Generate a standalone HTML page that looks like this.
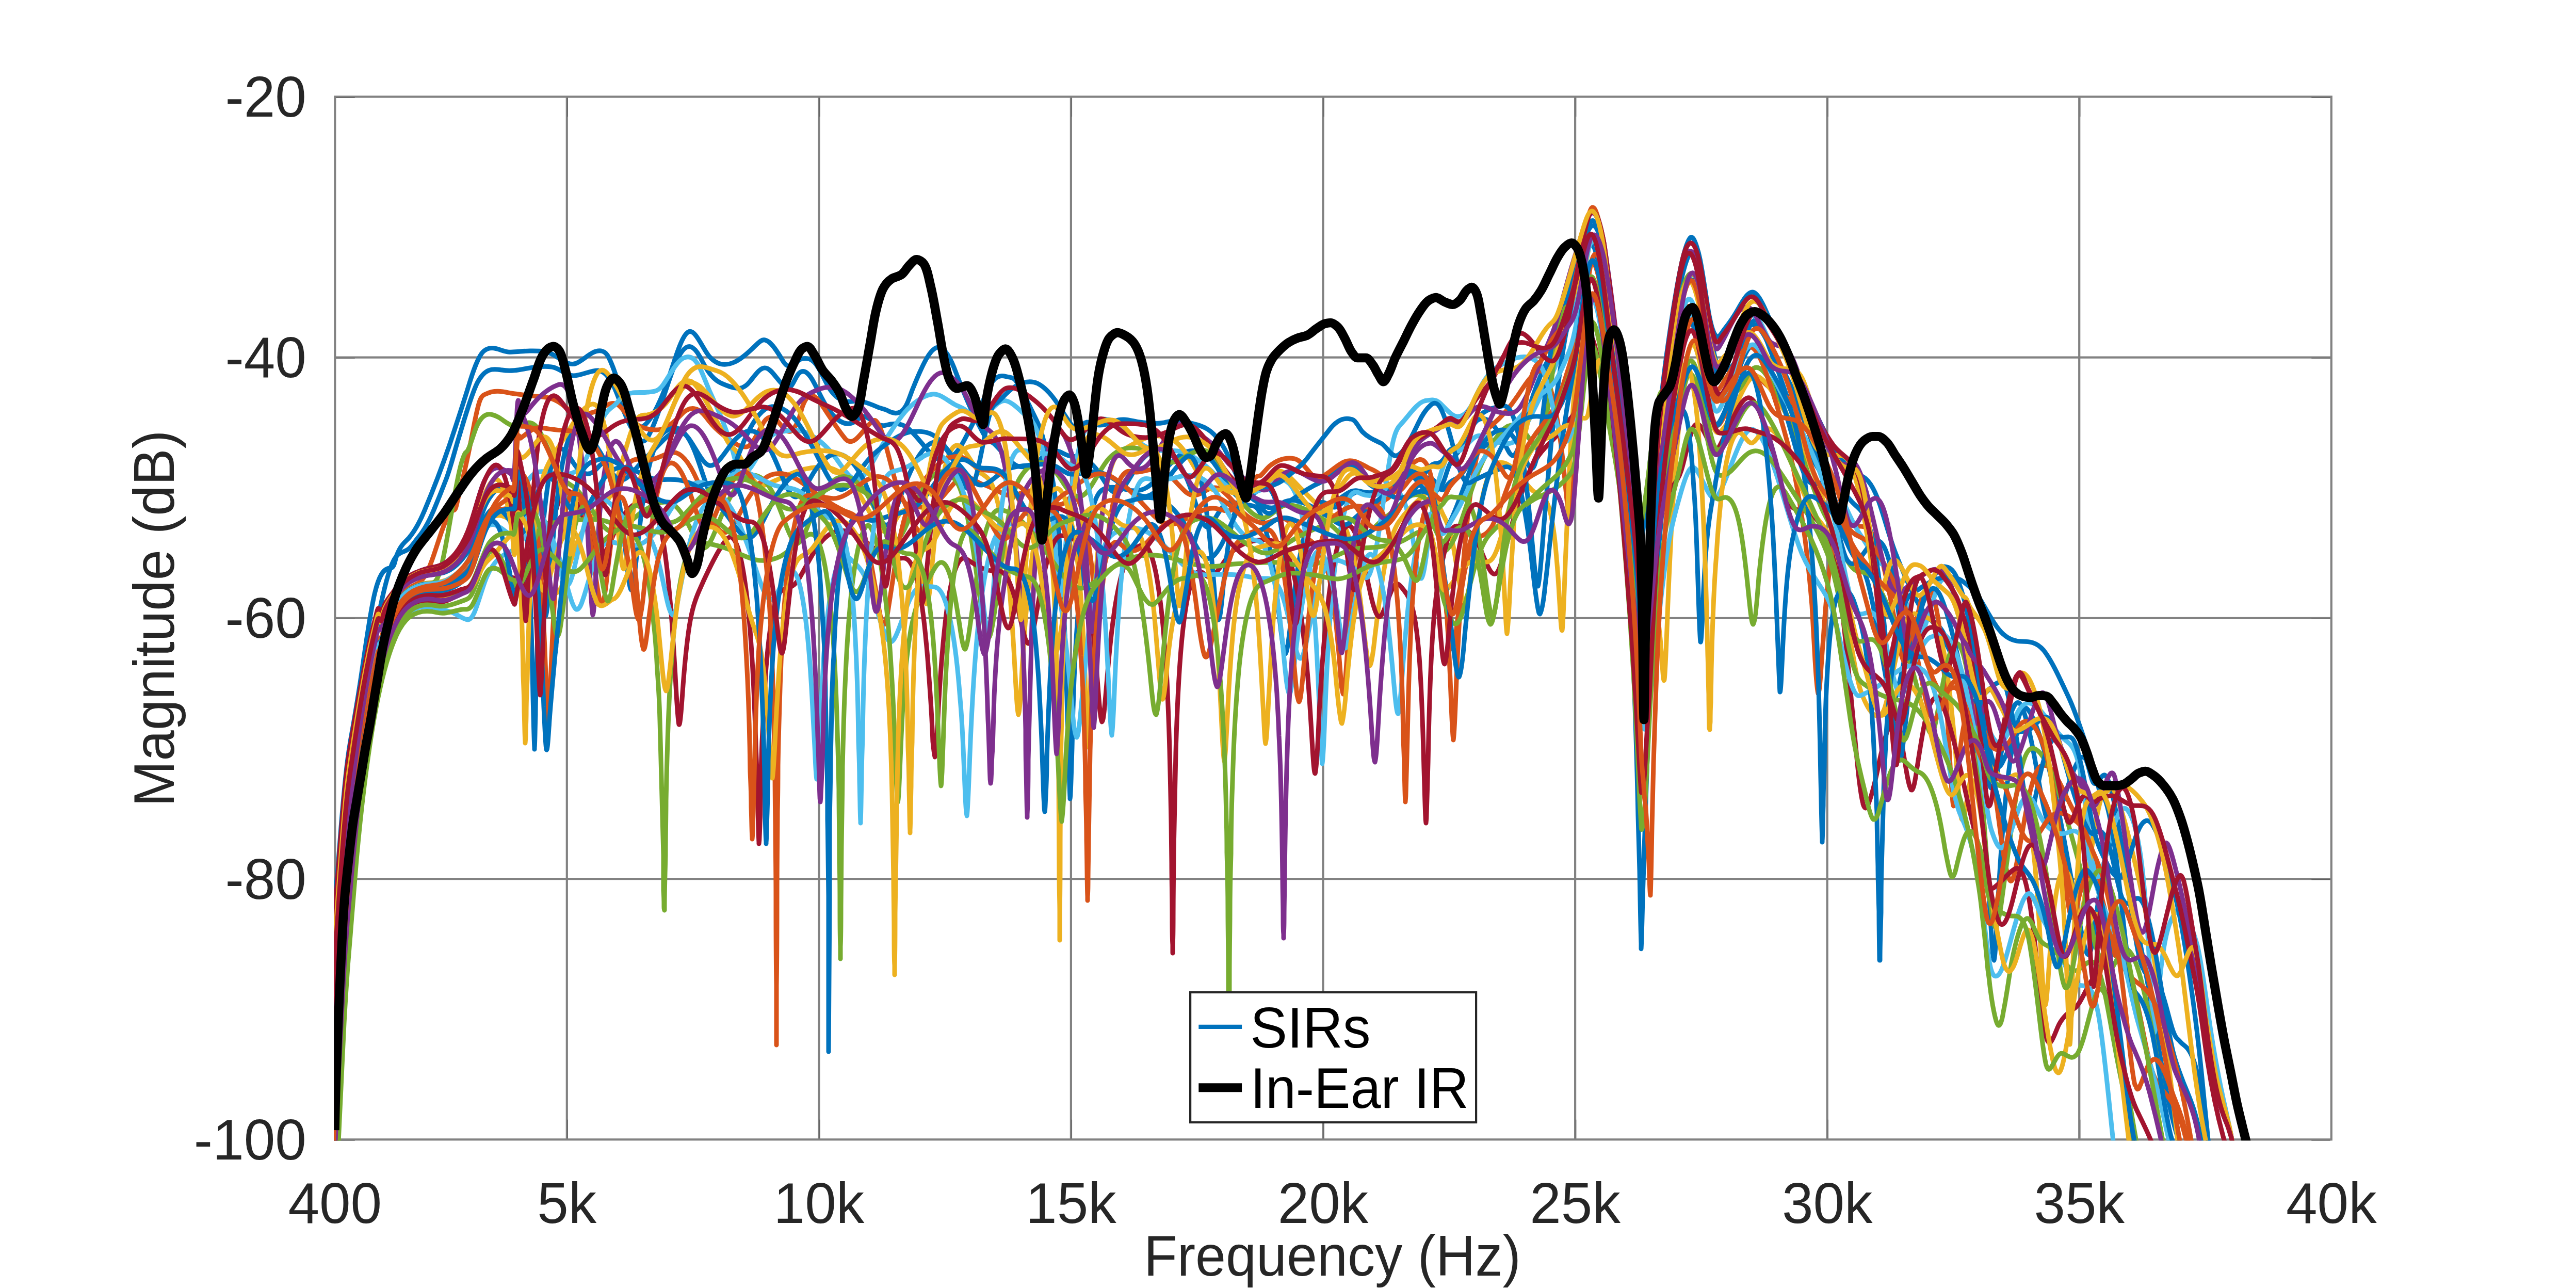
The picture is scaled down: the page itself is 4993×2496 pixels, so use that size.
<!DOCTYPE html><html><head><meta charset="utf-8"><title>plot</title><style>html,body{margin:0;padding:0;background:#fff;overflow:hidden}svg{display:block}text{font-family:"Liberation Sans",sans-serif;font-size:111.5px}</style></head><body>
<svg width="4993" height="2496" viewBox="0 0 4993 2496">
<rect width="4993" height="2496" fill="#fff"/>
<defs><clipPath id="c"><rect x="647.3" y="187.5" width="3873.5" height="2022.8000000000002"/></clipPath></defs>
<path d="M1098.8 187.5V2208.3M1587.4 187.5V2208.3M2075.9 187.5V2208.3M2564.5 187.5V2208.3M3053.1 187.5V2208.3M3541.7 187.5V2208.3M4030.2 187.5V2208.3M649.3 692.7H4518.8M649.3 1197.9H4518.8M649.3 1703.1H4518.8" stroke="#828282" stroke-width="4.2" fill="none"/>
<rect x="649.3" y="187.5" width="3869.5" height="2020.8" fill="none" stroke="#828282" stroke-width="4.2"/>
<path d="M651.3 189.0h36.5M4516.8 189.0h-36.5M651.3 694.2h36.5M4516.8 694.2h-36.5M651.3 1199.4h36.5M4516.8 1199.4h-36.5M651.3 1704.6h36.5M4516.8 1704.6h-36.5M651.3 2209.8h36.5M4516.8 2209.8h-36.5M1100.3 2206.3v-36.5M1100.3 189.5v36.5M1588.9 2206.3v-36.5M1588.9 189.5v36.5M2077.4 2206.3v-36.5M2077.4 189.5v36.5M2566.0 2206.3v-36.5M2566.0 189.5v36.5M3054.6 2206.3v-36.5M3054.6 189.5v36.5M3543.2 2206.3v-36.5M3543.2 189.5v36.5M4031.7 2206.3v-36.5M4031.7 189.5v36.5" stroke="#5c5c5c" stroke-width="1.3" fill="none"/>
<g clip-path="url(#c)" fill="none" stroke-linejoin="round">
<path d="M643 1900C645 1851 647 1789 649 1752C651 1716 653 1706 655 1681C657 1656 659 1628 661 1603C665 1554 669 1510 673 1478C677 1445 681 1426 685 1403C691 1368 697 1332 703 1290C711 1234 719 1178 727 1147C735 1115 743 1105 751 1102C755 1100 759 1104 763 1096C765 1092 767 1082 769 1076C777 1055 785 1051 793 1042C803 1030 813 1013 823 989C839 951 855 910 871 863C883 827 895 791 907 752C917 719 927 690 937 681C953 667 969 680 985 682C999 683 1013 680 1027 680C1043 680 1059 679 1075 689C1089 697 1103 710 1117 704C1133 697 1149 677 1165 680C1169 681 1173 682 1177 688C1185 700 1193 725 1201 749C1209 773 1217 802 1225 815C1231 825 1237 831 1243 828C1257 822 1271 797 1285 763C1301 725 1317 655 1333 644C1347 634 1361 675 1375 691C1391 709 1407 709 1423 702C1437 696 1451 683 1465 669C1471 663 1477 657 1483 659C1493 661 1503 676 1513 692C1517 699 1521 706 1525 708C1535 713 1545 697 1555 695C1565 693 1575 695 1585 711C1593 723 1601 743 1609 755C1623 775 1637 780 1651 778C1667 775 1683 781 1699 788C1707 792 1715 792 1723 797C1731 801 1739 803 1747 797C1751 794 1755 790 1759 780C1763 771 1767 758 1771 749C1787 710 1803 673 1819 673C1829 673 1839 687 1849 712C1865 754 1881 794 1897 823C1903 834 1909 848 1915 853C1919 857 1923 856 1927 860C1943 875 1959 900 1975 904C1991 908 2007 896 2023 885C2033 879 2043 872 2053 875C2061 878 2069 884 2077 884C2093 885 2109 888 2125 909C2139 927 2153 961 2167 954C2181 948 2195 914 2209 896C2225 876 2241 868 2257 874C2273 879 2289 898 2305 939C2313 960 2321 989 2329 1008C2335 1022 2341 1025 2347 1017C2355 1007 2363 989 2371 981C2383 969 2395 974 2407 977C2415 979 2423 978 2431 981C2441 985 2451 1010 2461 1061C2467 1091 2473 1135 2479 1189C2483 1224 2487 1263 2491 1267C2494 1267 2497 1246 2500 1221C2505 1180 2510 1135 2515 1104C2525 1042 2535 1010 2545 997C2553 986 2561 989 2569 985C2585 977 2601 961 2617 953C2631 946 2645 958 2659 954C2671 950 2683 944 2695 938C2705 934 2715 920 2725 916C2739 912 2753 949 2767 951C2771 951 2775 949 2779 950C2785 950 2791 950 2797 936C2801 927 2805 911 2809 902C2817 884 2825 880 2833 866C2843 847 2853 823 2863 815C2879 803 2895 820 2911 849C2919 863 2927 888 2935 882C2945 874 2955 823 2965 788C2979 739 2993 711 3007 686C3019 665 3031 625 3043 590C3049 573 3055 553 3061 529C3069 497 3077 456 3085 457C3093 458 3101 490 3109 542C3113 568 3117 600 3121 629C3127 673 3133 717 3139 775C3145 832 3151 901 3157 945C3163 989 3169 1016 3175 1023C3177 1026 3179 1029 3181 1024C3183 1018 3185 1002 3187 991C3189 981 3191 969 3193 961C3195 953 3197 948 3199 945C3201 941 3203 951 3205 939C3207 927 3209 897 3211 874C3213 852 3215 824 3217 803C3223 738 3229 695 3235 654C3247 570 3259 497 3271 470C3273 465 3275 461 3277 460C3281 458 3285 466 3289 479C3291 485 3293 492 3295 502C3299 521 3303 549 3307 574C3309 587 3311 602 3313 612C3319 643 3325 655 3331 652C3335 650 3339 642 3343 637C3351 627 3359 616 3367 602C3379 581 3391 558 3403 569C3415 579 3427 613 3439 639C3455 674 3471 704 3487 736C3503 768 3519 801 3535 833C3551 865 3567 887 3583 905C3591 913 3599 919 3607 922C3619 926 3631 941 3643 976C3653 1005 3663 1043 3673 1069C3687 1105 3701 1138 3715 1164C3731 1195 3747 1200 3763 1229C3775 1251 3787 1279 3799 1304C3803 1313 3807 1316 3811 1326C3813 1331 3815 1338 3817 1345C3821 1358 3825 1367 3829 1383C3835 1405 3840 1437 3846 1472C3850 1498 3854 1523 3859 1527C3859 1527 3859 1527 3859 1527C3862 1529 3865 1521 3868 1510C3875 1484 3882 1439 3889 1412C3899 1374 3909 1347 3919 1370C3927 1388 3935 1422 3943 1465C3951 1508 3959 1563 3967 1586C3973 1604 3979 1603 3985 1590C3993 1573 4001 1544 4009 1521C4017 1499 4025 1475 4033 1469C4037 1465 4041 1466 4045 1477C4049 1487 4053 1509 4057 1516C4065 1528 4073 1496 4081 1503C4089 1511 4097 1548 4105 1593C4113 1637 4121 1695 4129 1751C4138 1811 4146 1867 4155 1879C4156 1882 4158 1885 4159 1886C4168 1897 4176 1891 4185 1909C4193 1925 4200 1957 4208 1985C4211 1996 4214 2004 4217 2009C4220 2014 4223 2015 4226 2019C4232 2026 4238 2027 4243 2036C4251 2048 4259 2070 4267 2121C4275 2172 4283 2236 4291 2282C4301 2340 4311 2375 4321 2421C4325 2440 4329 2462 4333 2488C4347 2579 4361 2672 4375 2766C4387 2846 4399 2921 4411 2966C4413 2974 4415 2980 4417 2987" stroke="#0072BD" stroke-width="9"/>
<path d="M643 1912C645 1909 647 1913 649 1901C651 1889 653 1868 655 1838C657 1807 659 1751 661 1718C663 1685 665 1666 667 1641C671 1591 675 1541 679 1504C685 1448 691 1420 697 1385C709 1316 721 1258 733 1197C743 1146 753 1105 763 1086C773 1067 783 1072 793 1063C799 1058 805 1048 811 1041C821 1029 831 1012 841 988C849 969 857 949 865 928C873 907 881 875 889 849C901 810 913 766 925 742C941 711 957 715 973 717C989 720 1005 717 1021 714C1037 711 1053 709 1069 711C1083 712 1097 728 1111 728C1127 728 1143 718 1159 718C1171 719 1183 731 1195 761C1203 781 1211 803 1219 820C1231 844 1243 867 1255 848C1271 822 1287 764 1303 720C1315 688 1327 668 1339 672C1345 674 1351 681 1357 692C1363 703 1369 716 1375 723C1389 742 1403 745 1417 750C1429 754 1441 755 1453 740C1463 728 1473 712 1483 713C1495 713 1507 738 1519 747C1523 749 1527 754 1531 751C1537 747 1543 728 1549 723C1559 714 1569 724 1579 744C1589 763 1599 786 1609 798C1625 818 1641 827 1657 817C1663 813 1669 806 1675 807C1689 810 1703 829 1717 824C1731 820 1745 819 1759 829C1775 842 1791 866 1807 882C1821 896 1835 892 1849 881C1861 872 1873 845 1885 822C1893 806 1901 788 1909 768C1917 749 1925 735 1933 731C1941 726 1949 730 1957 731C1961 732 1965 732 1969 738C1981 754 1993 782 2005 806C2011 818 2017 830 2023 854C2025 862 2027 873 2029 881C2035 903 2041 923 2047 979C2052 1022 2056 1076 2061 1163C2064 1224 2067 1299 2070 1431C2072 1474 2073 1531 2074 1545C2074 1547 2074 1547 2074 1548C2074 1547 2075 1544 2075 1537C2076 1518 2077 1481 2078 1449C2081 1303 2085 1245 2089 1195C2095 1118 2101 1073 2107 1037C2117 977 2127 954 2137 949C2153 940 2169 946 2185 949C2201 953 2217 952 2233 937C2249 923 2265 900 2281 887C2297 873 2313 870 2329 878C2339 882 2349 890 2359 906C2375 932 2391 963 2407 966C2421 969 2435 949 2449 945C2458 943 2466 946 2475 978C2481 1002 2487 1045 2494 1107C2498 1148 2502 1202 2506 1208C2506 1209 2506 1209 2507 1209C2510 1210 2513 1186 2516 1160C2521 1116 2526 1074 2531 1046C2540 994 2549 977 2559 974C2568 970 2578 984 2587 983C2603 980 2619 951 2635 953C2645 954 2655 957 2665 954C2679 950 2693 950 2707 939C2717 931 2727 920 2737 922C2747 923 2757 926 2767 926C2771 926 2775 926 2779 931C2785 938 2791 951 2797 949C2801 948 2805 939 2809 936C2817 928 2825 929 2833 919C2843 906 2853 886 2863 876C2879 860 2895 857 2911 844C2927 831 2943 819 2959 796C2975 773 2991 746 3007 717C3019 696 3031 653 3043 616C3049 597 3055 576 3061 549C3069 514 3077 471 3085 474C3093 478 3101 518 3109 570C3113 596 3117 626 3121 653C3127 692 3133 728 3139 776C3147 840 3155 914 3163 966C3167 993 3171 1016 3175 1033C3177 1041 3179 1058 3181 1054C3183 1050 3185 1025 3187 1007C3189 988 3191 963 3193 943C3195 924 3197 905 3199 887C3201 870 3203 850 3205 838C3209 816 3213 820 3217 815C3219 812 3221 817 3223 804C3225 792 3227 760 3229 740C3239 642 3249 583 3259 541C3263 524 3267 510 3271 500C3273 495 3275 490 3277 489C3281 487 3285 495 3289 507C3299 536 3309 617 3319 668C3321 678 3323 689 3325 696C3329 710 3333 712 3337 714C3349 722 3361 711 3373 681C3383 656 3393 617 3403 621C3413 624 3423 657 3433 683C3449 723 3465 775 3481 817C3497 859 3513 891 3529 916C3539 932 3549 948 3559 974C3573 1009 3587 1057 3601 1084C3607 1095 3613 1104 3619 1124C3629 1158 3639 1216 3649 1276C3655 1311 3661 1351 3667 1358C3668 1358 3669 1359 3669 1359C3673 1358 3676 1348 3679 1334C3687 1302 3694 1259 3701 1233C3711 1198 3721 1191 3731 1195C3738 1198 3745 1203 3751 1207C3765 1216 3779 1246 3793 1298C3797 1313 3801 1328 3805 1344C3813 1376 3821 1421 3829 1471C3837 1520 3845 1579 3853 1698C3855 1728 3857 1761 3859 1796C3861 1830 3863 1860 3865 1861C3867 1858 3869 1816 3871 1777C3875 1703 3879 1640 3883 1594C3889 1524 3895 1480 3901 1444C3910 1392 3918 1366 3927 1372C3940 1381 3954 1423 3967 1472C3979 1516 3991 1573 4003 1639C4011 1684 4019 1728 4027 1770C4032 1793 4036 1815 4040 1832C4043 1844 4046 1852 4049 1850C4052 1847 4055 1834 4058 1812C4064 1770 4070 1721 4075 1689C4085 1632 4095 1623 4105 1644C4115 1664 4125 1715 4135 1762C4147 1819 4159 1882 4171 1953C4185 2036 4199 2123 4213 2176C4219 2199 4225 2217 4231 2240C4243 2285 4255 2328 4267 2404C4277 2467 4287 2538 4297 2600C4309 2675 4321 2742 4333 2833C4349 2955 4365 3057 4381 3127C4393 3179 4405 3215 4417 3252" stroke="#0072BD" stroke-width="9"/>
<path d="M643 2141C645 2098 647 2051 649 2012C651 1973 653 1941 655 1907C661 1805 667 1708 673 1644C675 1623 677 1607 679 1590C691 1483 703 1393 715 1326C719 1304 723 1283 727 1265C729 1256 731 1245 733 1240C735 1235 737 1240 739 1235C741 1231 743 1221 745 1216C753 1192 761 1179 769 1165C783 1142 797 1137 811 1130C821 1125 831 1105 841 1075C851 1046 861 1010 871 996C873 993 875 992 877 990C879 988 881 990 883 985C885 980 887 969 889 961C897 929 905 894 913 854C919 823 925 787 931 774C935 765 939 765 943 763C959 755 975 759 991 762C1007 764 1023 767 1039 768C1055 769 1071 770 1087 782C1099 791 1111 802 1123 802C1137 802 1151 801 1165 792C1177 784 1189 776 1201 787C1209 794 1217 807 1225 815C1241 830 1257 833 1273 833C1289 833 1305 820 1321 803C1337 786 1353 788 1369 809C1385 831 1401 843 1417 854C1427 862 1437 867 1447 866C1457 865 1467 842 1477 824C1487 805 1497 804 1507 816C1517 827 1527 844 1537 832C1541 828 1545 821 1549 810C1551 804 1553 795 1555 789C1571 744 1587 776 1603 800C1615 818 1627 837 1639 851C1655 868 1671 835 1687 820C1691 816 1695 812 1699 817C1713 831 1727 911 1741 950C1749 972 1757 980 1765 981C1781 981 1797 989 1813 976C1829 964 1845 937 1861 926C1875 917 1889 933 1903 938C1917 942 1931 950 1945 957C1959 964 1973 958 1987 953C2001 948 2015 953 2029 964C2042 975 2054 985 2067 971C2077 959 2087 955 2097 987C2103 1007 2109 1042 2116 1097C2120 1135 2124 1189 2128 1190C2128 1190 2129 1190 2129 1190C2132 1187 2135 1157 2138 1127C2143 1076 2148 1030 2153 1000C2162 943 2171 923 2181 916C2188 910 2196 916 2203 915C2219 914 2235 906 2251 911C2267 917 2283 940 2299 954C2311 964 2323 960 2335 952C2345 946 2355 942 2365 948C2377 956 2389 970 2401 984C2415 1001 2429 1009 2443 1013C2459 1018 2475 1000 2491 1006C2507 1013 2523 1036 2539 1047C2549 1054 2559 1064 2569 1093C2577 1115 2585 1152 2593 1244C2596 1272 2598 1307 2600 1329C2602 1340 2603 1346 2604 1345C2607 1339 2610 1285 2613 1241C2618 1162 2624 1107 2629 1071C2638 1012 2647 995 2656 984C2665 972 2674 975 2683 970C2691 966 2699 960 2707 947C2717 931 2727 906 2737 899C2747 891 2757 883 2767 903C2773 915 2779 942 2785 987C2790 1021 2794 1066 2799 1119C2803 1165 2807 1224 2811 1318C2813 1365 2815 1430 2817 1434C2819 1430 2821 1366 2823 1318C2829 1173 2835 1101 2841 1039C2850 941 2860 889 2869 859C2877 834 2885 830 2893 823C2909 809 2925 792 2941 768C2955 747 2969 724 2983 719C2993 715 3003 736 3013 785C3019 814 3025 849 3031 909C3035 947 3039 1001 3043 996C3046 990 3049 945 3052 899C3060 781 3067 653 3075 579C3076 566 3078 551 3079 540C3085 494 3091 487 3097 495C3103 503 3109 542 3115 583C3123 638 3131 694 3139 769C3145 826 3151 887 3157 944C3163 1000 3169 1053 3175 1132C3177 1159 3179 1205 3181 1220C3185 1249 3189 1211 3193 1179C3195 1163 3197 1153 3199 1125C3201 1098 3203 1046 3205 1014C3211 918 3217 867 3223 821C3231 759 3239 715 3247 673C3257 622 3267 583 3277 596C3283 604 3289 631 3295 667C3303 715 3311 781 3319 808C3321 815 3323 820 3325 823C3331 830 3337 816 3343 805C3359 775 3375 730 3391 725C3405 721 3419 745 3433 753C3449 763 3465 767 3481 788C3497 809 3513 854 3529 896C3541 928 3553 964 3565 991C3579 1021 3593 1020 3607 1020C3619 1020 3631 1029 3643 1068C3653 1100 3663 1151 3673 1206C3679 1239 3685 1277 3691 1283C3692 1284 3692 1284 3693 1284C3696 1283 3700 1270 3703 1254C3711 1220 3718 1184 3725 1159C3732 1137 3739 1134 3745 1150C3753 1169 3761 1213 3769 1313C3772 1345 3774 1385 3777 1430C3780 1482 3783 1548 3786 1561C3789 1569 3792 1525 3795 1494C3800 1438 3806 1404 3811 1386C3814 1378 3816 1377 3818 1373C3825 1360 3831 1357 3838 1371C3845 1387 3852 1432 3859 1478C3867 1530 3875 1600 3883 1653C3887 1677 3891 1697 3895 1705C3898 1711 3901 1706 3904 1695C3911 1669 3919 1614 3927 1572C3937 1517 3947 1487 3957 1484C3964 1482 3972 1484 3979 1494C3995 1516 4011 1561 4027 1585C4035 1597 4043 1613 4050 1643C4057 1669 4063 1688 4069 1719C4076 1750 4082 1796 4089 1825C4090 1830 4091 1835 4092 1838C4095 1846 4098 1851 4101 1853C4107 1856 4112 1852 4117 1858C4125 1867 4133 1900 4141 1936C4151 1980 4161 2044 4171 2074C4183 2111 4195 2113 4207 2132C4215 2144 4223 2157 4231 2185C4243 2227 4255 2282 4267 2367C4275 2423 4283 2485 4291 2530C4301 2587 4311 2618 4321 2654C4325 2668 4329 2685 4333 2705C4347 2776 4361 2852 4375 2950C4387 3033 4399 3136 4411 3184C4413 3192 4415 3197 4417 3203" stroke="#D95319" stroke-width="9"/>
<path d="M643 2029C645 1991 647 1949 649 1914C651 1879 653 1850 655 1819C661 1726 667 1635 673 1577C677 1538 681 1512 685 1482C699 1377 713 1294 727 1235C729 1227 731 1216 733 1212C735 1208 737 1216 739 1213C741 1211 743 1200 745 1195C753 1174 761 1163 769 1151C785 1126 801 1120 817 1115C833 1109 849 1112 865 1103C879 1096 893 1083 907 1067C919 1054 931 1017 943 1005C959 989 975 1001 991 1005C993 1006 995 1016 997 1007C999 997 1001 960 1003 950C1005 940 1007 949 1009 948C1017 942 1025 927 1033 920C1049 907 1065 918 1081 919C1095 921 1109 920 1123 909C1139 895 1155 834 1171 806C1177 796 1183 791 1189 787C1195 783 1201 773 1207 769C1223 757 1239 762 1255 760C1265 759 1275 760 1285 746C1299 726 1313 697 1327 693C1337 689 1347 693 1357 714C1363 727 1369 743 1375 757C1389 788 1403 816 1417 863C1421 876 1425 893 1429 906C1431 912 1433 920 1435 922C1437 925 1439 921 1441 920C1457 912 1473 872 1489 851C1501 836 1513 837 1525 835C1541 831 1557 834 1573 844C1589 853 1605 867 1621 889C1637 911 1653 939 1669 926C1683 915 1697 884 1711 861C1727 835 1743 810 1759 793C1775 777 1791 766 1807 764C1821 762 1835 775 1849 783C1857 788 1865 789 1873 796C1883 805 1893 815 1903 809C1919 800 1935 772 1951 777C1965 781 1979 798 1993 809C2003 816 2013 834 2023 881C2030 910 2036 949 2042 1019C2044 1046 2047 1078 2049 1107C2051 1132 2053 1153 2055 1156C2058 1156 2062 1102 2065 1062C2073 969 2081 915 2089 879C2099 835 2109 820 2119 816C2135 811 2151 809 2167 822C2183 834 2199 852 2215 862C2231 873 2247 874 2263 873C2279 873 2295 874 2311 884C2327 894 2343 906 2359 924C2373 939 2387 950 2401 956C2415 963 2429 954 2443 950C2457 946 2471 924 2485 929C2497 933 2509 940 2521 988C2529 1020 2537 1063 2545 1158C2549 1205 2553 1266 2557 1366C2559 1413 2561 1475 2563 1480C2565 1477 2567 1409 2569 1362C2575 1216 2581 1152 2587 1102C2597 1019 2607 980 2617 962C2625 948 2633 955 2641 958C2657 964 2673 958 2689 950C2699 946 2709 946 2719 966C2725 978 2731 1000 2737 1034C2742 1066 2747 1112 2753 1120C2753 1121 2754 1121 2755 1121C2758 1119 2761 1102 2764 1081C2767 1059 2770 1032 2773 1010C2781 954 2789 927 2797 905C2801 894 2805 881 2809 875C2815 866 2821 875 2827 874C2839 871 2851 849 2863 845C2879 841 2895 857 2911 859C2921 860 2931 862 2941 850C2957 832 2973 793 2989 762C2999 742 3009 728 3019 698C3027 674 3035 646 3043 619C3049 599 3055 575 3061 546C3069 507 3077 462 3085 462C3093 461 3101 494 3109 545C3113 570 3117 602 3121 631C3127 674 3133 718 3139 772C3145 827 3151 885 3157 939C3163 994 3169 1045 3175 1125C3177 1152 3179 1198 3181 1214C3183 1229 3185 1223 3187 1217C3189 1211 3191 1193 3193 1177C3195 1162 3197 1152 3199 1125C3201 1098 3203 1046 3205 1015C3211 922 3217 877 3223 836C3231 781 3239 745 3247 708C3259 651 3271 601 3283 612C3287 616 3291 623 3295 636C3305 668 3315 731 3325 735C3331 737 3337 717 3343 705C3357 675 3371 638 3385 619C3395 606 3405 611 3415 630C3421 641 3427 657 3433 669C3449 703 3465 740 3481 775C3497 810 3513 848 3529 877C3541 899 3553 923 3565 953C3579 987 3593 1018 3607 1038C3621 1059 3635 1086 3649 1094C3659 1099 3669 1100 3679 1122C3688 1140 3696 1170 3704 1202C3708 1218 3713 1232 3717 1235C3717 1235 3717 1235 3717 1236C3721 1238 3724 1233 3727 1225C3735 1205 3743 1174 3751 1151C3755 1139 3759 1128 3763 1125C3775 1113 3787 1147 3799 1190C3803 1205 3807 1217 3811 1234C3813 1243 3815 1255 3817 1264C3827 1311 3837 1352 3847 1388C3855 1417 3863 1433 3871 1439C3883 1447 3895 1415 3907 1388C3923 1352 3939 1360 3955 1377C3971 1395 3987 1422 4003 1434C4011 1441 4019 1444 4027 1473C4034 1497 4040 1544 4047 1600C4051 1635 4055 1670 4059 1685C4061 1692 4063 1698 4065 1699C4068 1701 4072 1694 4075 1682C4083 1658 4090 1621 4097 1601C4106 1575 4114 1560 4123 1569C4131 1579 4139 1596 4147 1645C4153 1681 4159 1739 4165 1846C4167 1883 4169 1927 4172 1962C4173 1981 4174 1995 4175 2000C4178 2008 4181 1957 4184 1922C4192 1832 4200 1802 4207 1786C4215 1769 4223 1753 4231 1762C4237 1769 4243 1784 4249 1801C4253 1812 4257 1822 4261 1841C4269 1878 4277 1944 4285 1997C4293 2049 4301 2091 4309 2128C4315 2155 4321 2179 4327 2215C4331 2240 4335 2273 4339 2301C4347 2358 4355 2411 4363 2465C4379 2573 4395 2672 4411 2760C4413 2771 4415 2781 4417 2792" stroke="#4DBEEE" stroke-width="9"/>
<path d="M643 2180C645 2135 647 2085 649 2045C651 2004 653 1971 655 1936C661 1831 667 1730 673 1664C675 1642 677 1626 679 1607C687 1534 695 1467 703 1412C711 1357 719 1312 727 1276C729 1267 731 1256 733 1250C735 1245 737 1248 739 1243C741 1239 743 1229 745 1223C753 1199 761 1184 769 1171C785 1143 801 1137 817 1132C833 1127 849 1131 865 1124C879 1118 893 1108 907 1092C921 1076 935 1021 949 1007C963 993 977 999 991 1009C993 1011 995 1020 997 1014C999 1008 1001 974 1003 972C1004 971 1005 974 1006 975C1016 988 1026 998 1036 1029C1043 1052 1051 1090 1059 1116C1062 1127 1065 1135 1068 1141C1071 1147 1074 1151 1077 1150C1084 1149 1092 1132 1100 1107C1110 1075 1120 1043 1130 1028C1144 1005 1157 988 1171 976C1179 970 1187 956 1195 931C1209 889 1223 823 1237 809C1243 803 1249 805 1255 804C1269 801 1283 794 1297 774C1307 759 1317 742 1327 739C1333 737 1339 737 1345 743C1361 759 1377 795 1393 823C1401 837 1409 857 1417 865C1421 868 1425 871 1429 877C1443 898 1457 934 1471 940C1481 944 1491 936 1501 932C1517 925 1533 917 1549 912C1565 907 1581 905 1597 905C1613 906 1629 913 1645 930C1661 947 1677 977 1693 1006C1703 1024 1713 1036 1723 1027C1733 1018 1743 988 1753 989C1762 991 1771 1010 1779 1064C1783 1089 1787 1126 1791 1151C1793 1164 1795 1172 1797 1170C1801 1164 1804 1127 1807 1092C1813 1027 1819 974 1825 939C1835 881 1845 863 1855 863C1869 864 1883 899 1897 913C1907 923 1917 921 1927 950C1937 979 1946 1025 1956 1133C1959 1167 1962 1208 1965 1258C1968 1308 1971 1380 1974 1385C1976 1384 1979 1337 1981 1297C1987 1199 1993 1136 1999 1091C2009 1016 2019 980 2029 962C2035 951 2041 950 2047 947C2055 944 2063 959 2071 989C2078 1013 2084 1043 2091 1110C2095 1152 2099 1204 2103 1307C2104 1341 2106 1387 2107 1420C2108 1437 2108 1446 2109 1448C2110 1445 2110 1434 2111 1417C2112 1398 2113 1371 2113 1347C2119 1164 2125 1094 2131 1038C2139 962 2147 926 2155 902C2165 873 2175 873 2185 867C2201 858 2217 848 2233 846C2249 843 2265 845 2281 858C2297 871 2313 902 2329 929C2341 948 2353 952 2365 949C2375 946 2385 941 2395 943C2405 944 2415 944 2425 942C2431 941 2437 937 2443 936C2457 932 2471 908 2485 914C2499 920 2513 939 2527 952C2543 968 2559 986 2575 995C2587 1001 2599 998 2611 1031C2620 1055 2628 1097 2637 1165C2641 1197 2645 1238 2649 1266C2651 1280 2653 1289 2655 1290C2658 1289 2662 1262 2665 1233C2671 1183 2677 1135 2683 1102C2693 1048 2703 1022 2713 1009C2727 989 2741 977 2755 964C2761 959 2767 950 2773 951C2782 952 2790 986 2799 1001C2805 1012 2811 1028 2817 1059C2822 1087 2828 1127 2833 1152C2836 1163 2838 1169 2841 1166C2844 1161 2848 1138 2851 1112C2857 1066 2863 1019 2869 986C2879 931 2889 905 2899 899C2913 891 2927 901 2941 916C2951 927 2961 942 2971 951C2980 958 2988 959 2996 970C3002 979 3009 998 3015 1059C3017 1081 3020 1113 3022 1151C3024 1183 3026 1228 3028 1221C3030 1208 3032 1143 3034 1091C3037 1009 3040 942 3043 887C3047 817 3051 764 3055 712C3065 584 3075 478 3085 466C3089 461 3093 468 3097 481C3101 493 3105 512 3109 536C3113 561 3117 593 3121 622C3127 667 3133 713 3139 770C3145 828 3151 890 3157 948C3161 986 3165 1022 3169 1070C3171 1095 3173 1123 3175 1152C3177 1181 3179 1239 3181 1254C3182 1260 3183 1259 3184 1262C3185 1266 3186 1273 3187 1275C3190 1277 3192 1262 3194 1254C3196 1248 3198 1251 3199 1239C3201 1226 3203 1200 3205 1192C3206 1188 3207 1188 3208 1187C3210 1186 3211 1187 3213 1196C3214 1205 3216 1215 3217 1229C3220 1251 3222 1296 3224 1314C3225 1319 3225 1320 3226 1317C3228 1302 3230 1243 3232 1193C3234 1135 3237 1081 3239 1037C3245 918 3252 845 3258 783C3266 700 3275 659 3283 668C3297 683 3311 815 3325 835C3331 844 3337 834 3343 827C3359 806 3375 754 3391 736C3407 717 3423 741 3439 765C3455 788 3471 816 3487 851C3503 885 3519 924 3535 973C3543 998 3551 1026 3559 1070C3569 1125 3579 1208 3590 1260C3595 1290 3601 1323 3607 1340C3616 1365 3625 1381 3634 1386C3639 1389 3644 1390 3650 1380C3650 1378 3651 1377 3652 1375C3655 1367 3658 1355 3661 1340C3669 1304 3677 1261 3685 1232C3695 1199 3704 1186 3714 1190C3724 1195 3735 1194 3745 1203C3754 1211 3762 1229 3771 1281C3777 1320 3783 1373 3790 1451C3794 1502 3798 1571 3802 1587C3802 1587 3803 1588 3803 1588C3806 1596 3809 1573 3812 1554C3818 1517 3823 1484 3829 1469C3835 1453 3841 1452 3847 1461C3859 1479 3871 1505 3883 1508C3890 1509 3896 1508 3902 1503C3912 1496 3922 1509 3932 1574C3940 1624 3948 1699 3955 1831C3958 1881 3961 1942 3964 1948C3967 1949 3970 1892 3973 1852C3979 1769 3985 1727 3991 1704C3997 1682 4003 1682 4009 1694C4015 1705 4020 1737 4026 1760C4028 1771 4031 1776 4033 1774C4037 1768 4041 1735 4045 1707C4049 1678 4053 1653 4057 1626C4067 1559 4077 1523 4087 1520C4093 1519 4099 1534 4105 1550C4117 1582 4129 1633 4141 1684C4157 1752 4173 1835 4189 1950C4201 2036 4213 2143 4225 2243C4231 2293 4237 2342 4243 2373C4251 2414 4259 2425 4267 2449C4277 2479 4287 2511 4297 2537C4307 2563 4317 2582 4327 2625C4333 2651 4339 2686 4345 2717C4361 2798 4377 2885 4393 2967C4401 3008 4409 3047 4417 3085" stroke="#EDB120" stroke-width="9"/>
<path d="M643 2183C645 2138 647 2089 649 2048C651 2007 653 1974 655 1939C661 1834 667 1733 673 1666C675 1644 677 1627 679 1609C687 1534 695 1466 703 1410C711 1355 719 1310 727 1273C729 1264 731 1253 733 1248C735 1243 737 1246 739 1242C741 1237 743 1227 745 1221C753 1198 761 1183 769 1170C785 1143 801 1138 817 1133C823 1131 829 1131 835 1131C841 1130 847 1127 853 1107C867 1059 881 940 895 895C897 888 899 883 901 879C903 876 905 876 907 872C913 861 919 836 925 824C939 795 953 802 967 809C977 815 987 825 997 825C1013 824 1029 807 1045 834C1061 861 1077 913 1093 930C1101 938 1109 940 1117 948C1133 963 1149 992 1165 1014C1177 1030 1189 1036 1201 1028C1217 1018 1233 998 1249 989C1265 979 1281 970 1297 974C1311 977 1325 997 1339 1026C1349 1046 1359 1068 1369 1060C1379 1052 1389 1021 1399 998C1415 960 1431 934 1447 925C1463 916 1479 922 1495 950C1505 967 1515 996 1525 1022C1533 1042 1541 1058 1549 1051C1559 1043 1569 1008 1579 986C1595 950 1611 930 1627 925C1643 920 1659 929 1675 950C1687 966 1699 993 1711 1018C1721 1039 1731 1056 1741 1045C1753 1033 1765 996 1777 971C1793 937 1809 914 1825 914C1835 914 1845 920 1855 935C1865 950 1875 994 1885 1058C1892 1102 1899 1161 1906 1202C1909 1221 1912 1233 1915 1236C1918 1238 1921 1227 1924 1210C1931 1168 1939 1097 1947 1047C1957 982 1967 941 1977 926C1992 902 2008 893 2023 897C2035 900 2047 914 2059 933C2075 959 2091 972 2107 953C2121 936 2135 904 2149 889C2165 871 2181 867 2197 868C2213 868 2229 878 2245 888C2259 897 2273 899 2287 891C2303 882 2319 871 2335 873C2345 875 2355 883 2365 899C2377 918 2389 941 2401 962C2415 986 2429 999 2443 1003C2459 1009 2475 982 2491 979C2507 977 2523 983 2539 991C2555 999 2571 1009 2587 1024C2601 1037 2615 1056 2629 1050C2645 1043 2661 1024 2677 1010C2691 998 2705 988 2719 973C2735 955 2751 954 2767 970C2771 973 2775 979 2779 994C2785 1015 2791 1055 2797 1064C2801 1071 2805 1065 2809 1060C2825 1041 2841 981 2857 936C2873 891 2889 862 2905 842C2921 821 2937 817 2953 835C2959 842 2965 851 2971 860C2977 868 2983 876 2989 854C2999 817 3009 712 3019 652C3025 615 3031 594 3037 585C3039 582 3041 581 3043 580C3045 578 3047 580 3049 575C3051 570 3053 557 3055 549C3063 517 3071 493 3079 477C3087 461 3095 463 3103 496C3111 530 3119 599 3127 662C3133 708 3139 758 3145 818C3151 878 3157 947 3163 998C3165 1015 3167 1035 3169 1043C3171 1052 3173 1053 3175 1049C3177 1044 3179 1029 3181 1018C3187 984 3193 938 3199 886C3201 868 3203 848 3205 832C3209 800 3213 778 3217 765C3219 759 3221 758 3223 755C3225 752 3227 756 3229 748C3231 740 3233 721 3235 708C3245 643 3255 577 3265 549C3275 521 3285 522 3295 564C3299 580 3303 604 3307 626C3311 648 3315 671 3319 690C3321 700 3323 711 3325 717C3329 730 3333 728 3337 731C3347 739 3357 761 3367 757C3377 753 3387 723 3397 715C3411 704 3425 727 3439 752C3455 781 3471 821 3487 866C3503 911 3519 962 3535 994C3543 1010 3551 1024 3559 1042C3573 1074 3587 1104 3601 1107C3609 1109 3617 1108 3625 1115C3641 1130 3657 1168 3673 1208C3683 1234 3694 1258 3704 1289C3713 1318 3723 1361 3733 1397C3737 1413 3741 1425 3745 1421C3745 1420 3746 1420 3746 1420C3750 1414 3753 1394 3757 1372C3764 1333 3771 1294 3778 1271C3787 1241 3796 1238 3805 1267C3811 1286 3817 1323 3823 1367C3831 1422 3838 1499 3846 1598C3851 1667 3856 1746 3862 1778C3862 1782 3863 1785 3864 1788C3867 1801 3870 1798 3873 1785C3874 1779 3876 1772 3877 1764C3879 1754 3881 1736 3883 1722C3885 1709 3887 1692 3889 1677C3898 1613 3907 1537 3916 1498C3929 1439 3942 1445 3955 1460C3965 1473 3975 1491 3985 1519C3999 1559 4013 1611 4027 1663C4034 1686 4040 1719 4046 1755C4052 1788 4058 1820 4063 1837C4070 1856 4076 1873 4082 1878C4084 1880 4086 1880 4088 1880C4092 1879 4096 1873 4099 1867C4106 1854 4113 1838 4120 1839C4130 1840 4140 1861 4150 1899C4165 1956 4180 2036 4195 2142C4207 2228 4219 2332 4231 2442C4237 2496 4243 2551 4249 2584C4255 2618 4261 2630 4267 2642C4283 2675 4299 2684 4315 2719C4321 2732 4327 2750 4333 2777C4349 2849 4365 2935 4381 3041C4393 3120 4405 3215 4417 3299" stroke="#77AC30" stroke-width="9"/>
<path d="M643 2457C645 2399 647 2334 649 2283C651 2232 653 2191 655 2149C657 2106 659 2068 661 2028C663 1988 665 1945 667 1910C669 1876 671 1847 673 1820C675 1793 677 1773 679 1750C685 1680 691 1611 697 1557C707 1466 717 1399 727 1347C729 1337 731 1327 733 1319C735 1311 737 1305 739 1298C747 1269 755 1242 763 1224C779 1186 795 1176 811 1170C827 1164 843 1169 859 1166C873 1163 887 1153 901 1144C905 1142 909 1141 913 1134C923 1118 933 1081 943 1070C953 1059 963 1068 973 1088C980 1102 987 1118 994 1120C995 1120 996 1119 997 1122C999 1125 1001 1149 1004 1143C1012 1122 1020 1108 1028 1119C1033 1127 1038 1141 1044 1136C1044 1135 1045 1134 1046 1133C1049 1127 1053 1108 1057 1086C1064 1050 1071 1010 1078 987C1088 952 1098 943 1108 957C1119 973 1130 1001 1141 1032C1149 1054 1157 1076 1165 1076C1175 1076 1185 1044 1195 1022C1211 989 1227 975 1243 971C1254 969 1264 967 1274 1000C1284 1031 1293 1080 1303 1215C1305 1247 1308 1288 1310 1329C1312 1364 1314 1398 1316 1404C1319 1408 1322 1352 1325 1315C1333 1218 1340 1185 1348 1163C1353 1148 1358 1139 1363 1127C1375 1101 1387 1076 1399 1058C1407 1045 1415 1034 1423 1046C1431 1057 1439 1086 1447 1151C1451 1184 1455 1226 1459 1298C1461 1334 1463 1378 1465 1442C1466 1466 1467 1493 1468 1522C1469 1563 1470 1619 1471 1632C1471 1634 1471 1634 1471 1635C1471 1634 1472 1630 1472 1622C1473 1602 1474 1561 1474 1530C1475 1496 1476 1464 1477 1438C1480 1375 1482 1337 1484 1306C1490 1225 1496 1195 1501 1174C1511 1137 1521 1142 1531 1138C1537 1136 1543 1131 1549 1121C1563 1097 1577 1067 1591 1051C1607 1032 1623 1026 1639 1029C1655 1032 1671 1043 1687 1057C1703 1070 1719 1083 1735 1083C1747 1084 1758 1072 1770 1101C1778 1122 1787 1155 1795 1243C1798 1270 1800 1303 1803 1344C1805 1373 1807 1410 1808 1437C1810 1454 1811 1466 1812 1467C1814 1464 1817 1413 1819 1371C1827 1233 1835 1172 1843 1135C1853 1089 1863 1077 1873 1083C1887 1092 1901 1102 1915 1105C1927 1108 1939 1099 1951 1118C1960 1131 1968 1159 1977 1196C1982 1219 1988 1247 1993 1247C1994 1247 1994 1247 1995 1247C1998 1244 2002 1229 2005 1210C2012 1172 2019 1127 2027 1098C2037 1057 2047 1038 2057 1038C2063 1038 2070 1038 2077 1042C2087 1047 2097 1070 2107 1130C2113 1166 2119 1218 2125 1293C2129 1337 2132 1395 2136 1399C2139 1399 2142 1360 2145 1325C2150 1261 2156 1211 2161 1177C2171 1114 2181 1085 2191 1071C2198 1062 2204 1060 2211 1057C2221 1052 2231 1063 2241 1113C2246 1141 2252 1176 2257 1248C2260 1278 2262 1313 2264 1367C2265 1391 2266 1416 2267 1454C2268 1504 2270 1555 2271 1673C2271 1703 2272 1740 2272 1773C2272 1792 2272 1819 2273 1831C2273 1840 2273 1842 2273 1847C2273 1842 2273 1840 2273 1832C2274 1819 2274 1793 2274 1774C2274 1731 2275 1684 2275 1650C2277 1552 2278 1504 2279 1459C2280 1422 2281 1398 2282 1375C2285 1305 2288 1268 2291 1237C2298 1166 2305 1140 2311 1123C2319 1104 2327 1105 2335 1113C2351 1131 2367 1093 2383 1075C2399 1056 2415 1052 2431 1048C2445 1045 2459 1045 2473 1050C2485 1055 2496 1064 2507 1111C2514 1140 2521 1177 2527 1236C2532 1273 2536 1320 2540 1385C2543 1431 2546 1499 2549 1499C2552 1493 2555 1428 2557 1379C2565 1238 2573 1168 2581 1118C2590 1058 2600 1029 2609 1021C2618 1013 2626 1027 2635 1056C2643 1084 2651 1128 2659 1162C2663 1178 2667 1191 2671 1194C2674 1197 2677 1194 2680 1188C2687 1173 2695 1146 2702 1135C2709 1126 2715 1136 2722 1145C2727 1151 2732 1158 2737 1176C2742 1192 2746 1214 2751 1274C2754 1316 2757 1372 2760 1490C2761 1521 2762 1562 2763 1582C2763 1590 2764 1594 2764 1595C2764 1593 2765 1588 2765 1579C2766 1555 2767 1512 2768 1478C2771 1316 2775 1249 2779 1201C2783 1152 2787 1132 2791 1112C2795 1091 2799 1072 2803 1056C2811 1023 2819 1017 2827 1020C2839 1025 2851 1028 2863 1050C2877 1076 2891 1134 2905 1104C2913 1087 2921 1051 2929 1022C2945 965 2961 918 2977 891C2991 867 3005 860 3019 842C3027 831 3035 821 3043 812C3047 808 3051 804 3055 787C3063 754 3071 675 3079 656C3085 642 3091 668 3097 694C3105 729 3113 771 3121 808C3125 827 3129 846 3133 870C3141 919 3149 984 3157 1046C3161 1077 3165 1105 3169 1145C3171 1165 3173 1188 3175 1212C3177 1236 3179 1279 3181 1291C3183 1302 3185 1293 3187 1282C3189 1271 3191 1242 3193 1224C3195 1205 3197 1190 3199 1170C3201 1149 3203 1122 3205 1102C3213 1022 3221 990 3229 967C3239 938 3249 942 3259 911C3267 886 3275 839 3283 827C3291 814 3299 828 3307 845C3313 859 3319 874 3325 873C3331 872 3337 856 3343 844C3359 812 3375 768 3391 771C3407 774 3423 832 3439 892C3449 929 3459 965 3469 978C3481 993 3493 986 3505 993C3517 1000 3529 1013 3541 1039C3545 1047 3549 1057 3553 1073C3563 1113 3573 1196 3583 1299C3588 1350 3593 1407 3598 1458C3602 1501 3606 1540 3611 1557C3611 1557 3611 1558 3611 1558C3614 1568 3617 1568 3620 1561C3628 1544 3636 1509 3643 1474C3650 1442 3657 1414 3664 1405C3672 1394 3680 1412 3688 1452C3693 1479 3698 1520 3704 1530C3704 1531 3705 1531 3706 1531C3709 1530 3712 1513 3715 1493C3721 1454 3727 1414 3733 1390C3739 1366 3745 1355 3751 1352C3757 1348 3763 1358 3769 1375C3779 1403 3789 1442 3799 1486C3809 1531 3819 1579 3829 1617C3833 1632 3837 1644 3841 1660C3845 1677 3849 1701 3853 1712C3859 1729 3865 1720 3871 1715C3883 1706 3895 1688 3907 1683C3917 1680 3926 1695 3935 1756C3942 1800 3949 1872 3955 1935C3959 1971 3963 2000 3967 2013C3970 2022 3973 2022 3976 2018C3981 2011 3986 1995 3991 1985C4001 1967 4011 1961 4021 1954C4033 1946 4045 1911 4057 1896C4061 1891 4065 1888 4069 1894C4081 1909 4093 1980 4105 2041C4109 2061 4113 2079 4117 2103C4123 2138 4129 2181 4135 2216C4143 2263 4151 2301 4159 2344C4175 2431 4191 2526 4207 2625C4223 2725 4239 2830 4255 2926C4269 3009 4283 3090 4297 3152C4309 3205 4321 3250 4333 3307C4349 3384 4365 3464 4381 3557C4393 3627 4405 3705 4417 3785" stroke="#A2142F" stroke-width="9"/>
<path d="M643 2187C645 2141 647 2092 649 2051C651 2010 653 1977 655 1942C661 1836 667 1734 673 1667C675 1645 677 1628 679 1610C687 1534 695 1466 703 1411C711 1356 719 1310 727 1274C729 1265 731 1254 733 1249C735 1243 737 1246 739 1242C741 1238 743 1228 745 1222C753 1198 761 1184 769 1170C785 1144 801 1138 817 1133C833 1129 849 1135 865 1127C879 1121 893 1108 907 1087C919 1068 931 1019 943 999C959 973 975 987 991 1014C993 1017 995 1023 997 1024C999 1026 1001 1001 1003 1003C1005 1005 1007 1015 1009 1021C1019 1048 1029 1031 1039 1084C1042 1101 1046 1125 1049 1150C1052 1173 1055 1198 1058 1193C1062 1184 1065 1125 1069 1079C1077 983 1085 921 1093 884C1103 837 1113 828 1123 832C1139 838 1155 860 1171 890C1183 912 1195 934 1207 930C1221 926 1235 903 1249 890C1263 877 1277 861 1291 848C1305 834 1319 830 1333 847C1347 864 1361 899 1375 902C1391 905 1407 872 1423 854C1439 836 1455 829 1471 841C1485 851 1499 881 1513 916C1523 941 1533 965 1543 963C1555 961 1567 931 1579 913C1595 889 1611 877 1627 880C1643 883 1659 900 1675 932C1685 953 1695 984 1705 1004C1711 1016 1717 1021 1723 1015C1733 1004 1743 968 1753 942C1769 901 1785 871 1801 861C1817 850 1833 863 1849 895C1855 907 1861 924 1867 936C1875 952 1883 953 1891 926C1901 893 1911 821 1921 795C1925 784 1929 783 1933 780C1943 771 1953 759 1963 752C1979 741 1995 736 2011 743C2025 750 2039 765 2053 787C2059 797 2065 806 2071 815C2077 825 2083 831 2089 828C2095 826 2101 819 2107 818C2115 818 2123 824 2131 824C2141 824 2151 821 2161 816C2177 809 2193 816 2209 818C2225 820 2241 822 2257 819C2269 816 2281 812 2293 816C2309 821 2325 822 2341 832C2355 841 2369 857 2383 889C2393 912 2403 941 2413 949C2417 952 2421 953 2425 957C2437 971 2449 997 2461 995C2471 993 2481 976 2491 972C2507 966 2523 972 2539 980C2555 987 2571 999 2587 1010C2597 1017 2607 1021 2617 1012C2627 1004 2637 993 2647 987C2663 977 2679 962 2695 950C2709 939 2723 910 2737 913C2747 916 2757 924 2767 938C2771 944 2775 951 2779 966C2785 988 2791 1026 2797 1031C2801 1034 2805 1024 2809 1015C2821 990 2833 957 2845 923C2861 878 2877 851 2893 840C2907 830 2921 829 2935 849C2943 860 2951 879 2959 895C2965 907 2971 917 2977 893C2985 860 2993 776 3001 715C3009 654 3017 611 3025 594C3029 586 3033 589 3037 581C3039 576 3041 567 3043 561C3049 541 3055 521 3061 499C3071 464 3081 430 3091 438C3095 442 3099 449 3103 466C3105 474 3107 486 3109 497C3119 553 3129 627 3139 710C3143 743 3147 778 3151 817C3155 856 3159 898 3163 937C3167 976 3171 1010 3175 1068C3177 1097 3179 1149 3181 1167C3183 1186 3185 1179 3187 1181C3189 1183 3191 1182 3193 1181C3195 1180 3197 1180 3199 1174C3209 1144 3219 1020 3229 902C3235 831 3241 761 3247 718C3251 689 3255 671 3259 656C3267 625 3275 613 3283 634C3289 650 3295 684 3301 720C3309 767 3317 817 3325 824C3331 829 3337 812 3343 797C3359 756 3375 692 3391 673C3407 655 3423 693 3439 733C3453 768 3467 820 3481 870C3489 899 3497 923 3505 932C3517 945 3529 933 3541 934C3557 936 3573 953 3589 972C3599 983 3609 987 3619 1009C3629 1030 3639 1089 3649 1179C3655 1234 3661 1307 3667 1378C3671 1423 3675 1458 3679 1472C3679 1473 3679 1474 3680 1474C3682 1474 3684 1473 3686 1461C3692 1423 3698 1354 3704 1304C3714 1224 3723 1175 3733 1146C3739 1129 3745 1122 3751 1113C3757 1103 3763 1098 3769 1098C3777 1099 3785 1101 3793 1120C3797 1129 3801 1141 3805 1155C3807 1162 3809 1168 3811 1177C3813 1186 3815 1199 3817 1209C3825 1252 3833 1299 3841 1353C3847 1393 3853 1437 3859 1461C3866 1488 3873 1492 3880 1480C3887 1466 3894 1451 3901 1437C3906 1429 3910 1419 3914 1418C3920 1417 3925 1418 3931 1415C3931 1414 3932 1414 3932 1414C3936 1414 3940 1409 3943 1406C3951 1398 3959 1388 3967 1390C3977 1392 3987 1421 3997 1458C4009 1502 4021 1547 4033 1577C4041 1596 4049 1616 4057 1616C4061 1616 4065 1610 4069 1610C4077 1611 4085 1625 4093 1657C4099 1681 4105 1716 4111 1734C4112 1737 4113 1741 4115 1743C4118 1749 4121 1751 4124 1751C4131 1750 4139 1737 4147 1742C4157 1748 4167 1786 4177 1842C4189 1909 4201 1996 4213 2042C4219 2065 4225 2079 4231 2095C4243 2126 4255 2146 4267 2211C4275 2254 4283 2307 4291 2354C4301 2413 4311 2466 4321 2539C4325 2569 4329 2603 4333 2641C4343 2737 4353 2843 4363 2947C4371 3030 4379 3111 4387 3152C4397 3203 4407 3202 4417 3210" stroke="#0072BD" stroke-width="9"/>
<path d="M643 2053C645 2013 647 1970 649 1934C651 1898 653 1869 655 1837C661 1742 667 1649 673 1589C677 1549 681 1522 685 1491C699 1383 713 1298 727 1239C729 1231 731 1220 733 1216C735 1212 737 1219 739 1216C741 1213 743 1203 745 1198C753 1176 761 1165 769 1153C785 1128 801 1122 817 1117C833 1112 849 1115 865 1108C879 1102 893 1090 907 1068C919 1049 931 999 943 975C954 954 964 946 974 942C981 940 987 947 994 966C995 970 996 981 997 977C999 970 1001 878 1003 885C1005 891 1007 909 1009 923C1014 954 1018 989 1023 1061C1026 1116 1030 1182 1033 1349C1034 1387 1035 1435 1036 1449C1036 1451 1036 1451 1036 1452C1036 1451 1036 1451 1036 1449C1037 1440 1037 1410 1038 1385C1038 1361 1039 1335 1040 1312C1043 1170 1046 1114 1049 1065C1054 992 1059 958 1063 931C1073 873 1083 864 1093 872C1101 878 1109 895 1117 905C1131 922 1145 923 1159 906C1169 893 1179 891 1189 924C1196 947 1204 989 1211 1052C1215 1090 1219 1140 1223 1143C1223 1143 1223 1143 1224 1143C1227 1141 1230 1115 1233 1087C1238 1035 1244 985 1249 951C1259 891 1269 862 1279 847C1287 835 1295 833 1303 830C1317 826 1331 838 1345 871C1355 894 1365 931 1375 954C1383 973 1391 978 1399 966C1411 947 1423 902 1435 872C1451 831 1467 804 1483 793C1499 783 1515 788 1531 802C1547 816 1563 844 1579 874C1595 904 1611 943 1627 948C1643 954 1659 922 1675 901C1691 880 1707 868 1723 857C1739 846 1755 837 1771 836C1787 836 1803 836 1819 851C1833 864 1847 887 1861 903C1875 919 1889 942 1903 940C1919 938 1935 917 1951 910C1967 903 1983 903 1999 901C2015 900 2031 897 2047 904C2057 909 2067 919 2077 919C2093 919 2109 913 2125 914C2141 916 2157 926 2173 938C2189 950 2205 963 2221 962C2237 960 2253 940 2269 920C2279 907 2289 894 2299 886C2309 879 2319 890 2329 937C2336 967 2342 1009 2348 1078C2351 1104 2353 1134 2355 1159C2357 1181 2359 1198 2361 1201C2365 1204 2368 1168 2371 1136C2377 1078 2383 1034 2389 1009C2397 976 2405 967 2413 962C2419 957 2425 965 2431 969C2443 976 2455 986 2467 984C2483 982 2499 972 2515 961C2529 951 2543 942 2557 936C2573 929 2589 910 2605 903C2613 899 2621 899 2629 907C2639 918 2649 936 2659 942C2671 949 2683 954 2695 960C2711 969 2727 967 2743 947C2755 932 2767 903 2779 899C2785 897 2791 899 2797 891C2801 887 2805 877 2809 873C2815 866 2821 869 2827 864C2839 854 2851 822 2863 810C2879 793 2895 790 2911 787C2919 785 2927 789 2935 813C2945 842 2954 893 2963 981C2966 1009 2969 1042 2972 1074C2975 1105 2978 1137 2981 1136C2981 1136 2981 1136 2981 1136C2984 1130 2987 1090 2990 1050C2996 974 3002 907 3007 855C3017 763 3027 690 3037 636C3043 603 3049 578 3055 547C3065 495 3075 433 3085 428C3093 424 3101 446 3109 494C3113 518 3117 550 3121 579C3127 623 3133 669 3139 727C3145 785 3151 848 3157 907C3163 965 3169 1020 3175 1103C3177 1131 3179 1179 3181 1196C3183 1213 3185 1208 3187 1203C3189 1199 3191 1183 3193 1169C3195 1154 3197 1145 3199 1117C3201 1088 3203 1032 3205 999C3209 932 3213 891 3217 854C3225 780 3233 736 3241 689C3253 617 3265 545 3277 542C3283 540 3289 554 3295 580C3301 606 3307 650 3313 679C3317 699 3321 714 3325 720C3331 729 3337 715 3343 706C3357 688 3371 655 3385 637C3397 621 3409 631 3421 653C3437 683 3453 709 3469 743C3485 777 3501 823 3517 872C3531 915 3545 957 3559 1013C3565 1038 3571 1065 3577 1079C3593 1114 3609 1072 3625 1056C3635 1046 3644 1042 3654 1064C3662 1082 3671 1123 3679 1181C3685 1217 3690 1263 3695 1274C3695 1274 3696 1275 3696 1275C3699 1278 3702 1270 3705 1259C3710 1239 3716 1210 3721 1190C3727 1168 3733 1152 3739 1145C3747 1136 3755 1140 3763 1159C3773 1183 3783 1220 3793 1265C3797 1282 3801 1301 3805 1315C3807 1321 3809 1326 3811 1332C3813 1338 3815 1346 3817 1350C3827 1371 3837 1353 3847 1344C3858 1334 3870 1320 3881 1321C3888 1322 3894 1355 3901 1391C3906 1414 3910 1437 3915 1471C3920 1512 3926 1564 3931 1579C3932 1580 3932 1581 3933 1582C3936 1586 3940 1573 3943 1556C3950 1520 3958 1482 3965 1460C3975 1431 3985 1426 3995 1428C4000 1429 4004 1428 4009 1428C4013 1428 4017 1429 4021 1438C4031 1460 4041 1517 4051 1573C4061 1629 4071 1648 4081 1668C4088 1683 4095 1693 4102 1699C4105 1701 4108 1702 4111 1699C4114 1696 4117 1690 4120 1683C4128 1663 4135 1631 4143 1613C4153 1589 4163 1583 4173 1600C4185 1620 4196 1653 4207 1698C4215 1730 4223 1761 4231 1809C4239 1856 4247 1910 4255 1972C4259 2003 4263 2038 4267 2078C4275 2158 4283 2245 4291 2318C4301 2409 4311 2481 4321 2545C4325 2570 4329 2596 4333 2623C4347 2716 4361 2772 4375 2833C4389 2894 4403 2954 4417 3014" stroke="#0072BD" stroke-width="9"/>
<path d="M643 2222C645 2175 647 2123 649 2080C651 2038 653 2004 655 1967C661 1859 667 1754 673 1686C675 1664 677 1647 679 1628C687 1551 695 1481 703 1425C711 1369 719 1323 727 1286C729 1277 731 1266 733 1260C735 1255 737 1256 739 1252C741 1247 743 1237 745 1231C755 1201 765 1182 775 1168C791 1146 807 1140 823 1137C839 1133 855 1137 871 1130C883 1124 895 1115 907 1100C919 1085 931 1037 943 1014C959 984 975 986 991 985C993 985 995 1001 997 985C999 969 1001 927 1003 910C1005 892 1007 913 1009 915C1019 922 1029 941 1039 1015C1043 1045 1047 1087 1051 1156C1053 1189 1055 1231 1057 1284C1059 1334 1061 1406 1063 1412C1064 1411 1064 1402 1065 1388C1066 1377 1066 1362 1066 1349C1067 1325 1068 1298 1069 1275C1073 1178 1077 1127 1081 1087C1089 1009 1097 980 1105 962C1112 946 1118 949 1125 968C1133 991 1141 1026 1149 1078C1154 1110 1159 1154 1164 1169C1165 1172 1166 1174 1167 1173C1170 1169 1174 1142 1177 1113C1183 1061 1189 1012 1195 978C1205 922 1215 898 1225 893C1235 887 1245 892 1255 892C1271 892 1287 879 1303 877C1319 875 1335 894 1351 930C1367 966 1383 1022 1399 1031C1415 1040 1431 998 1447 971C1463 944 1479 926 1495 920C1511 915 1527 918 1543 928C1559 937 1575 952 1591 963C1607 974 1623 984 1639 991C1650 995 1661 996 1671 1024C1679 1045 1687 1081 1695 1129C1701 1161 1706 1202 1711 1210C1712 1211 1713 1211 1713 1211C1717 1209 1720 1193 1723 1172C1729 1135 1735 1091 1741 1059C1751 1006 1761 974 1771 958C1779 945 1787 937 1795 926C1811 905 1827 889 1843 886C1855 883 1867 884 1879 895C1889 904 1899 910 1909 911C1923 912 1937 911 1951 929C1967 950 1983 989 1999 1003C2011 1014 2023 1002 2035 986C2045 972 2055 962 2065 956C2081 946 2097 930 2113 923C2129 915 2145 917 2161 928C2177 938 2193 953 2209 970C2225 987 2241 1008 2257 1014C2273 1021 2289 1011 2305 1002C2321 993 2337 984 2353 985C2365 985 2377 995 2389 987C2405 977 2421 931 2437 923C2439 922 2441 923 2443 922C2449 917 2455 908 2461 903C2477 890 2493 886 2509 889C2519 891 2529 904 2539 916C2545 923 2551 928 2557 926C2573 921 2589 902 2605 895C2621 888 2637 898 2653 907C2661 911 2669 913 2677 922C2689 936 2701 958 2713 951C2721 947 2729 931 2737 925C2749 916 2760 908 2772 942C2780 967 2789 1038 2797 1122C2800 1146 2802 1171 2805 1195C2808 1224 2811 1251 2814 1257C2817 1260 2820 1241 2823 1218C2828 1177 2834 1134 2839 1107C2849 1058 2859 1044 2869 1040C2877 1036 2885 1033 2893 1018C2905 996 2917 954 2929 926C2945 889 2961 862 2977 840C2989 823 3001 812 3013 789C3023 769 3033 737 3043 704C3047 691 3051 676 3055 654C3065 600 3075 509 3085 507C3093 505 3101 543 3109 597C3113 624 3117 656 3121 685C3127 729 3133 774 3139 829C3145 884 3151 942 3157 996C3163 1051 3169 1103 3175 1180C3177 1206 3179 1251 3181 1264C3185 1291 3189 1243 3193 1208C3195 1190 3197 1177 3199 1154C3201 1131 3203 1095 3205 1070C3211 996 3217 954 3223 913C3231 859 3239 815 3247 765C3257 704 3267 636 3277 622C3283 613 3289 622 3295 642C3303 669 3311 720 3319 742C3321 747 3323 753 3325 755C3331 761 3337 746 3343 737C3357 716 3371 685 3385 674C3397 665 3409 684 3421 717C3435 755 3449 800 3463 852C3471 881 3479 920 3487 967C3495 1015 3503 1067 3512 1173C3514 1204 3516 1242 3518 1279C3520 1311 3522 1341 3524 1344C3528 1342 3530 1282 3534 1239C3541 1129 3549 1077 3556 1050C3566 1015 3576 1016 3586 1027C3599 1042 3612 1040 3625 1053C3641 1070 3657 1100 3673 1132C3683 1153 3693 1171 3703 1213C3713 1253 3723 1309 3732 1353C3737 1373 3741 1388 3745 1393C3745 1394 3745 1394 3745 1394C3749 1397 3753 1392 3757 1384C3765 1367 3773 1341 3781 1328C3791 1312 3801 1319 3811 1338C3813 1342 3815 1349 3817 1353C3825 1371 3833 1383 3841 1403C3847 1418 3853 1438 3859 1445C3871 1459 3883 1454 3895 1437C3903 1425 3911 1407 3919 1401C3933 1390 3947 1406 3961 1446C3971 1473 3980 1523 3990 1597C3996 1643 4002 1706 4008 1747C4010 1761 4012 1770 4014 1775C4017 1782 4020 1776 4023 1765C4028 1746 4034 1719 4039 1706C4045 1691 4051 1696 4057 1703C4061 1707 4065 1711 4069 1723C4077 1745 4085 1788 4093 1817C4105 1861 4117 1879 4129 1892C4141 1906 4153 1908 4165 1925C4179 1945 4193 1980 4207 2029C4215 2057 4223 2084 4231 2124C4239 2163 4247 2207 4255 2258C4267 2334 4279 2447 4291 2542C4303 2636 4315 2716 4327 2810C4333 2857 4339 2909 4345 2950C4361 3059 4377 3119 4393 3173C4401 3199 4409 3224 4417 3249" stroke="#D95319" stroke-width="9"/>
<path d="M643 2516C645 2456 647 2388 649 2335C651 2282 653 2241 655 2197C657 2153 659 2114 661 2073C663 2032 665 1987 667 1951C669 1916 671 1886 673 1858C675 1831 677 1810 679 1785C685 1712 691 1640 697 1583C711 1451 725 1368 739 1312C753 1257 767 1219 781 1201C797 1179 813 1175 829 1176C845 1176 861 1182 877 1187C887 1191 897 1200 907 1201C911 1201 915 1196 919 1188C927 1170 935 1138 943 1119C959 1082 975 1075 991 1068C993 1067 995 1067 997 1065C999 1063 1001 1057 1003 1054C1007 1049 1011 1047 1015 1043C1025 1032 1035 1021 1045 1023C1056 1025 1066 1032 1076 1057C1086 1081 1095 1123 1105 1156C1109 1169 1113 1179 1117 1181C1118 1181 1118 1181 1118 1181C1122 1181 1126 1174 1129 1164C1137 1142 1145 1108 1153 1086C1163 1059 1173 1049 1183 1050C1199 1052 1215 1059 1231 1057C1247 1056 1263 1042 1279 1020C1295 998 1311 966 1327 950C1343 934 1359 931 1375 940C1391 950 1407 965 1423 995C1437 1021 1451 1060 1465 1103C1475 1133 1485 1164 1495 1162C1507 1160 1519 1114 1531 1107C1541 1102 1550 1119 1559 1181C1564 1215 1569 1261 1574 1352C1576 1385 1578 1427 1580 1466C1581 1490 1582 1508 1583 1510C1585 1506 1587 1452 1589 1410C1592 1351 1595 1303 1597 1267C1603 1189 1609 1152 1615 1125C1625 1079 1635 1071 1645 1080C1657 1092 1669 1099 1681 1127C1690 1147 1699 1180 1708 1209C1714 1225 1719 1240 1724 1243C1725 1244 1726 1244 1726 1244C1729 1244 1732 1241 1735 1235C1743 1220 1751 1192 1759 1172C1769 1147 1779 1135 1789 1136C1797 1137 1805 1136 1813 1138C1823 1140 1833 1158 1843 1207C1849 1237 1855 1273 1861 1355C1864 1386 1866 1425 1868 1474C1870 1518 1872 1579 1874 1581C1876 1574 1878 1509 1880 1460C1886 1313 1892 1246 1898 1193C1908 1107 1918 1069 1927 1046C1935 1027 1943 1024 1951 1019C1967 1010 1983 1012 1999 1022C2008 1028 2016 1035 2025 1048C2035 1062 2045 1098 2055 1163C2061 1204 2068 1260 2074 1327C2078 1371 2082 1426 2087 1429C2087 1429 2087 1429 2087 1429C2090 1428 2093 1399 2096 1366C2102 1302 2108 1240 2113 1195C2123 1116 2133 1073 2143 1053C2151 1037 2159 1034 2167 1029C2183 1021 2199 1021 2215 1027C2231 1033 2247 1047 2263 1064C2279 1080 2295 1099 2311 1108C2327 1116 2343 1114 2359 1113C2375 1113 2391 1113 2407 1115C2423 1118 2439 1122 2455 1121C2465 1120 2475 1125 2485 1152C2493 1174 2501 1212 2509 1247C2513 1264 2517 1277 2521 1276C2521 1276 2521 1276 2521 1276C2525 1275 2529 1260 2533 1240C2541 1201 2549 1157 2557 1130C2567 1096 2577 1085 2587 1085C2603 1086 2619 1096 2635 1110C2641 1115 2647 1125 2653 1116C2661 1103 2669 1058 2677 1003C2685 947 2693 884 2701 852C2707 828 2713 825 2719 818C2733 802 2747 781 2761 777C2771 775 2781 772 2791 781C2803 792 2815 809 2827 807C2837 806 2847 798 2857 776C2871 744 2885 722 2899 713C2915 704 2931 694 2947 692C2959 690 2971 692 2983 705C2987 709 2991 716 2995 729C3007 767 3019 844 3031 855C3035 858 3039 855 3043 846C3045 841 3047 836 3049 827C3059 779 3069 638 3079 595C3089 552 3099 608 3109 675C3113 701 3117 731 3121 759C3128 807 3135 857 3142 918C3149 981 3156 1050 3163 1128C3165 1150 3167 1172 3169 1200C3173 1250 3176 1310 3180 1372C3180 1380 3181 1389 3181 1395C3183 1418 3184 1404 3186 1409C3186 1410 3187 1413 3187 1413C3189 1414 3190 1399 3191 1392C3195 1368 3199 1348 3204 1310C3204 1309 3204 1307 3204 1306C3206 1283 3209 1261 3211 1237C3219 1160 3227 1092 3235 1048C3243 1005 3251 979 3259 951C3267 924 3275 902 3283 906C3295 912 3307 955 3319 964C3329 971 3339 943 3349 918C3365 877 3381 829 3397 832C3413 836 3429 876 3445 925C3461 975 3477 1036 3493 1074C3509 1111 3525 1129 3541 1157C3547 1168 3553 1184 3559 1209C3569 1249 3579 1302 3589 1328C3593 1339 3597 1346 3601 1348C3607 1350 3613 1344 3619 1342C3635 1335 3651 1322 3667 1309C3683 1296 3699 1286 3715 1292C3725 1296 3735 1300 3745 1327C3753 1349 3761 1381 3769 1431C3775 1468 3781 1506 3787 1536C3788 1540 3789 1543 3790 1547C3793 1560 3796 1570 3799 1577C3807 1595 3815 1612 3823 1646C3827 1662 3831 1683 3835 1707C3837 1720 3839 1732 3842 1749C3847 1797 3853 1857 3859 1878C3863 1892 3867 1893 3871 1891C3883 1886 3895 1827 3907 1787C3917 1753 3927 1723 3937 1734C3945 1743 3953 1770 3961 1784C3969 1799 3977 1812 3985 1830C3999 1861 4013 1901 4027 1908C4037 1913 4047 1904 4057 1927C4061 1937 4065 1951 4069 1976C4081 2049 4093 2195 4105 2293C4109 2326 4113 2354 4117 2385C4123 2432 4129 2483 4135 2522C4141 2561 4147 2590 4153 2623C4169 2710 4185 2803 4201 2893C4217 2984 4233 3070 4249 3141C4265 3213 4281 3272 4297 3328C4313 3383 4329 3436 4345 3498C4361 3559 4377 3627 4393 3707C4401 3746 4409 3790 4417 3834" stroke="#4DBEEE" stroke-width="9"/>
<path d="M643 1900C645 1867 647 1833 649 1802C651 1772 653 1746 655 1719C661 1635 667 1554 673 1502C677 1468 681 1446 685 1421C699 1334 713 1257 727 1204C729 1196 731 1184 733 1182C735 1180 737 1193 739 1192C741 1191 743 1179 745 1175C751 1161 757 1155 763 1147C773 1132 783 1122 793 1116C809 1107 825 1102 841 1099C857 1096 873 1088 889 1065C897 1053 905 1039 913 1014C921 988 929 956 937 936C953 897 969 905 985 915C987 916 989 918 991 919C993 920 995 943 997 923C999 903 1001 819 1003 799C1005 779 1007 804 1009 804C1017 806 1025 792 1033 783C1049 764 1065 752 1081 746C1091 742 1101 747 1111 788C1118 814 1124 851 1131 921C1135 965 1139 1026 1143 1105C1145 1144 1147 1188 1149 1192C1151 1191 1153 1151 1155 1115C1158 1051 1162 1000 1165 965C1174 884 1182 862 1191 856C1202 849 1214 887 1225 913C1237 941 1249 958 1261 949C1277 938 1293 891 1309 853C1323 821 1337 801 1351 797C1367 793 1383 803 1399 810C1415 817 1431 829 1447 847C1463 864 1479 883 1495 866C1511 849 1527 809 1543 787C1559 765 1575 759 1591 753C1607 748 1623 750 1639 760C1655 771 1671 788 1687 810C1703 833 1719 862 1735 855C1751 847 1767 809 1783 775C1799 741 1815 718 1831 723C1839 725 1847 733 1855 741C1863 748 1871 762 1879 780C1887 798 1895 814 1903 822C1913 833 1923 834 1933 854C1943 874 1953 923 1963 1002C1967 1034 1971 1069 1975 1122C1978 1151 1980 1184 1982 1234C1984 1275 1986 1325 1988 1414C1988 1438 1988 1468 1989 1496C1990 1527 1990 1567 1991 1579C1991 1582 1991 1583 1991 1584C1991 1582 1991 1582 1991 1578C1992 1561 1993 1511 1993 1472C1996 1335 1998 1265 2000 1210C2004 1116 2008 1067 2011 1024C2019 932 2027 890 2035 862C2045 828 2055 829 2065 848C2074 867 2083 891 2093 957C2098 993 2103 1042 2108 1116C2111 1161 2114 1221 2117 1224C2120 1221 2123 1161 2126 1118C2134 1003 2141 950 2149 919C2159 879 2169 877 2179 889C2195 909 2211 917 2227 898C2243 879 2259 845 2275 829C2287 817 2299 821 2311 830C2323 840 2335 848 2347 858C2359 868 2371 888 2383 900C2393 909 2403 923 2413 928C2423 933 2433 941 2443 947C2453 954 2463 947 2473 933C2487 915 2501 909 2515 914C2531 919 2547 934 2563 933C2579 933 2595 911 2611 900C2619 895 2627 895 2635 904C2643 913 2651 928 2659 935C2675 951 2691 970 2707 941C2717 923 2727 889 2737 874C2753 849 2769 843 2785 833C2795 827 2805 812 2815 816C2821 819 2827 823 2833 819C2843 811 2853 792 2863 789C2879 783 2895 798 2911 800C2923 802 2935 805 2947 788C2963 765 2979 717 2995 679C3003 659 3011 645 3019 615C3029 579 3039 541 3049 508C3057 482 3065 454 3073 432C3083 404 3093 405 3103 444C3105 452 3107 460 3109 471C3111 483 3113 498 3115 512C3123 568 3131 627 3139 709C3145 772 3151 840 3157 905C3163 969 3169 1029 3175 1114C3177 1142 3179 1190 3181 1206C3183 1222 3185 1216 3187 1211C3189 1205 3191 1187 3193 1172C3195 1156 3197 1147 3199 1117C3201 1087 3203 1029 3205 993C3209 921 3213 872 3217 827C3225 736 3233 675 3241 620C3249 565 3257 520 3265 500C3275 476 3285 483 3295 530C3299 549 3303 575 3307 599C3309 611 3311 625 3313 635C3315 645 3317 652 3319 659C3321 666 3323 673 3325 675C3329 680 3333 671 3337 664C3351 640 3365 603 3379 596C3385 594 3391 594 3397 602C3409 619 3421 655 3433 664C3447 674 3461 666 3475 696C3487 722 3499 765 3511 798C3527 841 3543 871 3559 890C3565 897 3571 902 3577 900C3583 899 3589 892 3595 898C3611 914 3627 990 3643 1060C3653 1103 3663 1141 3673 1147C3685 1155 3697 1134 3709 1127C3725 1118 3741 1099 3757 1104C3767 1106 3777 1117 3787 1150C3793 1170 3799 1204 3805 1243C3807 1256 3809 1268 3811 1282C3814 1302 3817 1334 3820 1355C3823 1377 3826 1395 3829 1400C3832 1405 3835 1399 3838 1391C3841 1382 3844 1372 3847 1366C3855 1350 3863 1364 3871 1392C3875 1406 3879 1417 3883 1430C3889 1450 3895 1472 3901 1475C3909 1478 3917 1452 3925 1427C3935 1395 3945 1356 3955 1345C3959 1340 3963 1342 3967 1352C3973 1367 3979 1396 3985 1417C3995 1451 4005 1479 4015 1494C4025 1510 4035 1519 4045 1542C4049 1551 4053 1562 4057 1563C4063 1563 4069 1546 4075 1532C4080 1521 4085 1506 4090 1500C4093 1496 4097 1496 4100 1510C4106 1534 4111 1569 4117 1610C4124 1661 4132 1721 4139 1764C4143 1789 4147 1804 4151 1806C4152 1806 4152 1807 4152 1807C4155 1807 4158 1800 4161 1788C4169 1756 4176 1703 4184 1672C4190 1648 4195 1627 4201 1635C4207 1643 4213 1669 4219 1692C4229 1730 4239 1783 4249 1833C4253 1853 4257 1871 4261 1895C4267 1932 4273 1981 4279 2020C4291 2099 4303 2148 4315 2175C4319 2184 4323 2186 4327 2215C4331 2243 4335 2295 4339 2339C4349 2451 4359 2568 4369 2680C4379 2792 4389 2892 4399 2948C4405 2981 4411 2998 4417 3016" stroke="#7E2F8E" stroke-width="9"/>
<path d="M643 2492C645 2433 647 2366 649 2314C651 2261 653 2220 655 2177C657 2134 659 2095 661 2054C663 2014 665 1970 667 1935C669 1899 671 1870 673 1843C675 1816 677 1795 679 1771C685 1700 691 1629 697 1574C709 1463 721 1383 733 1331C739 1305 745 1284 751 1265C767 1214 783 1192 799 1181C815 1170 831 1171 847 1174C863 1177 879 1171 895 1165C901 1162 907 1163 913 1154C925 1135 937 1079 949 1070C959 1062 969 1076 979 1099C984 1111 990 1124 995 1132C996 1133 997 1136 998 1134C999 1131 1001 1128 1003 1123C1003 1122 1003 1122 1004 1122C1008 1121 1011 1116 1015 1107C1023 1088 1031 1057 1039 1039C1049 1015 1059 1013 1069 1013C1085 1013 1101 1010 1117 1008C1133 1006 1149 1005 1165 1008C1181 1010 1197 1019 1213 1028C1224 1034 1235 1037 1246 1074C1253 1100 1260 1134 1267 1208C1270 1232 1272 1260 1274 1299C1276 1325 1278 1355 1279 1396C1281 1449 1283 1517 1286 1657C1286 1680 1286 1707 1286 1726C1287 1738 1287 1751 1287 1757C1287 1761 1287 1762 1288 1764C1288 1762 1288 1761 1288 1757C1288 1741 1289 1692 1290 1657C1290 1618 1291 1581 1291 1552C1293 1453 1295 1403 1297 1360C1301 1274 1305 1232 1309 1196C1317 1123 1325 1092 1333 1071C1345 1041 1357 1051 1369 1053C1385 1055 1401 1060 1417 1066C1433 1073 1449 1081 1465 1085C1481 1088 1497 1086 1513 1078C1529 1069 1545 1053 1561 1040C1571 1032 1581 1030 1591 1063C1598 1085 1604 1116 1611 1188C1614 1222 1617 1259 1620 1331C1621 1355 1622 1380 1623 1417C1624 1448 1625 1478 1626 1530C1626 1569 1627 1608 1627 1672C1628 1696 1628 1726 1628 1756C1628 1781 1628 1816 1629 1834C1629 1846 1629 1850 1629 1858C1629 1850 1629 1846 1629 1834C1630 1816 1630 1780 1630 1755C1630 1714 1631 1674 1631 1641C1632 1566 1633 1524 1633 1486C1635 1407 1636 1366 1638 1328C1641 1255 1644 1216 1647 1182C1652 1120 1658 1088 1663 1064C1672 1027 1680 1009 1688 1023C1696 1035 1704 1066 1711 1121C1717 1158 1722 1204 1727 1288C1730 1332 1733 1390 1735 1463C1737 1501 1738 1545 1740 1554C1740 1554 1740 1555 1740 1555C1742 1554 1744 1492 1746 1448C1752 1307 1759 1259 1765 1223C1774 1174 1783 1156 1792 1138C1799 1124 1806 1110 1813 1099C1823 1084 1833 1085 1843 1120C1850 1143 1856 1184 1862 1225C1865 1244 1868 1259 1871 1258C1874 1255 1877 1236 1880 1214C1886 1172 1892 1125 1897 1092C1907 1035 1917 1004 1927 993C1935 985 1943 988 1951 991C1967 996 1983 1011 1999 1030C2015 1049 2031 1074 2047 1097C2063 1121 2079 1139 2095 1140C2111 1140 2127 1123 2143 1110C2159 1097 2175 1087 2191 1082C2207 1076 2223 1075 2239 1076C2255 1077 2271 1081 2287 1086C2303 1091 2319 1096 2335 1097C2351 1099 2367 1097 2383 1094C2399 1092 2415 1092 2431 1091C2447 1090 2463 1089 2479 1090C2495 1091 2511 1096 2527 1096C2543 1096 2559 1091 2575 1084C2591 1077 2607 1068 2623 1064C2639 1061 2655 1062 2671 1060C2687 1057 2703 1056 2719 1048C2733 1041 2748 1029 2762 1028C2768 1028 2773 1027 2779 1057C2786 1092 2793 1148 2800 1168C2807 1189 2813 1207 2820 1209C2821 1209 2823 1209 2824 1208C2827 1206 2830 1201 2833 1192C2841 1170 2849 1132 2857 1104C2867 1069 2877 1047 2887 1036C2903 1018 2919 1006 2935 995C2951 983 2967 970 2983 963C2999 955 3015 949 3031 933C3035 929 3039 925 3043 919C3045 916 3047 915 3049 909C3053 896 3057 868 3061 834C3067 782 3073 711 3079 684C3087 647 3095 687 3103 732C3109 766 3115 805 3121 837C3125 859 3129 880 3133 905C3141 955 3149 1017 3157 1075C3161 1104 3165 1129 3169 1166C3171 1185 3173 1207 3175 1230C3177 1253 3179 1294 3181 1304C3183 1314 3185 1303 3187 1290C3189 1277 3191 1247 3193 1227C3195 1208 3197 1192 3199 1171C3201 1149 3203 1121 3205 1099C3215 990 3225 937 3235 886C3241 856 3247 828 3253 800C3261 762 3269 724 3277 725C3287 726 3297 785 3307 838C3313 870 3319 900 3325 912C3331 924 3337 922 3343 920C3359 916 3375 885 3391 877C3407 868 3423 878 3439 899C3455 920 3471 947 3487 971C3503 994 3519 1019 3535 1056C3543 1074 3551 1096 3559 1133C3573 1196 3587 1289 3601 1313C3607 1324 3613 1325 3619 1330C3635 1343 3651 1350 3667 1354C3683 1358 3699 1358 3715 1374C3731 1390 3747 1415 3763 1449C3775 1474 3787 1504 3799 1547C3811 1587 3822 1632 3833 1705C3837 1727 3840 1750 3843 1782C3847 1813 3850 1848 3853 1879C3855 1892 3856 1900 3857 1911C3861 1943 3865 1964 3869 1978C3871 1985 3873 1988 3875 1987C3878 1985 3881 1975 3883 1961C3889 1932 3894 1893 3899 1865C3906 1829 3913 1805 3919 1791C3925 1780 3930 1776 3935 1784C3936 1785 3937 1787 3939 1790C3942 1798 3946 1806 3949 1813C3955 1825 3961 1830 3967 1832C3977 1837 3987 1846 3997 1859C4007 1872 4017 1885 4027 1880C4039 1874 4051 1853 4063 1870C4077 1890 4091 1990 4105 2060C4111 2090 4117 2119 4123 2151C4129 2184 4135 2215 4141 2238C4157 2301 4173 2358 4189 2427C4205 2496 4221 2572 4237 2664C4249 2733 4261 2810 4273 2898C4289 3017 4305 3133 4321 3264C4337 3395 4353 3560 4369 3676C4377 3735 4385 3776 4393 3800C4401 3823 4409 3831 4417 3839" stroke="#77AC30" stroke-width="9"/>
<path d="M643 2181C645 2136 647 2086 649 2046C651 2005 653 1972 655 1937C661 1832 667 1731 673 1665C675 1643 677 1627 679 1609C687 1535 695 1468 703 1413C711 1358 719 1312 727 1276C729 1267 731 1256 733 1251C735 1245 737 1248 739 1244C741 1239 743 1229 745 1223C753 1200 761 1185 769 1171C785 1145 801 1138 817 1134C833 1129 849 1133 865 1125C879 1118 893 1106 907 1090C919 1076 931 1035 943 1022C959 1006 975 1029 991 1037C993 1038 995 1044 997 1040C999 1036 1001 1019 1003 1015C1005 1011 1007 1015 1009 1014C1023 1007 1036 977 1049 997C1058 1011 1068 1041 1077 1075C1084 1100 1091 1130 1098 1134C1099 1135 1100 1135 1101 1134C1104 1131 1108 1122 1111 1109C1119 1078 1127 1035 1135 1008C1145 974 1155 962 1165 965C1181 969 1197 992 1213 1008C1223 1019 1233 1023 1243 1026C1253 1029 1263 1042 1273 1076C1279 1096 1285 1126 1291 1155C1295 1174 1300 1192 1304 1192C1304 1192 1304 1192 1304 1192C1308 1191 1312 1176 1315 1157C1322 1123 1329 1083 1336 1055C1346 1016 1356 992 1366 979C1381 959 1396 938 1411 926C1427 913 1443 913 1459 920C1475 927 1491 939 1507 942C1523 946 1539 944 1555 956C1569 966 1583 989 1597 999C1607 1006 1617 1000 1627 1020C1635 1035 1642 1056 1650 1130C1653 1159 1656 1194 1659 1261C1661 1301 1663 1350 1664 1437C1665 1460 1666 1489 1666 1515C1667 1544 1667 1580 1668 1591C1668 1594 1668 1594 1668 1595C1668 1594 1668 1593 1668 1590C1669 1578 1669 1542 1670 1512C1670 1483 1671 1455 1672 1430C1673 1340 1675 1288 1677 1244C1680 1161 1684 1119 1687 1082C1695 1000 1702 966 1710 943C1720 911 1731 914 1741 911C1757 908 1773 896 1789 885C1805 875 1821 874 1837 896C1849 912 1861 929 1873 973C1882 1003 1890 1046 1898 1105C1902 1133 1906 1174 1910 1202C1912 1216 1914 1225 1916 1222C1920 1214 1924 1164 1927 1120C1934 1039 1941 978 1948 941C1958 887 1968 870 1978 872C1993 874 2008 879 2023 879C2035 879 2047 880 2059 890C2067 897 2075 902 2083 905C2091 909 2099 912 2107 936C2115 961 2123 1000 2131 1072C2137 1125 2143 1197 2149 1331C2151 1373 2153 1422 2155 1425C2157 1422 2159 1362 2161 1316C2167 1185 2173 1117 2179 1067C2189 984 2199 950 2209 935C2217 924 2225 928 2233 929C2249 929 2265 930 2281 925C2297 921 2313 919 2329 927C2341 933 2353 946 2365 967C2381 995 2397 1026 2413 1038C2421 1044 2429 1046 2437 1048C2447 1049 2457 1067 2467 1113C2474 1142 2480 1186 2486 1246C2490 1287 2494 1339 2499 1345C2499 1345 2499 1345 2499 1345C2502 1346 2506 1315 2509 1285C2515 1232 2521 1186 2527 1153C2535 1110 2543 1080 2551 1071C2560 1062 2568 1078 2576 1106C2582 1127 2589 1162 2595 1201C2599 1227 2603 1254 2608 1255C2608 1256 2608 1256 2608 1256C2611 1255 2614 1241 2617 1222C2623 1186 2629 1147 2635 1122C2643 1089 2651 1070 2659 1075C2667 1080 2675 1110 2683 1157C2689 1193 2695 1247 2701 1316C2704 1350 2707 1384 2710 1383C2713 1379 2716 1334 2719 1293C2724 1229 2729 1175 2734 1136C2743 1061 2753 1025 2762 1008C2766 1001 2770 996 2773 996C2779 997 2785 1024 2791 1032C2799 1043 2807 1018 2815 1006C2825 990 2835 971 2845 948C2859 915 2873 891 2887 874C2903 855 2919 839 2935 821C2951 803 2967 783 2983 768C2993 758 3003 754 3013 741C3019 733 3025 720 3031 706C3039 688 3047 672 3055 628C3063 584 3071 513 3079 483C3087 454 3095 466 3103 497C3109 521 3115 562 3121 603C3127 644 3133 687 3139 743C3145 799 3151 861 3157 919C3163 977 3169 1032 3175 1114C3177 1142 3179 1189 3181 1206C3183 1222 3185 1216 3187 1211C3189 1206 3191 1189 3193 1174C3195 1159 3197 1149 3199 1121C3201 1093 3203 1040 3205 1008C3209 943 3213 902 3217 866C3225 792 3233 747 3241 701C3253 633 3265 569 3277 581C3283 586 3289 611 3295 645C3303 690 3311 755 3319 781C3321 788 3323 794 3325 796C3331 802 3337 785 3343 772C3359 737 3375 681 3391 670C3407 658 3423 703 3439 735C3455 767 3471 794 3487 824C3503 855 3519 891 3535 936C3543 959 3551 986 3559 1023C3569 1070 3579 1133 3589 1165C3595 1184 3601 1190 3607 1190C3617 1190 3627 1179 3637 1196C3646 1211 3655 1244 3664 1285C3669 1309 3675 1334 3680 1343C3681 1344 3681 1345 3682 1346C3685 1349 3688 1346 3691 1339C3699 1324 3706 1294 3714 1277C3724 1254 3734 1236 3744 1234C3752 1232 3761 1224 3769 1230C3777 1236 3785 1246 3793 1270C3799 1288 3805 1309 3811 1336C3815 1354 3819 1376 3823 1396C3830 1428 3836 1463 3842 1504C3848 1545 3854 1591 3860 1609C3867 1630 3874 1646 3880 1643C3882 1642 3883 1641 3884 1640C3888 1636 3892 1629 3895 1619C3903 1599 3911 1568 3919 1554C3927 1539 3935 1542 3943 1557C3949 1569 3955 1584 3961 1592C3977 1614 3993 1620 4009 1613C4017 1609 4025 1608 4033 1619C4039 1627 4045 1647 4051 1671C4056 1692 4062 1711 4067 1728C4069 1734 4071 1741 4073 1747C4076 1755 4079 1762 4082 1769C4088 1784 4093 1794 4099 1809C4108 1832 4116 1863 4125 1900C4130 1924 4136 1950 4141 1970C4155 2022 4169 2062 4183 2118C4195 2167 4207 2229 4219 2270C4229 2304 4239 2330 4249 2348C4255 2359 4261 2368 4267 2387C4277 2418 4287 2456 4297 2487C4307 2519 4317 2544 4327 2595C4333 2625 4339 2666 4345 2701C4361 2794 4377 2883 4393 2949C4401 2982 4409 3010 4417 3039" stroke="#4DBEEE" stroke-width="9"/>
<path d="M643 2265C645 2216 647 2161 649 2117C651 2073 653 2038 655 2001C657 1964 659 1928 661 1893C663 1858 665 1821 667 1791C669 1761 671 1735 673 1711C675 1688 677 1670 679 1650C685 1590 691 1533 697 1485C707 1406 717 1344 727 1297C729 1288 731 1277 733 1271C735 1265 737 1265 739 1260C741 1255 743 1245 745 1239C761 1190 777 1168 793 1156C809 1144 825 1140 841 1141C857 1141 873 1136 889 1123C895 1118 901 1114 907 1107C921 1090 935 1029 949 1013C959 1002 969 1019 979 1063C985 1087 990 1123 996 1161C996 1164 997 1169 997 1170C998 1172 999 1161 1000 1156C1001 1150 1002 1141 1003 1135C1004 1132 1005 1142 1005 1144C1007 1148 1008 1150 1009 1150C1012 1149 1015 1130 1018 1109C1023 1072 1028 1029 1033 999C1043 939 1053 921 1063 923C1071 924 1079 941 1087 955C1099 976 1111 1000 1123 996C1139 992 1155 948 1171 927C1187 906 1203 903 1219 907C1235 912 1251 924 1267 928C1283 931 1299 928 1315 930C1331 932 1347 939 1363 951C1379 963 1395 979 1411 1001C1427 1023 1443 1052 1459 1039C1473 1028 1487 991 1501 967C1516 942 1530 923 1544 919C1554 916 1564 933 1574 990C1580 1022 1586 1061 1591 1142C1593 1172 1595 1206 1598 1257C1598 1282 1600 1308 1600 1347C1601 1384 1602 1421 1603 1486C1604 1514 1604 1541 1604 1589C1605 1629 1605 1659 1606 1737C1606 1814 1606 1928 1606 2038C1607 1929 1607 1815 1608 1738C1608 1662 1608 1631 1608 1593C1609 1535 1610 1504 1610 1473C1611 1420 1612 1389 1612 1358C1614 1320 1614 1296 1616 1273C1618 1204 1622 1167 1624 1136C1631 1065 1638 1039 1645 1021C1655 995 1665 1002 1675 1006C1691 1012 1707 1006 1723 1000C1739 995 1755 993 1771 984C1787 975 1803 949 1819 927C1833 908 1847 895 1861 891C1875 887 1889 906 1903 907C1919 908 1935 904 1951 925C1967 947 1983 985 1999 1003C2015 1020 2031 1008 2047 1002C2057 999 2067 1000 2077 1022C2085 1040 2093 1071 2101 1109C2107 1134 2112 1162 2117 1164C2118 1164 2118 1164 2118 1164C2121 1163 2124 1154 2127 1142C2133 1120 2138 1089 2143 1065C2153 1019 2163 990 2173 979C2181 971 2189 971 2197 969C2213 964 2229 962 2245 967C2261 973 2277 986 2293 1011C2305 1030 2317 1059 2329 1075C2345 1095 2361 1072 2377 1036C2393 1001 2409 960 2425 951C2437 944 2449 945 2461 942C2471 940 2481 936 2491 927C2505 915 2519 907 2533 889C2547 870 2561 853 2575 835C2589 816 2603 809 2617 812C2621 812 2625 814 2629 820C2633 825 2637 833 2641 837C2653 849 2665 853 2677 859C2687 864 2697 886 2707 883C2721 879 2735 849 2749 820C2757 803 2765 792 2773 785C2779 780 2785 779 2791 789C2801 805 2811 844 2821 882C2829 912 2837 935 2845 936C2851 937 2857 930 2863 928C2879 920 2895 913 2911 907C2922 902 2932 901 2943 935C2951 962 2959 1006 2967 1070C2972 1113 2978 1173 2983 1188C2984 1190 2984 1190 2985 1190C2988 1189 2992 1164 2995 1134C3000 1094 3004 1048 3009 1007C3018 923 3028 850 3037 792C3043 756 3049 728 3055 685C3063 627 3071 547 3079 518C3093 468 3107 568 3121 675C3125 705 3129 739 3133 781C3139 844 3145 926 3151 1018C3157 1104 3162 1195 3168 1338C3170 1400 3173 1477 3175 1581C3176 1613 3177 1651 3178 1687C3179 1739 3180 1803 3181 1828C3181 1832 3181 1834 3181 1836C3181 1838 3181 1840 3181 1838C3182 1827 3183 1777 3184 1739C3185 1705 3186 1673 3187 1646C3188 1619 3189 1583 3190 1555C3193 1460 3196 1393 3199 1331C3201 1292 3203 1239 3205 1197C3208 1144 3210 1108 3213 1074C3220 978 3228 916 3235 871C3242 833 3248 815 3254 803C3258 796 3262 793 3265 799C3271 809 3277 849 3283 945C3286 981 3288 1030 3290 1094C3292 1151 3294 1229 3296 1244C3298 1248 3300 1185 3302 1144C3308 1024 3314 1000 3320 963C3322 952 3324 946 3325 936C3335 879 3345 826 3355 793C3365 760 3375 729 3385 708C3397 682 3409 684 3421 701C3437 724 3453 752 3469 790C3479 814 3489 856 3499 938C3505 988 3511 1045 3517 1149C3519 1183 3521 1222 3523 1276C3525 1329 3527 1397 3529 1508C3530 1551 3531 1609 3532 1627C3532 1630 3532 1630 3532 1632C3532 1631 3532 1631 3532 1629C3533 1620 3533 1587 3534 1561C3534 1536 3535 1509 3536 1487C3537 1401 3539 1355 3541 1318C3545 1241 3549 1210 3553 1187C3561 1141 3569 1144 3577 1145C3583 1146 3589 1151 3595 1170C3605 1201 3615 1223 3625 1339C3627 1363 3629 1389 3631 1425C3633 1461 3635 1504 3638 1575C3638 1604 3639 1636 3640 1679C3640 1705 3641 1735 3642 1766C3642 1802 3643 1851 3643 1860C3643 1861 3643 1861 3644 1861C3644 1859 3644 1859 3644 1856C3644 1842 3645 1800 3646 1768C3646 1738 3646 1708 3647 1682C3649 1590 3651 1541 3652 1498C3654 1466 3655 1443 3656 1421C3660 1362 3664 1326 3668 1294C3677 1215 3686 1179 3696 1162C3702 1150 3709 1150 3715 1145C3731 1133 3747 1123 3763 1120C3777 1118 3791 1116 3805 1127C3817 1136 3829 1146 3841 1166C3855 1190 3869 1217 3883 1229C3895 1240 3907 1243 3919 1243C3933 1243 3947 1244 3961 1260C3977 1280 3993 1316 4009 1350C4021 1375 4033 1411 4045 1448C4049 1460 4053 1474 4057 1488C4060 1497 4062 1506 4064 1513C4066 1519 4068 1528 4069 1531C4071 1536 4073 1535 4075 1538C4085 1554 4095 1604 4105 1689C4111 1740 4117 1803 4123 1849C4124 1856 4125 1863 4126 1869C4129 1890 4132 1904 4135 1915C4138 1924 4141 1925 4144 1929C4153 1940 4162 1960 4171 2000C4183 2053 4195 2151 4207 2198C4215 2230 4223 2235 4231 2246C4243 2261 4255 2272 4267 2325C4275 2360 4283 2404 4291 2442C4305 2509 4319 2563 4333 2662C4349 2775 4365 2888 4381 2991C4393 3069 4405 3139 4417 3206" stroke="#0072BD" stroke-width="9"/>
<path d="M643 2002C645 1965 647 1925 649 1891C651 1858 653 1829 655 1799C661 1708 667 1619 673 1562C677 1524 681 1498 685 1469C699 1366 713 1283 727 1225C729 1217 731 1206 733 1202C735 1199 737 1208 739 1206C741 1203 743 1193 745 1188C751 1172 757 1165 763 1155C779 1129 795 1120 811 1113C827 1107 843 1109 859 1104C875 1098 891 1083 907 1051C919 1027 931 975 943 950C954 927 965 917 976 950C982 967 988 994 994 1045C995 1054 996 1076 997 1075C998 1073 999 1056 1000 1047C1001 1037 1002 1012 1003 1021C1004 1025 1004 1039 1005 1049C1006 1074 1008 1102 1009 1138C1011 1181 1013 1232 1014 1309C1015 1331 1016 1356 1016 1378C1017 1403 1017 1428 1018 1437C1018 1439 1018 1439 1018 1440C1018 1438 1019 1433 1019 1423C1019 1413 1020 1397 1020 1383C1020 1361 1021 1337 1022 1316C1025 1183 1028 1127 1031 1080C1036 1010 1041 979 1045 954C1054 912 1062 901 1070 885C1076 873 1082 869 1087 859C1103 834 1119 804 1135 790C1145 782 1156 775 1166 805C1174 830 1182 872 1190 945C1194 982 1198 1029 1202 1066C1204 1085 1206 1098 1208 1102C1212 1107 1215 1075 1219 1046C1227 987 1235 947 1243 921C1253 889 1263 873 1273 857C1289 831 1305 779 1321 755C1337 732 1353 742 1369 761C1385 780 1401 802 1417 806C1433 810 1449 790 1465 774C1481 758 1497 752 1513 759C1529 766 1545 786 1561 817C1577 847 1593 889 1609 908C1621 923 1633 914 1645 899C1661 880 1677 860 1693 854C1709 848 1725 848 1741 858C1755 866 1769 888 1783 917C1793 939 1803 963 1813 961C1823 958 1833 932 1843 913C1853 894 1863 873 1873 868C1883 862 1893 866 1903 860C1919 848 1935 828 1951 839C1965 849 1979 871 1993 886C2003 897 2013 912 2023 961C2029 990 2035 1023 2041 1114C2043 1146 2045 1184 2047 1251C2048 1286 2049 1320 2050 1391C2051 1424 2052 1452 2052 1509C2052 1557 2053 1612 2053 1701C2053 1721 2054 1748 2054 1767C2054 1791 2054 1804 2054 1822C2054 1804 2054 1789 2054 1767C2055 1733 2055 1679 2055 1643C2055 1583 2056 1546 2056 1508C2056 1452 2057 1423 2058 1390C2058 1335 2059 1304 2060 1274C2062 1209 2064 1171 2065 1138C2069 1062 2073 1022 2077 987C2087 902 2096 869 2106 852C2114 837 2123 841 2131 844C2147 848 2163 868 2179 878C2195 886 2210 878 2225 869C2235 863 2245 873 2255 917C2262 946 2269 992 2275 1065C2279 1101 2282 1151 2285 1168C2286 1172 2287 1174 2287 1174C2291 1173 2295 1114 2299 1073C2307 991 2315 948 2323 926C2333 899 2343 905 2353 921C2361 933 2369 945 2377 950C2393 959 2409 958 2425 953C2431 951 2437 946 2443 944C2457 939 2471 915 2485 922C2501 931 2517 958 2533 977C2545 991 2557 1000 2569 989C2585 973 2601 932 2617 920C2631 909 2645 932 2659 932C2671 932 2683 929 2695 926C2705 923 2715 910 2725 904C2735 899 2745 909 2755 910C2763 910 2771 903 2779 904C2785 905 2791 907 2797 900C2801 894 2805 884 2809 878C2815 870 2821 870 2827 864C2841 848 2855 798 2869 804C2878 808 2888 833 2897 902C2902 940 2907 988 2912 1077C2914 1109 2916 1150 2918 1186C2919 1209 2920 1226 2921 1228C2923 1225 2925 1177 2927 1137C2930 1083 2933 1037 2935 1003C2941 926 2947 887 2953 856C2963 805 2973 773 2983 756C2991 742 2999 726 3007 710C3019 685 3031 639 3043 598C3049 578 3055 555 3061 529C3069 495 3077 454 3085 456C3093 458 3101 494 3109 548C3113 575 3117 608 3121 637C3127 680 3133 722 3139 774C3145 826 3151 880 3157 932C3163 984 3169 1032 3175 1110C3177 1136 3179 1183 3181 1198C3183 1214 3185 1208 3187 1203C3189 1197 3191 1182 3193 1167C3195 1152 3197 1143 3199 1114C3201 1084 3203 1025 3205 989C3209 918 3213 875 3217 835C3225 756 3233 710 3241 663C3251 605 3261 553 3271 545C3279 539 3287 560 3295 602C3301 633 3307 678 3313 705C3317 723 3321 736 3325 738C3331 742 3337 721 3343 705C3357 669 3371 623 3385 597C3395 579 3405 580 3415 596C3421 606 3427 621 3433 632C3449 662 3465 697 3481 749C3495 795 3509 854 3523 871C3535 885 3547 881 3559 882C3569 883 3579 880 3589 905C3599 930 3609 974 3619 1037C3625 1076 3632 1128 3638 1146C3639 1149 3640 1151 3641 1152C3644 1154 3647 1148 3650 1138C3654 1126 3658 1109 3661 1099C3671 1071 3681 1091 3691 1110C3701 1128 3711 1157 3721 1154C3731 1150 3741 1130 3751 1111C3755 1104 3759 1097 3763 1097C3769 1098 3775 1110 3781 1118C3789 1128 3797 1145 3805 1155C3807 1157 3809 1157 3811 1160C3813 1163 3815 1170 3817 1174C3827 1192 3837 1198 3847 1221C3853 1234 3859 1256 3865 1279C3869 1295 3873 1311 3877 1320C3885 1337 3893 1338 3901 1327C3907 1318 3913 1304 3919 1304C3930 1304 3940 1326 3950 1361C3957 1383 3963 1418 3970 1465C3976 1506 3981 1554 3987 1608C3989 1628 3991 1649 3993 1671C3995 1694 3997 1720 3999 1750C4001 1785 4004 1828 4006 1888C4007 1922 4009 1967 4010 1998C4011 2014 4011 2023 4012 2024C4013 2021 4013 2008 4014 1991C4015 1963 4016 1925 4017 1893C4021 1761 4026 1692 4030 1643C4035 1586 4040 1564 4045 1555C4048 1550 4051 1552 4054 1552C4057 1552 4061 1552 4064 1548C4070 1542 4076 1542 4081 1536C4091 1528 4101 1516 4111 1519C4125 1523 4139 1536 4153 1554C4169 1574 4185 1618 4201 1703C4211 1756 4221 1815 4231 1895C4239 1959 4247 2031 4255 2087C4263 2143 4271 2195 4279 2226C4293 2282 4307 2286 4321 2330C4325 2343 4329 2361 4333 2384C4337 2406 4341 2431 4345 2454C4361 2547 4377 2655 4393 2775C4401 2835 4409 2899 4417 2963" stroke="#EDB120" stroke-width="9"/>
<path d="M643 2245C645 2197 647 2144 649 2100C651 2057 653 2022 655 1985C657 1949 659 1914 661 1879C663 1844 665 1808 667 1778C669 1748 671 1722 673 1699C675 1675 677 1658 679 1638C685 1579 691 1522 697 1475C707 1397 717 1336 727 1289C729 1280 731 1269 733 1263C735 1258 737 1259 739 1254C741 1249 743 1239 745 1233C755 1203 765 1184 775 1170C791 1147 807 1141 823 1137C839 1133 855 1135 871 1124C883 1115 895 1104 907 1088C919 1072 931 1028 943 1007C957 983 971 976 985 966C987 965 989 963 991 962C993 961 995 976 997 958C999 940 1001 871 1003 853C1005 834 1007 851 1009 849C1021 841 1033 828 1045 829C1061 830 1077 834 1093 834C1109 835 1125 835 1141 851C1153 862 1165 883 1177 912C1185 932 1193 967 1201 1004C1210 1043 1218 1085 1226 1141C1230 1170 1234 1204 1239 1201C1239 1201 1239 1201 1239 1200C1242 1195 1246 1166 1249 1135C1255 1080 1261 1029 1267 993C1277 934 1287 903 1297 898C1311 892 1325 918 1339 960C1349 989 1359 1027 1369 1024C1379 1022 1389 989 1399 968C1414 937 1428 917 1443 915C1453 913 1463 932 1473 992C1478 1024 1484 1065 1489 1143C1492 1174 1494 1211 1496 1267C1497 1292 1498 1318 1499 1357C1500 1390 1501 1424 1502 1477C1502 1509 1502 1539 1503 1599C1503 1639 1504 1670 1504 1745C1504 1791 1504 1852 1505 1909C1505 1947 1505 1987 1505 2025C1505 1987 1505 1947 1505 1910C1506 1853 1506 1792 1506 1747C1506 1650 1507 1614 1507 1573C1508 1535 1508 1509 1508 1483C1509 1428 1510 1399 1511 1367C1512 1330 1513 1305 1514 1282C1517 1211 1520 1173 1523 1140C1530 1064 1537 1030 1543 1003C1551 972 1559 960 1567 960C1583 959 1599 965 1615 966C1631 966 1647 955 1663 942C1679 929 1695 920 1711 925C1727 930 1743 949 1759 987C1769 1010 1779 1039 1789 1026C1799 1013 1809 970 1819 947C1833 914 1847 905 1861 912C1875 919 1889 953 1903 978C1919 1008 1935 1054 1951 1043C1963 1034 1975 1006 1987 994C2003 978 2019 978 2035 987C2043 991 2051 996 2059 1018C2068 1041 2076 1073 2084 1140C2088 1171 2092 1208 2095 1271C2098 1308 2100 1350 2102 1428C2103 1457 2104 1489 2104 1535C2105 1562 2106 1594 2106 1628C2107 1665 2107 1717 2108 1737C2108 1742 2108 1743 2108 1745C2108 1743 2108 1742 2108 1737C2109 1730 2109 1716 2109 1703C2109 1682 2110 1652 2110 1629C2111 1552 2112 1497 2113 1454C2115 1377 2117 1335 2119 1297C2124 1219 2128 1180 2132 1148C2142 1074 2152 1054 2161 1051C2169 1048 2177 1061 2185 1065C2199 1073 2213 1062 2227 1047C2243 1029 2258 1012 2273 1009C2283 1007 2293 1026 2303 1074C2310 1106 2317 1156 2323 1207C2327 1236 2331 1263 2335 1271C2338 1277 2341 1271 2344 1261C2349 1243 2354 1214 2359 1191C2365 1164 2371 1130 2377 1106C2384 1080 2390 1061 2397 1053C2412 1036 2428 1029 2443 1027C2454 1025 2465 1019 2476 1053C2485 1083 2494 1138 2503 1232C2507 1270 2511 1321 2514 1347C2516 1355 2517 1360 2518 1360C2521 1359 2524 1325 2527 1291C2532 1237 2537 1187 2542 1151C2551 1080 2561 1044 2570 1023C2580 1001 2590 998 2599 991C2611 983 2623 979 2635 981C2644 983 2653 984 2662 981C2672 977 2682 988 2692 1035C2697 1060 2702 1090 2707 1148C2710 1177 2712 1210 2715 1266C2717 1307 2719 1357 2720 1433C2721 1453 2722 1478 2722 1498C2723 1520 2723 1545 2724 1552C2724 1553 2724 1553 2724 1554C2724 1551 2725 1547 2725 1536C2726 1508 2727 1462 2728 1427C2731 1290 2734 1226 2737 1176C2741 1115 2745 1081 2749 1053C2755 1011 2761 989 2767 973C2771 963 2775 957 2779 958C2785 959 2791 973 2797 967C2801 963 2805 951 2809 945C2817 932 2825 928 2833 917C2845 899 2857 877 2869 874C2883 872 2897 888 2911 910C2917 920 2923 932 2929 922C2941 901 2953 790 2965 742C2969 726 2973 715 2977 709C2981 703 2985 703 2989 696C2995 686 3001 670 3007 660C3017 643 3027 641 3037 609C3045 583 3053 544 3061 503C3067 471 3073 437 3079 418C3081 411 3083 405 3085 403C3093 395 3101 431 3109 485C3113 512 3117 545 3121 577C3129 640 3137 710 3145 789C3149 828 3153 869 3157 909C3161 948 3165 985 3169 1036C3171 1061 3173 1103 3175 1118C3177 1134 3179 1125 3181 1127C3185 1132 3189 1137 3193 1135C3195 1135 3197 1136 3199 1129C3203 1114 3207 1078 3211 1040C3221 945 3231 800 3241 714C3247 662 3253 625 3259 594C3267 553 3275 534 3283 548C3287 555 3291 568 3295 589C3301 620 3307 670 3313 706C3317 731 3321 752 3325 764C3329 775 3333 776 3337 777C3345 778 3353 767 3361 744C3373 708 3385 655 3397 641C3405 632 3413 637 3421 650C3437 674 3453 706 3469 755C3481 792 3493 842 3505 884C3515 919 3525 940 3535 953C3543 964 3551 974 3559 990C3573 1018 3587 1054 3601 1072C3611 1085 3621 1097 3631 1111C3647 1134 3663 1145 3679 1164C3689 1175 3699 1190 3709 1214C3721 1244 3733 1281 3745 1311C3753 1331 3761 1345 3769 1342C3777 1338 3785 1328 3793 1335C3799 1340 3805 1355 3811 1372C3815 1382 3819 1401 3822 1415C3826 1430 3831 1446 3835 1456C3835 1457 3835 1457 3835 1457C3838 1464 3841 1472 3844 1479C3847 1486 3850 1492 3853 1497C3858 1505 3863 1500 3867 1503C3877 1508 3886 1521 3895 1547C3907 1581 3919 1623 3931 1629C3947 1637 3963 1588 3979 1579C3995 1569 4011 1582 4027 1594C4033 1599 4039 1605 4045 1620C4049 1629 4053 1642 4057 1651C4063 1665 4069 1678 4075 1697C4085 1729 4095 1778 4105 1843C4111 1882 4117 1931 4123 1986C4128 2032 4133 2084 4138 2102C4139 2103 4139 2104 4140 2105C4142 2114 4146 2111 4148 2104C4154 2091 4160 2071 4165 2062C4175 2045 4185 2053 4195 2076C4201 2089 4207 2108 4213 2124C4219 2139 4225 2153 4231 2174C4243 2217 4255 2266 4267 2357C4277 2433 4287 2523 4297 2610C4307 2697 4317 2790 4327 2878C4331 2913 4335 2949 4339 2974C4349 3039 4359 3056 4369 3084C4383 3122 4397 3173 4411 3239C4413 3249 4415 3259 4417 3269" stroke="#D95319" stroke-width="9"/>
<path d="M643 1861C645 1831 647 1799 649 1771C651 1742 653 1718 655 1692C661 1613 667 1535 673 1486C677 1453 681 1433 685 1410C699 1328 713 1253 727 1200C729 1193 731 1181 733 1179C735 1178 737 1191 739 1190C741 1189 743 1178 745 1173C751 1160 757 1155 763 1146C773 1132 783 1122 793 1116C809 1107 825 1102 841 1099C857 1096 873 1088 889 1064C897 1052 905 1037 913 1012C921 988 929 957 937 937C949 907 961 888 973 912C981 927 988 953 995 1009C996 1015 997 1028 997 1027C999 1025 1000 982 1001 961C1002 949 1003 927 1003 926C1004 923 1005 950 1006 965C1008 1001 1011 1044 1013 1096C1015 1141 1017 1199 1019 1203C1021 1199 1023 1141 1025 1098C1032 950 1039 887 1045 844C1055 781 1065 765 1075 767C1083 769 1091 783 1099 793C1115 814 1131 841 1147 845C1163 850 1179 830 1195 822C1211 813 1227 813 1243 812C1255 811 1267 807 1279 793C1295 774 1311 746 1327 748C1343 750 1359 782 1375 808C1391 834 1407 849 1423 839C1439 830 1455 801 1471 783C1487 764 1503 757 1519 755C1535 753 1551 760 1567 769C1583 778 1599 784 1615 792C1631 800 1647 810 1663 820C1679 830 1695 841 1711 849C1723 855 1735 852 1746 887C1755 912 1763 951 1771 1024C1775 1057 1779 1101 1782 1136C1784 1155 1786 1168 1788 1168C1791 1166 1794 1131 1797 1097C1803 1036 1808 981 1813 943C1823 869 1833 838 1843 825C1849 818 1855 816 1861 813C1875 806 1889 824 1903 810C1919 794 1935 757 1951 752C1967 748 1983 759 1999 771C2015 783 2031 798 2047 821C2057 835 2067 854 2077 852C2093 850 2109 823 2125 814C2141 805 2157 823 2173 835C2189 846 2205 848 2221 848C2237 847 2253 841 2269 834C2285 826 2301 816 2317 830C2333 843 2349 869 2365 896C2377 916 2389 930 2401 939C2415 949 2429 940 2443 935C2457 930 2471 901 2485 902C2499 902 2513 914 2527 918C2539 921 2551 922 2563 923C2573 924 2583 933 2593 971C2599 994 2605 1031 2611 1074C2615 1104 2620 1138 2624 1143C2624 1143 2624 1143 2624 1143C2628 1145 2632 1121 2635 1097C2643 1045 2651 1003 2659 974C2669 938 2679 924 2689 919C2695 917 2701 912 2707 903C2713 894 2719 881 2725 871C2735 853 2745 852 2755 847C2771 839 2787 828 2803 814C2807 811 2811 809 2815 812C2821 815 2827 820 2833 815C2843 807 2853 784 2863 771C2877 754 2891 743 2905 712C2913 694 2921 674 2929 662C2937 650 2945 643 2953 647C2969 655 2985 689 3001 698C3007 701 3013 702 3019 689C3031 663 3043 607 3055 538C3065 481 3075 418 3085 411C3091 407 3097 418 3103 442C3105 451 3107 459 3109 471C3111 483 3113 500 3115 515C3123 573 3131 633 3139 712C3143 752 3147 794 3151 834C3157 894 3163 948 3169 1017C3171 1040 3173 1063 3175 1091C3177 1119 3179 1168 3181 1185C3183 1202 3185 1198 3187 1195C3189 1191 3191 1178 3193 1165C3195 1151 3197 1143 3199 1112C3201 1081 3203 1017 3205 979C3209 903 3213 857 3217 814C3225 728 3233 676 3241 621C3249 565 3257 512 3265 489C3275 460 3285 465 3295 512C3299 530 3303 557 3307 581C3309 593 3311 608 3313 618C3315 628 3317 636 3319 643C3321 650 3323 658 3325 661C3329 667 3333 659 3337 653C3347 640 3357 625 3367 608C3379 587 3391 566 3403 579C3409 585 3415 596 3421 609C3437 645 3453 668 3469 696C3481 716 3493 742 3505 771C3521 810 3537 840 3553 862C3566 880 3579 883 3592 901C3602 914 3612 950 3622 1020C3629 1064 3635 1125 3641 1188C3645 1230 3650 1273 3654 1287C3654 1287 3654 1288 3654 1288C3657 1297 3660 1291 3663 1279C3669 1259 3674 1226 3679 1203C3689 1160 3699 1130 3709 1122C3715 1117 3721 1118 3727 1113C3739 1105 3751 1099 3763 1113C3773 1125 3782 1137 3792 1156C3796 1165 3801 1179 3805 1194C3808 1202 3810 1207 3812 1220C3820 1266 3828 1316 3836 1395C3840 1435 3844 1485 3848 1523C3850 1542 3852 1556 3854 1561C3858 1568 3862 1541 3865 1516C3871 1476 3877 1439 3883 1407C3891 1365 3898 1335 3906 1315C3914 1294 3923 1319 3931 1336C3943 1361 3955 1379 3967 1419C3976 1448 3984 1489 3993 1532C3998 1559 4004 1587 4009 1593C4010 1594 4010 1594 4011 1594C4014 1595 4018 1587 4021 1578C4028 1558 4036 1539 4043 1541C4048 1542 4052 1553 4057 1554C4061 1556 4065 1550 4069 1548C4081 1544 4093 1538 4105 1546C4115 1552 4125 1559 4135 1561C4149 1563 4163 1554 4177 1586C4191 1618 4205 1679 4219 1732C4229 1769 4239 1822 4249 1872C4253 1892 4257 1911 4261 1935C4267 1971 4273 2020 4279 2058C4289 2123 4299 2165 4309 2202C4315 2224 4321 2242 4327 2272C4331 2293 4335 2322 4339 2345C4349 2405 4359 2457 4369 2513C4381 2580 4393 2652 4405 2728C4409 2754 4413 2779 4417 2804" stroke="#A2142F" stroke-width="9"/>
<path d="M643 2400C645 2345 647 2284 649 2235C651 2185 653 2147 655 2106C657 2065 659 2028 661 1989C663 1951 665 1910 667 1877C669 1844 671 1816 673 1790C675 1764 677 1745 679 1723C685 1656 691 1591 697 1538C707 1451 717 1385 727 1334C729 1324 731 1313 733 1305C735 1298 737 1294 739 1287C743 1274 747 1258 751 1246C767 1199 783 1177 799 1168C815 1158 831 1159 847 1161C863 1162 879 1155 895 1148C901 1146 907 1147 913 1140C923 1128 933 1099 943 1089C949 1082 955 1079 961 1071C971 1059 981 1045 991 1036C993 1035 995 1044 997 1034C999 1024 1001 1003 1003 996C1005 989 1007 998 1009 1000C1017 1008 1025 1028 1033 1068C1039 1097 1045 1132 1050 1142C1051 1142 1051 1143 1051 1143C1055 1148 1059 1139 1063 1126C1071 1100 1079 1069 1087 1050C1095 1031 1103 1018 1111 1027C1119 1037 1127 1061 1135 1092C1141 1116 1147 1144 1154 1160C1155 1164 1156 1166 1157 1168C1160 1173 1163 1174 1166 1174C1174 1174 1182 1163 1189 1161C1197 1159 1205 1140 1213 1120C1223 1094 1233 1065 1243 1071C1253 1076 1263 1109 1273 1189C1277 1223 1281 1271 1285 1308C1287 1325 1289 1338 1291 1339C1294 1339 1297 1310 1300 1282C1305 1233 1310 1187 1315 1156C1325 1095 1335 1061 1345 1043C1353 1028 1361 1025 1369 1022C1385 1017 1401 1029 1417 1068C1427 1093 1437 1126 1447 1167C1451 1183 1455 1196 1459 1209C1468 1235 1476 1245 1484 1338C1486 1365 1489 1399 1491 1438C1493 1471 1495 1508 1497 1508C1499 1503 1501 1459 1503 1420C1505 1374 1508 1332 1510 1299C1517 1198 1524 1155 1531 1125C1541 1083 1551 1078 1561 1074C1577 1068 1593 1030 1609 1017C1625 1003 1641 1007 1657 1032C1669 1049 1680 1074 1692 1127C1698 1157 1705 1184 1711 1233C1715 1264 1719 1297 1723 1371C1725 1408 1727 1449 1729 1537C1730 1577 1731 1621 1732 1703C1732 1733 1733 1771 1733 1807C1733 1828 1733 1857 1734 1871C1734 1881 1734 1883 1734 1889C1734 1883 1734 1880 1734 1870C1735 1848 1735 1803 1735 1769C1736 1687 1737 1634 1738 1588C1739 1508 1740 1468 1741 1429C1743 1368 1745 1330 1747 1297C1751 1230 1755 1194 1759 1163C1768 1096 1777 1078 1786 1069C1793 1062 1800 1064 1807 1053C1819 1036 1831 1001 1843 983C1855 964 1867 959 1879 968C1895 980 1911 1001 1927 1017C1939 1029 1951 1031 1963 1024C1975 1017 1987 1002 1999 1036C2008 1060 2017 1108 2026 1171C2031 1209 2036 1255 2042 1265C2042 1266 2043 1267 2044 1267C2047 1269 2050 1258 2053 1241C2058 1216 2063 1177 2068 1145C2077 1081 2086 1033 2096 1010C2105 986 2115 983 2125 983C2141 983 2157 1006 2173 1016C2181 1022 2189 1018 2197 1022C2207 1026 2217 1045 2227 1110C2232 1138 2236 1173 2240 1222C2242 1249 2245 1281 2247 1308C2249 1332 2251 1351 2253 1355C2256 1358 2260 1315 2263 1282C2271 1204 2279 1171 2287 1152C2291 1142 2295 1133 2299 1122C2305 1106 2311 1083 2317 1075C2327 1061 2337 1069 2347 1134C2353 1173 2359 1230 2365 1346C2368 1396 2370 1469 2373 1475C2375 1473 2377 1427 2379 1389C2382 1322 2386 1271 2389 1235C2397 1150 2405 1120 2413 1095C2423 1064 2433 1062 2443 1060C2459 1056 2475 1047 2491 1061C2507 1076 2523 1107 2539 1128C2549 1141 2559 1148 2569 1182C2575 1205 2582 1239 2588 1299C2591 1329 2594 1370 2598 1390C2599 1398 2600 1402 2601 1402C2604 1399 2608 1354 2611 1316C2619 1227 2627 1173 2635 1141C2645 1102 2655 1090 2665 1084C2681 1074 2697 1054 2713 1039C2727 1025 2741 1013 2755 1018C2759 1019 2763 1021 2767 1025C2769 1028 2771 1028 2773 1033C2777 1043 2781 1066 2785 1087C2789 1109 2793 1133 2797 1141C2801 1148 2805 1141 2809 1137C2821 1124 2833 1102 2845 1092C2855 1085 2865 1087 2875 1089C2883 1090 2891 1090 2899 1071C2909 1049 2919 1004 2929 971C2945 917 2961 878 2977 862C2991 848 3005 851 3019 836C3029 826 3039 822 3049 824C3055 825 3061 811 3067 810C3070 810 3073 812 3075 809C3077 808 3078 804 3079 798C3080 792 3081 790 3082 783C3083 777 3084 770 3085 762C3086 756 3087 753 3088 748C3089 740 3091 729 3092 724C3094 716 3096 709 3097 703C3099 696 3101 698 3103 698C3107 697 3111 716 3115 736C3121 765 3127 802 3133 858C3140 916 3146 994 3152 1066C3157 1121 3161 1178 3166 1248C3168 1273 3169 1299 3171 1329C3172 1355 3174 1381 3175 1407C3177 1438 3179 1476 3180 1505C3181 1509 3181 1516 3181 1518C3182 1520 3182 1519 3182 1519C3183 1519 3183 1519 3184 1518C3185 1517 3185 1515 3186 1512C3186 1510 3187 1510 3188 1503C3191 1461 3194 1404 3197 1349C3198 1335 3199 1324 3199 1309C3201 1269 3203 1212 3205 1172C3206 1154 3207 1139 3208 1123C3209 1103 3210 1083 3211 1065C3213 1033 3215 1009 3217 983C3221 931 3225 897 3229 865C3237 802 3245 769 3253 738C3261 707 3269 690 3277 724C3281 742 3286 769 3290 814C3294 858 3297 910 3301 992C3304 1054 3307 1131 3310 1269C3311 1293 3311 1321 3312 1345C3312 1372 3313 1402 3313 1411C3313 1413 3314 1413 3314 1414C3314 1413 3314 1409 3315 1399C3315 1390 3315 1374 3316 1361C3316 1341 3317 1317 3317 1298C3320 1174 3323 1122 3327 1074C3330 1019 3334 985 3337 956C3347 878 3356 849 3366 840C3376 829 3387 863 3397 858C3405 855 3413 835 3421 832C3437 824 3453 852 3469 890C3485 928 3501 972 3517 997C3531 1018 3545 1025 3559 1070C3567 1096 3575 1131 3583 1169C3589 1198 3595 1226 3601 1247C3607 1268 3613 1287 3619 1310C3627 1340 3635 1376 3643 1384C3655 1397 3667 1352 3679 1336C3691 1319 3703 1323 3715 1344C3721 1354 3727 1368 3733 1388C3743 1422 3753 1466 3763 1500C3769 1520 3775 1539 3781 1540C3782 1540 3782 1541 3783 1541C3786 1540 3790 1535 3793 1528C3801 1512 3809 1497 3817 1504C3825 1511 3833 1534 3841 1589C3843 1602 3845 1622 3847 1640C3852 1678 3856 1720 3860 1744C3868 1788 3876 1836 3883 1864C3886 1875 3889 1880 3892 1882C3895 1884 3898 1881 3901 1876C3908 1866 3914 1836 3921 1817C3925 1805 3930 1797 3934 1805C3941 1816 3947 1853 3954 1900C3961 1945 3967 1993 3974 2030C3977 2046 3980 2061 3983 2070C3985 2076 3987 2078 3989 2079C3996 2081 4002 2046 4009 2006C4019 1948 4029 1873 4039 1826C4045 1798 4051 1781 4057 1774C4061 1769 4065 1770 4069 1781C4081 1814 4093 1929 4105 2030C4109 2064 4113 2096 4117 2131C4123 2183 4129 2237 4135 2276C4143 2328 4151 2359 4159 2397C4173 2464 4187 2544 4201 2655C4209 2719 4217 2795 4225 2860C4231 2909 4237 2948 4243 2966C4251 2990 4259 2983 4267 2991C4283 3007 4299 3052 4315 3120C4323 3153 4331 3198 4339 3243C4351 3311 4363 3375 4375 3415C4387 3454 4399 3475 4411 3507C4413 3513 4415 3519 4417 3524" stroke="#EDB120" stroke-width="9"/>
<path d="M643 2336C645 2284 647 2226 649 2180C651 2133 653 2096 655 2057C657 2018 659 1982 661 1945C663 1909 665 1870 667 1838C669 1806 671 1779 673 1754C675 1730 677 1711 679 1690C685 1626 691 1564 697 1514C707 1430 717 1366 727 1317C729 1308 731 1297 733 1290C735 1283 737 1281 739 1275C741 1269 743 1260 745 1253C761 1201 777 1177 793 1164C809 1152 825 1149 841 1151C857 1154 873 1152 889 1146C895 1144 901 1143 907 1139C921 1129 935 1070 949 1051C963 1033 977 1033 991 1033C993 1033 995 1039 997 1033C999 1027 1001 1005 1003 999C1005 993 1007 999 1009 998C1017 993 1025 980 1033 989C1043 1001 1053 1043 1063 1117C1067 1148 1071 1187 1075 1213C1077 1225 1079 1233 1081 1233C1084 1232 1087 1212 1090 1188C1095 1148 1100 1103 1105 1071C1113 1021 1121 988 1129 983C1137 979 1145 1003 1153 1042C1159 1072 1165 1116 1171 1146C1174 1157 1176 1164 1178 1165C1182 1164 1186 1145 1189 1123C1196 1082 1203 1041 1210 1017C1220 983 1230 975 1240 982C1255 993 1270 1006 1285 1011C1299 1016 1313 1012 1327 997C1343 979 1359 960 1375 949C1391 937 1407 929 1423 927C1439 926 1455 931 1471 942C1487 953 1503 974 1519 983C1535 992 1551 984 1567 973C1583 962 1599 948 1615 943C1631 938 1647 939 1663 947C1675 953 1687 958 1699 982C1709 1002 1719 1040 1729 1077C1735 1100 1741 1123 1747 1132C1748 1134 1749 1135 1749 1136C1753 1139 1756 1140 1759 1138C1767 1132 1775 1106 1783 1082C1793 1052 1803 1021 1813 1005C1829 980 1845 969 1861 968C1875 968 1889 983 1903 990C1919 997 1935 1005 1951 1024C1967 1044 1983 1066 1999 1061C2015 1057 2031 1032 2047 1020C2059 1012 2071 1009 2083 1005C2099 998 2115 995 2131 1001C2147 1007 2163 1023 2179 1044C2189 1057 2199 1090 2209 1149C2215 1186 2222 1236 2228 1295C2232 1334 2236 1386 2241 1385C2241 1385 2241 1385 2241 1385C2244 1381 2248 1342 2251 1304C2257 1238 2263 1179 2269 1138C2279 1069 2289 1034 2299 1021C2309 1008 2319 1006 2329 1004C2343 1001 2357 1006 2371 1017C2387 1029 2403 1045 2419 1056C2435 1068 2451 1077 2467 1069C2483 1062 2499 1050 2515 1041C2531 1033 2547 1025 2563 1019C2579 1012 2595 1001 2611 1004C2627 1007 2643 1030 2659 1040C2669 1046 2679 1047 2689 1048C2699 1049 2709 1058 2719 1076C2725 1087 2731 1104 2737 1116C2741 1124 2745 1128 2748 1123C2751 1119 2754 1109 2757 1095C2765 1061 2773 1009 2780 995C2787 983 2794 982 2800 972C2805 964 2810 962 2815 963C2821 964 2827 964 2833 964C2843 965 2853 977 2863 1023C2869 1050 2875 1092 2881 1137C2885 1166 2889 1194 2893 1195C2896 1194 2899 1176 2902 1154C2907 1116 2912 1070 2917 1036C2927 969 2937 928 2947 905C2955 886 2963 878 2971 866C2983 848 2995 832 3007 813C3019 794 3031 760 3043 724C3047 713 3051 700 3055 679C3065 627 3075 533 3085 536C3097 539 3109 650 3121 743C3127 789 3133 836 3139 889C3145 942 3151 996 3157 1046C3161 1079 3165 1108 3169 1148C3171 1168 3173 1191 3175 1215C3177 1239 3179 1281 3181 1292C3183 1303 3185 1293 3187 1281C3189 1269 3191 1241 3193 1221C3195 1202 3197 1187 3199 1165C3201 1143 3203 1112 3205 1089C3213 997 3221 947 3229 901C3237 855 3245 817 3253 777C3261 738 3269 700 3277 699C3287 697 3297 752 3307 802C3313 832 3319 860 3325 868C3331 877 3337 868 3343 861C3359 842 3375 795 3391 783C3407 772 3423 799 3439 829C3455 859 3471 895 3487 929C3503 962 3519 996 3535 1036C3543 1056 3551 1078 3559 1111C3569 1152 3579 1201 3589 1225C3603 1258 3617 1234 3631 1240C3641 1245 3651 1268 3661 1312C3667 1339 3674 1378 3680 1407C3683 1421 3686 1431 3689 1434C3692 1436 3695 1430 3698 1420C3704 1402 3709 1376 3715 1359C3725 1330 3735 1320 3745 1325C3755 1330 3765 1343 3775 1350C3789 1360 3803 1375 3817 1404C3825 1420 3833 1432 3841 1456C3845 1468 3849 1487 3853 1498C3859 1514 3865 1516 3871 1520C3883 1528 3895 1522 3907 1521C3917 1521 3927 1528 3937 1558C3947 1588 3957 1637 3967 1697C3975 1744 3983 1808 3991 1861C3995 1888 3999 1910 4003 1914C4004 1914 4004 1914 4004 1914C4008 1916 4011 1906 4015 1888C4023 1850 4031 1792 4039 1755C4045 1728 4051 1712 4057 1701C4061 1693 4065 1687 4069 1687C4083 1686 4097 1736 4111 1793C4121 1834 4131 1892 4141 1940C4157 2018 4173 2106 4189 2194C4199 2249 4209 2302 4219 2343C4231 2391 4243 2434 4255 2480C4267 2526 4279 2596 4291 2653C4305 2720 4319 2773 4333 2863C4349 2967 4365 3074 4381 3187C4393 3272 4405 3361 4417 3448" stroke="#77AC30" stroke-width="9"/>
<path d="M643 1923C645 1890 647 1854 649 1824C651 1793 653 1767 655 1739C661 1654 667 1571 673 1519C677 1484 681 1462 685 1436C699 1345 713 1266 727 1212C729 1204 731 1193 733 1190C735 1188 737 1199 739 1197C741 1196 743 1185 745 1180C751 1166 757 1159 763 1150C779 1126 795 1117 811 1110C827 1104 843 1106 859 1098C875 1091 891 1074 907 1047C919 1026 931 982 943 964C959 941 975 952 991 963C993 965 995 981 997 968C999 954 1001 896 1003 883C1005 869 1007 887 1009 887C1023 890 1037 852 1051 847C1063 843 1075 858 1087 943C1090 965 1093 992 1096 1020C1099 1047 1102 1076 1105 1074C1110 1066 1114 998 1118 949C1131 803 1144 747 1157 725C1168 707 1179 724 1189 740C1205 763 1221 801 1237 827C1251 851 1265 863 1279 843C1295 821 1311 764 1327 735C1343 706 1359 708 1375 714C1387 718 1399 720 1411 731C1427 745 1443 767 1459 796C1475 825 1491 863 1507 877C1523 891 1539 880 1555 877C1571 874 1587 872 1603 874C1619 875 1635 882 1651 892C1667 903 1683 917 1699 932C1709 942 1719 962 1729 1011C1735 1040 1741 1076 1747 1147C1750 1177 1752 1211 1755 1269C1757 1310 1759 1359 1760 1448C1761 1472 1762 1501 1762 1529C1763 1559 1763 1597 1764 1610C1764 1613 1764 1613 1764 1614C1764 1612 1764 1612 1764 1608C1765 1595 1765 1556 1766 1524C1766 1493 1767 1464 1768 1438C1769 1344 1771 1292 1773 1245C1776 1170 1779 1125 1782 1086C1788 1001 1795 951 1801 912C1810 861 1818 832 1826 822C1836 810 1846 804 1855 799C1863 794 1871 796 1879 802C1887 808 1895 814 1903 810C1913 806 1923 789 1933 809C1943 827 1952 867 1961 965C1964 996 1967 1036 1970 1084C1973 1132 1976 1196 1979 1201C1982 1200 1985 1142 1988 1097C1996 982 2004 921 2011 876C2021 819 2031 792 2041 789C2053 784 2065 820 2077 828C2089 836 2101 830 2113 826C2129 820 2145 810 2161 815C2177 821 2193 844 2209 860C2225 875 2241 871 2257 862C2273 853 2289 845 2305 847C2319 849 2333 855 2347 869C2359 881 2371 907 2383 927C2393 945 2403 966 2413 1011C2421 1043 2428 1085 2435 1164C2438 1197 2441 1239 2444 1293C2446 1326 2448 1368 2450 1402C2451 1424 2452 1439 2453 1441C2455 1439 2457 1392 2459 1353C2462 1299 2465 1251 2467 1214C2473 1135 2479 1089 2485 1057C2493 1015 2501 1006 2509 1024C2517 1041 2525 1086 2533 1137C2537 1164 2541 1193 2545 1193C2545 1193 2545 1193 2546 1193C2550 1190 2553 1162 2557 1132C2565 1072 2573 1015 2581 979C2591 933 2601 914 2611 910C2621 906 2631 915 2641 926C2657 944 2673 945 2689 941C2699 938 2709 926 2719 902C2723 892 2727 880 2731 872C2747 840 2763 838 2779 832C2787 830 2795 828 2803 824C2807 822 2811 821 2815 823C2821 827 2827 830 2833 823C2843 811 2853 782 2863 763C2873 744 2883 728 2893 724C2905 719 2917 715 2929 715C2945 714 2961 696 2977 668C2987 651 2997 634 3007 626C3011 623 3015 618 3019 608C3035 568 3051 501 3067 448C3073 428 3079 409 3085 409C3093 408 3101 430 3109 485C3111 498 3113 516 3115 532C3123 597 3131 664 3139 748C3145 812 3151 879 3157 941C3163 1003 3169 1060 3175 1142C3177 1169 3179 1216 3181 1231C3185 1261 3189 1221 3193 1188C3195 1171 3197 1160 3199 1134C3201 1108 3203 1061 3205 1031C3211 940 3217 889 3223 839C3231 773 3239 721 3247 666C3257 599 3267 540 3277 531C3283 526 3289 536 3295 561C3301 585 3307 629 3313 658C3315 668 3317 675 3319 682C3321 689 3323 697 3325 700C3331 709 3337 696 3343 690C3357 675 3371 652 3385 645C3395 640 3405 654 3415 672C3421 683 3427 696 3433 703C3447 718 3461 713 3475 716C3483 717 3491 724 3499 747C3505 763 3511 785 3517 801C3531 839 3545 868 3559 889C3568 902 3576 908 3585 906C3595 904 3605 909 3615 964C3621 998 3627 1046 3634 1093C3638 1123 3642 1152 3646 1169C3646 1169 3647 1170 3647 1171C3650 1182 3653 1190 3656 1191C3662 1193 3667 1181 3673 1167C3683 1142 3693 1107 3703 1098C3709 1092 3715 1094 3721 1096C3731 1099 3741 1120 3751 1128C3759 1135 3767 1142 3775 1149C3782 1155 3788 1166 3794 1187C3798 1199 3802 1213 3805 1227C3808 1236 3810 1243 3812 1256C3819 1294 3826 1331 3833 1345C3834 1348 3835 1350 3836 1351C3840 1354 3844 1350 3847 1345C3852 1338 3856 1331 3860 1337C3866 1344 3872 1361 3878 1370C3886 1383 3894 1406 3901 1414C3907 1420 3913 1415 3919 1412C3931 1407 3943 1393 3955 1392C3963 1391 3971 1394 3979 1410C3989 1429 3999 1463 4008 1492C4013 1508 4019 1521 4024 1527C4025 1528 4025 1528 4026 1529C4029 1532 4032 1533 4035 1534C4041 1536 4046 1539 4051 1542C4059 1548 4067 1528 4075 1537C4087 1550 4099 1604 4111 1662C4123 1720 4135 1786 4147 1812C4158 1836 4169 1826 4180 1831C4188 1835 4196 1849 4204 1869C4210 1881 4215 1892 4220 1891C4221 1891 4222 1890 4222 1890C4225 1887 4228 1882 4231 1874C4237 1859 4243 1838 4249 1836C4254 1834 4259 1854 4264 1887C4265 1894 4266 1901 4267 1909C4270 1926 4272 1949 4274 1963C4282 2010 4290 2060 4297 2093C4303 2119 4309 2137 4315 2159C4319 2173 4323 2187 4327 2215C4331 2242 4335 2284 4339 2322C4349 2416 4359 2516 4369 2611C4379 2705 4389 2787 4399 2833C4405 2860 4411 2875 4417 2890" stroke="#EDB120" stroke-width="9"/>
<path d="M643 2072C645 2032 647 1988 649 1952C651 1916 653 1886 655 1854C661 1758 667 1665 673 1604C677 1564 681 1535 685 1503C699 1391 713 1304 727 1244C729 1235 731 1224 733 1220C735 1216 737 1223 739 1219C741 1216 743 1206 745 1200C753 1179 761 1167 769 1154C785 1129 801 1124 817 1118C833 1113 849 1115 865 1106C879 1098 893 1087 907 1060C919 1038 931 983 943 954C959 916 975 909 991 912C993 913 995 936 997 914C999 893 1001 803 1003 783C1005 763 1007 792 1009 796C1017 811 1025 834 1033 876C1042 924 1051 995 1060 1077C1065 1115 1069 1164 1073 1160C1073 1160 1073 1159 1073 1159C1076 1152 1079 1117 1082 1081C1087 1021 1092 965 1097 926C1107 852 1116 818 1125 807C1135 795 1144 807 1153 818C1169 836 1185 872 1201 896C1217 920 1233 932 1249 935C1263 938 1277 925 1291 898C1307 868 1323 827 1339 825C1355 823 1371 852 1387 894C1399 926 1411 970 1423 957C1433 945 1443 905 1453 881C1469 841 1485 826 1501 834C1517 841 1533 872 1549 904C1561 928 1573 947 1585 947C1599 947 1613 934 1627 929C1637 926 1647 925 1657 953C1667 979 1676 1030 1686 1107C1690 1142 1694 1183 1698 1185C1698 1185 1699 1185 1699 1185C1702 1184 1705 1163 1708 1140C1713 1098 1718 1054 1723 1024C1733 965 1743 944 1753 948C1767 953 1781 1016 1795 1018C1807 1020 1819 971 1831 946C1840 927 1849 915 1858 911C1868 907 1878 934 1888 1001C1893 1034 1898 1076 1903 1144C1907 1197 1911 1266 1915 1394C1917 1433 1918 1485 1919 1507C1919 1513 1920 1516 1920 1518C1921 1517 1921 1507 1922 1491C1922 1479 1923 1462 1924 1449C1925 1413 1926 1377 1927 1349C1931 1261 1935 1221 1939 1188C1945 1138 1951 1103 1957 1067C1966 1018 1974 976 1982 959C1998 925 2014 911 2029 910C2041 910 2053 912 2065 932C2075 948 2085 973 2095 1047C2102 1093 2108 1156 2114 1299C2116 1345 2118 1405 2120 1410C2122 1407 2124 1347 2126 1302C2132 1167 2138 1108 2144 1065C2152 1008 2160 981 2167 960C2177 933 2187 924 2197 910C2213 887 2229 871 2245 870C2261 869 2277 883 2293 912C2303 929 2313 951 2323 951C2335 951 2347 923 2359 920C2373 917 2387 931 2401 945C2415 959 2429 962 2443 970C2457 977 2471 969 2485 975C2501 982 2517 995 2533 994C2543 994 2553 994 2563 1022C2572 1045 2580 1081 2588 1160C2590 1183 2593 1210 2595 1232C2597 1251 2599 1266 2601 1265C2604 1261 2608 1211 2611 1171C2617 1099 2623 1051 2629 1023C2639 977 2649 974 2659 981C2669 989 2679 1011 2689 1004C2705 994 2721 913 2737 887C2749 867 2761 859 2773 859C2783 859 2793 874 2803 879C2807 881 2811 885 2815 891C2821 900 2827 909 2833 909C2845 907 2857 878 2869 853C2883 824 2897 796 2911 766C2927 733 2943 713 2959 699C2975 685 2991 679 3007 673C3017 669 3027 651 3037 636C3043 627 3049 622 3055 599C3065 561 3075 474 3085 459C3091 449 3097 458 3103 478C3105 484 3107 491 3109 501C3113 521 3117 549 3121 576C3127 616 3133 659 3139 716C3143 754 3147 796 3151 837C3157 897 3163 952 3169 1025C3171 1049 3173 1073 3175 1102C3177 1131 3179 1181 3181 1199C3183 1217 3185 1213 3187 1209C3189 1206 3191 1189 3193 1176C3195 1162 3197 1151 3199 1126C3201 1101 3203 1054 3205 1026C3209 969 3213 939 3217 907C3223 859 3229 819 3235 774C3247 685 3259 577 3271 543C3279 519 3287 526 3295 561C3301 587 3307 632 3313 663C3315 673 3317 681 3319 689C3321 696 3323 704 3325 707C3331 718 3337 706 3343 699C3357 685 3371 658 3385 649C3395 644 3405 658 3415 677C3421 689 3427 702 3433 709C3449 725 3465 714 3481 727C3495 739 3509 776 3523 808C3535 835 3547 865 3559 915C3567 948 3575 992 3583 1010C3597 1040 3611 985 3625 971C3635 961 3645 962 3655 1000C3664 1033 3672 1085 3681 1147C3686 1187 3692 1233 3697 1251C3698 1253 3698 1255 3699 1256C3702 1263 3706 1259 3709 1251C3717 1231 3725 1200 3733 1186C3743 1168 3753 1161 3763 1172C3773 1182 3783 1196 3793 1217C3797 1225 3801 1235 3805 1241C3807 1244 3809 1246 3811 1249C3813 1253 3815 1259 3817 1263C3827 1282 3837 1286 3847 1303C3859 1324 3871 1338 3883 1368C3890 1385 3897 1409 3903 1438C3909 1463 3915 1497 3921 1532C3923 1544 3925 1554 3927 1565C3931 1583 3934 1598 3937 1612C3942 1632 3947 1654 3951 1667C3953 1670 3954 1676 3955 1677C3960 1684 3965 1673 3969 1652C3977 1620 3984 1584 3991 1562C4001 1531 4011 1518 4021 1511C4030 1505 4039 1509 4048 1535C4058 1564 4068 1591 4078 1648C4086 1691 4093 1748 4101 1790C4104 1806 4107 1820 4110 1831C4113 1842 4116 1849 4119 1854C4127 1865 4134 1860 4142 1856C4150 1851 4158 1850 4165 1867C4174 1886 4183 1926 4191 1968C4198 2001 4205 2038 4212 2062C4213 2066 4214 2070 4215 2073C4219 2083 4222 2090 4225 2096C4233 2111 4241 2128 4249 2152C4253 2164 4257 2179 4261 2200C4269 2243 4277 2315 4285 2381C4301 2512 4317 2645 4333 2739C4345 2809 4357 2823 4369 2855C4383 2891 4397 2942 4411 3010C4413 3020 4415 3031 4417 3041" stroke="#7E2F8E" stroke-width="9"/>
<path d="M643 2564C645 2501 647 2432 649 2377C651 2322 653 2280 655 2235C657 2190 659 2150 661 2108C663 2066 665 2020 667 1983C669 1946 671 1916 673 1888C675 1859 677 1838 679 1813C683 1763 687 1710 691 1666C701 1555 711 1479 721 1417C735 1330 749 1279 763 1244C779 1203 795 1192 811 1187C823 1183 835 1184 847 1187C863 1191 879 1184 895 1181C901 1180 907 1183 913 1176C925 1161 937 1110 949 1103C959 1098 968 1103 977 1112C983 1118 989 1123 995 1124C997 1124 999 1130 1001 1134C1003 1137 1004 1138 1005 1137C1012 1129 1019 1113 1025 1098C1034 1078 1043 1064 1051 1065C1063 1066 1075 1082 1087 1094C1099 1107 1111 1113 1123 1104C1139 1091 1155 1062 1171 1047C1187 1032 1203 1020 1219 1019C1235 1019 1251 1026 1267 1030C1283 1033 1299 1032 1315 1022C1331 1012 1347 999 1363 1000C1379 1001 1395 1014 1411 1029C1425 1041 1439 1049 1453 1036C1469 1020 1485 988 1501 972C1517 957 1533 954 1549 962C1565 971 1581 990 1597 1007C1607 1017 1617 1039 1627 1068C1635 1091 1643 1122 1651 1138C1654 1144 1657 1147 1660 1147C1663 1147 1666 1143 1669 1137C1677 1121 1685 1092 1693 1074C1703 1051 1713 1045 1723 1053C1736 1062 1749 1074 1762 1073C1772 1073 1782 1080 1792 1119C1797 1139 1802 1166 1807 1220C1811 1262 1815 1322 1819 1428C1821 1466 1822 1515 1824 1522C1824 1523 1824 1523 1824 1523C1825 1521 1825 1511 1826 1496C1827 1465 1829 1420 1830 1386C1834 1270 1839 1212 1843 1166C1851 1085 1859 1054 1867 1037C1877 1016 1887 1033 1897 1044C1913 1062 1929 1082 1945 1097C1961 1111 1977 1114 1993 1118C2003 1120 2013 1134 2023 1186C2029 1216 2035 1257 2041 1329C2045 1371 2048 1428 2052 1501C2054 1541 2056 1588 2058 1592C2060 1590 2063 1528 2065 1483C2073 1335 2081 1283 2089 1238C2099 1183 2109 1155 2119 1141C2133 1123 2147 1106 2161 1097C2171 1090 2181 1092 2191 1107C2199 1120 2207 1140 2215 1154C2219 1161 2224 1167 2228 1170C2228 1170 2228 1170 2228 1170C2232 1172 2236 1172 2239 1169C2247 1163 2255 1150 2263 1141C2273 1129 2283 1122 2293 1121C2303 1120 2313 1113 2323 1116C2333 1120 2343 1141 2353 1206C2357 1232 2361 1264 2365 1315C2368 1348 2370 1385 2373 1448C2374 1484 2376 1522 2377 1589C2378 1608 2378 1627 2378 1652C2379 1684 2380 1715 2380 1766C2380 1800 2381 1840 2381 1885C2381 1912 2381 1952 2382 1972C2382 1985 2382 1991 2382 2000C2382 1991 2382 1985 2382 1972C2383 1952 2383 1913 2383 1886C2383 1840 2384 1801 2384 1768C2384 1718 2385 1687 2386 1655C2386 1601 2387 1572 2388 1541C2389 1505 2390 1479 2391 1455C2394 1383 2397 1346 2400 1312C2406 1241 2413 1208 2419 1183C2429 1142 2439 1133 2449 1129C2465 1123 2481 1114 2497 1111C2513 1109 2529 1112 2545 1114C2561 1116 2577 1122 2593 1122C2609 1121 2625 1112 2641 1103C2657 1095 2673 1090 2689 1088C2705 1085 2721 1088 2737 1067C2747 1054 2757 1034 2767 1021C2769 1019 2771 1015 2773 1015C2781 1014 2789 1051 2797 1050C2801 1050 2805 1040 2809 1036C2815 1030 2821 1027 2827 1023C2837 1017 2847 1023 2857 1057C2864 1078 2870 1115 2876 1154C2880 1181 2884 1208 2889 1210C2889 1210 2889 1210 2889 1210C2892 1210 2896 1193 2899 1173C2907 1130 2914 1082 2921 1053C2931 1012 2941 991 2951 982C2966 969 2981 953 2995 941C3011 927 3027 917 3043 885C3045 881 3047 879 3049 871C3053 857 3057 827 3061 792C3067 739 3073 669 3079 641C3087 603 3095 636 3103 681C3109 714 3115 757 3121 796C3127 835 3133 881 3139 945C3146 1015 3152 1097 3159 1193C3161 1223 3163 1253 3165 1287C3167 1315 3168 1342 3170 1377C3172 1425 3175 1476 3177 1525C3178 1553 3180 1579 3181 1601C3182 1612 3182 1606 3183 1605C3184 1602 3186 1597 3187 1581C3188 1574 3188 1560 3189 1550C3191 1506 3194 1456 3196 1414C3201 1320 3206 1234 3211 1174C3217 1104 3223 1061 3229 1024C3237 975 3245 953 3253 918C3261 883 3269 837 3277 832C3293 820 3309 947 3325 964C3332 972 3339 962 3346 964C3355 966 3365 978 3374 1029C3379 1056 3384 1099 3389 1149C3392 1178 3395 1209 3398 1210C3402 1208 3406 1158 3409 1119C3417 1037 3425 988 3433 964C3443 934 3453 941 3463 958C3479 986 3495 1012 3511 1046C3521 1068 3531 1093 3541 1127C3547 1147 3553 1174 3559 1210C3567 1257 3575 1315 3583 1370C3587 1398 3591 1424 3595 1446C3602 1483 3608 1506 3615 1535C3620 1559 3626 1584 3631 1588C3632 1588 3632 1588 3633 1588C3636 1588 3640 1580 3643 1567C3650 1543 3658 1512 3665 1495C3675 1471 3685 1468 3695 1478C3704 1487 3712 1494 3721 1497C3731 1501 3741 1517 3751 1552C3758 1575 3764 1608 3770 1646C3775 1671 3779 1695 3783 1699C3783 1699 3783 1699 3783 1699C3787 1701 3790 1690 3793 1676C3799 1651 3805 1626 3811 1616C3817 1606 3823 1610 3829 1621C3833 1629 3837 1638 3841 1659C3845 1679 3849 1712 3853 1731C3859 1759 3865 1758 3871 1762C3883 1772 3894 1776 3905 1775C3910 1775 3915 1777 3919 1783C3923 1788 3927 1796 3931 1814C3939 1850 3947 1921 3955 1990C3959 2023 3963 2052 3966 2064C3967 2065 3967 2066 3967 2067C3970 2075 3973 2073 3976 2068C3982 2059 3987 2045 3993 2042C3998 2039 4004 2045 4009 2047C4012 2048 4014 2050 4017 2049C4020 2049 4023 2046 4026 2043C4032 2034 4039 2012 4045 1988C4051 1966 4057 1940 4063 1926C4075 1897 4087 1942 4099 1991C4105 2015 4111 2038 4117 2070C4123 2102 4129 2144 4135 2179C4143 2226 4151 2267 4159 2316C4175 2413 4191 2528 4207 2637C4223 2746 4239 2841 4255 2926C4271 3012 4287 3106 4303 3202C4313 3262 4323 3326 4333 3396C4347 3495 4361 3591 4375 3652C4389 3713 4403 3744 4417 3778" stroke="#77AC30" stroke-width="9"/>
<path d="M643 2297C645 2246 647 2190 649 2145C651 2100 653 2064 655 2026C657 1988 659 1952 661 1917C663 1881 665 1843 667 1812C669 1781 671 1755 673 1731C675 1706 677 1689 679 1668C685 1606 691 1546 697 1497C707 1416 717 1353 727 1305C729 1295 731 1285 733 1278C735 1271 737 1271 739 1265C741 1260 743 1251 745 1244C761 1193 777 1170 793 1158C809 1146 825 1144 841 1145C857 1146 873 1143 889 1132C895 1128 901 1123 907 1116C919 1102 931 1049 943 1024C959 989 975 987 991 986C993 986 995 987 997 986C999 985 1001 923 1003 915C1005 911 1006 919 1007 921C1014 933 1021 947 1027 988C1034 1027 1040 1085 1046 1197C1049 1245 1052 1307 1054 1370C1056 1407 1057 1442 1059 1452C1061 1460 1063 1425 1065 1395C1069 1342 1073 1303 1076 1268C1077 1261 1078 1255 1078 1249C1081 1220 1084 1191 1087 1161C1092 1112 1097 1064 1102 1027C1109 975 1116 943 1123 925C1135 896 1147 895 1159 891C1175 886 1191 892 1207 906C1223 919 1239 938 1255 953C1271 967 1287 975 1303 973C1319 970 1335 953 1351 945C1367 936 1383 934 1399 935C1407 935 1415 937 1423 941C1433 946 1443 974 1453 1038C1458 1067 1462 1104 1467 1161C1470 1204 1474 1254 1477 1348C1479 1387 1480 1434 1482 1497C1482 1524 1483 1556 1483 1584C1484 1604 1484 1624 1485 1631C1485 1634 1485 1634 1485 1635C1485 1634 1485 1634 1485 1632C1486 1625 1486 1598 1487 1575C1488 1542 1489 1504 1489 1475C1492 1364 1495 1314 1498 1271C1503 1196 1508 1163 1513 1133C1521 1085 1529 1059 1537 1042C1547 1022 1557 1017 1567 1009C1577 1001 1587 994 1597 991C1607 989 1617 1007 1627 1044C1635 1073 1643 1121 1651 1147C1653 1154 1656 1158 1658 1160C1662 1163 1665 1156 1669 1145C1677 1122 1685 1091 1693 1076C1703 1057 1713 1057 1723 1061C1739 1069 1755 1060 1771 1047C1787 1034 1803 1018 1819 1013C1835 1007 1851 1010 1867 1023C1883 1035 1899 1054 1915 1070C1931 1086 1947 1103 1963 1102C1973 1102 1983 1108 1993 1149C1999 1174 2005 1206 2011 1288C2014 1322 2016 1366 2019 1432C2020 1466 2022 1512 2023 1545C2024 1561 2024 1571 2025 1573C2026 1570 2026 1558 2027 1541C2028 1522 2029 1495 2029 1471C2035 1287 2041 1218 2047 1165C2055 1095 2063 1066 2071 1048C2083 1021 2095 1033 2107 1040C2123 1049 2139 1068 2155 1077C2169 1084 2183 1074 2197 1056C2207 1043 2217 1025 2227 1018C2237 1011 2247 1024 2257 1066C2263 1090 2269 1130 2275 1167C2279 1188 2282 1205 2286 1206C2288 1205 2292 1190 2294 1172C2300 1138 2306 1097 2311 1070C2321 1022 2331 1004 2341 1004C2351 1004 2361 1021 2371 1029C2387 1042 2403 1044 2419 1039C2435 1033 2451 1024 2467 1011C2481 1001 2495 1002 2509 1008C2525 1014 2541 1021 2557 1028C2573 1035 2589 1041 2605 1044C2621 1046 2637 1042 2653 1032C2667 1024 2681 1012 2695 1001C2709 990 2723 965 2737 958C2747 952 2757 950 2767 955C2771 957 2775 965 2779 982C2783 1000 2787 1029 2791 1057C2799 1112 2807 1162 2815 1235C2819 1272 2824 1314 2828 1312C2828 1312 2828 1312 2828 1312C2832 1307 2836 1270 2839 1231C2846 1160 2853 1093 2860 1044C2870 974 2880 933 2890 910C2905 875 2920 845 2935 828C2951 810 2967 806 2983 807C2995 807 3007 813 3019 795C3027 783 3035 766 3043 739C3047 726 3051 710 3055 684C3063 634 3071 552 3079 521C3087 490 3095 509 3103 545C3109 572 3115 614 3121 655C3127 695 3133 737 3139 790C3145 844 3151 902 3157 957C3163 1012 3169 1065 3175 1145C3177 1172 3179 1218 3181 1233C3185 1263 3189 1223 3193 1191C3195 1174 3197 1163 3199 1138C3201 1114 3203 1071 3205 1044C3211 964 3217 927 3223 894C3233 839 3243 812 3253 776C3263 741 3273 703 3283 712C3291 718 3299 748 3307 778C3313 800 3319 821 3325 823C3331 825 3337 809 3343 798C3358 770 3373 730 3388 723C3398 718 3408 749 3418 826C3423 865 3428 912 3433 982C3437 1038 3441 1114 3445 1225C3447 1274 3449 1331 3450 1341C3452 1343 3454 1284 3456 1244C3462 1122 3468 1078 3474 1047C3484 998 3493 974 3502 965C3511 957 3520 966 3529 972C3539 978 3549 988 3559 1007C3567 1023 3575 1041 3583 1059C3591 1077 3599 1087 3607 1093C3623 1104 3639 1133 3655 1171C3669 1204 3683 1244 3697 1260C3707 1272 3717 1273 3727 1273C3735 1273 3743 1278 3751 1284C3759 1289 3767 1299 3775 1306C3778 1308 3780 1309 3782 1310C3786 1312 3790 1311 3793 1311C3800 1311 3807 1307 3814 1318C3824 1334 3834 1353 3844 1410C3849 1439 3854 1471 3859 1493C3863 1510 3867 1525 3871 1540C3885 1594 3899 1638 3913 1667C3923 1687 3933 1690 3943 1713C3952 1733 3961 1762 3970 1805C3975 1831 3980 1865 3986 1873C3986 1874 3987 1874 3988 1874C3991 1874 3994 1862 3997 1847C4005 1811 4012 1767 4020 1739C4028 1707 4037 1682 4045 1686C4049 1688 4053 1695 4057 1701C4061 1708 4065 1715 4069 1729C4083 1781 4097 1904 4111 2018C4119 2084 4127 2157 4135 2200C4145 2253 4155 2267 4165 2287C4179 2316 4193 2353 4207 2406C4217 2444 4227 2488 4237 2542C4247 2595 4257 2654 4267 2726C4279 2813 4291 2906 4303 2994C4313 3068 4323 3143 4333 3222C4343 3300 4353 3367 4363 3410C4379 3478 4395 3496 4411 3523C4413 3526 4415 3529 4417 3533" stroke="#0072BD" stroke-width="9"/>
<path d="M643 1965C645 1930 647 1892 649 1859C651 1826 653 1799 655 1770C661 1682 667 1596 673 1541C677 1505 681 1481 685 1454C699 1358 713 1278 727 1221C729 1213 731 1202 733 1199C735 1196 737 1205 739 1203C741 1201 743 1190 745 1185C751 1169 757 1162 763 1153C779 1127 795 1118 811 1111C827 1104 843 1106 859 1098C875 1089 891 1073 907 1045C919 1024 931 979 943 959C957 935 971 938 985 943C989 944 992 949 995 955C996 957 997 962 997 960C999 955 1001 874 1003 874C1004 874 1004 878 1005 881C1013 916 1021 951 1029 1037C1033 1080 1037 1138 1041 1232C1043 1278 1045 1343 1047 1347C1049 1342 1051 1277 1053 1229C1059 1085 1065 1019 1071 965C1080 880 1090 839 1099 814C1107 793 1115 786 1123 793C1133 802 1143 833 1153 916C1157 949 1161 994 1165 1043C1168 1076 1171 1109 1173 1114C1177 1116 1180 1076 1183 1043C1191 964 1199 925 1207 913C1217 897 1227 924 1237 962C1243 984 1249 1003 1255 1000C1263 996 1271 958 1279 927C1295 865 1311 805 1327 779C1343 753 1359 762 1375 774C1391 787 1407 797 1423 799C1439 800 1455 792 1471 789C1487 786 1503 795 1519 812C1535 829 1551 854 1567 856C1583 858 1599 833 1615 816C1628 802 1641 792 1654 791C1664 789 1674 807 1684 859C1691 897 1698 955 1705 1039C1709 1081 1712 1130 1716 1136C1719 1139 1722 1110 1725 1083C1730 1037 1735 998 1740 975C1749 932 1759 938 1768 953C1773 961 1778 972 1783 970C1793 965 1803 913 1813 883C1827 841 1841 830 1855 826C1863 823 1871 828 1879 837C1887 846 1895 855 1903 857C1919 859 1935 849 1951 850C1967 851 1983 850 1999 851C2015 852 2031 858 2047 878C2057 890 2067 909 2077 909C2093 909 2109 880 2125 856C2141 832 2157 821 2173 821C2189 821 2205 820 2221 824C2237 827 2253 842 2269 871C2283 896 2297 932 2311 923C2325 913 2339 879 2353 877C2369 875 2385 902 2401 921C2415 937 2429 934 2443 936C2453 937 2463 935 2473 965C2481 990 2489 1041 2498 1117C2502 1156 2506 1205 2510 1209C2510 1209 2510 1209 2511 1209C2514 1210 2518 1178 2521 1148C2527 1096 2533 1051 2539 1022C2549 973 2559 957 2569 954C2579 951 2589 955 2599 950C2611 944 2623 927 2635 926C2643 925 2651 927 2659 925C2671 921 2683 919 2695 912C2709 903 2723 859 2737 848C2749 839 2761 835 2773 840C2783 844 2793 867 2803 880C2807 885 2811 890 2815 895C2821 902 2827 903 2833 892C2843 873 2853 830 2863 801C2879 755 2895 727 2911 696C2927 666 2943 660 2959 665C2975 670 2991 681 3007 669C3019 660 3031 619 3043 583C3049 565 3055 544 3061 520C3069 488 3077 449 3085 454C3093 458 3101 498 3109 559C3113 589 3117 626 3121 657C3127 705 3133 748 3139 797C3145 846 3151 894 3157 941C3163 988 3169 1032 3175 1108C3177 1133 3179 1179 3181 1194C3183 1209 3185 1202 3187 1197C3189 1192 3191 1178 3193 1163C3195 1149 3197 1141 3199 1110C3201 1079 3203 1016 3205 978C3209 903 3213 856 3217 814C3225 728 3233 678 3241 625C3249 572 3257 521 3265 501C3275 477 3285 493 3295 555C3301 592 3307 650 3313 690C3317 718 3321 741 3325 753C3331 771 3337 765 3343 755C3355 736 3367 681 3379 645C3387 622 3395 604 3403 603C3409 603 3415 608 3421 618C3437 643 3453 666 3469 695C3483 721 3497 759 3511 793C3527 833 3543 860 3559 889C3575 918 3591 942 3607 977C3615 995 3623 1022 3631 1073C3640 1130 3649 1208 3658 1304C3661 1337 3664 1374 3667 1414C3670 1451 3673 1485 3676 1482C3679 1475 3682 1424 3685 1379C3691 1291 3697 1226 3703 1184C3711 1128 3719 1108 3727 1124C3735 1138 3742 1177 3749 1212C3754 1236 3759 1263 3764 1281C3767 1292 3770 1299 3773 1299C3776 1298 3779 1291 3782 1279C3790 1248 3798 1205 3805 1178C3807 1171 3809 1165 3811 1167C3813 1168 3815 1176 3817 1182C3823 1200 3829 1233 3835 1273C3843 1326 3851 1394 3859 1425C3865 1448 3871 1451 3877 1436C3881 1426 3885 1408 3889 1392C3893 1377 3897 1359 3901 1342C3905 1325 3909 1307 3913 1304C3919 1299 3925 1321 3931 1334C3947 1371 3963 1399 3979 1427C3991 1448 4003 1454 4015 1495C4022 1516 4028 1544 4034 1601C4038 1635 4042 1677 4045 1734C4048 1779 4051 1844 4054 1884C4056 1899 4057 1911 4058 1912C4061 1910 4064 1857 4067 1814C4075 1704 4082 1636 4090 1593C4097 1553 4104 1533 4111 1528C4120 1521 4129 1544 4139 1601C4145 1645 4152 1710 4159 1766C4163 1797 4167 1823 4171 1837C4174 1847 4177 1848 4180 1843C4187 1831 4195 1790 4203 1759C4209 1732 4216 1708 4223 1699C4226 1694 4229 1695 4233 1708C4234 1714 4236 1719 4237 1726C4241 1745 4245 1771 4249 1795C4253 1819 4257 1842 4261 1870C4267 1912 4273 1967 4279 2010C4289 2082 4299 2131 4309 2159C4313 2171 4317 2178 4321 2192C4323 2198 4325 2203 4327 2215C4331 2238 4335 2281 4339 2324C4347 2409 4355 2503 4363 2604C4371 2704 4379 2816 4387 2878C4397 2955 4407 2946 4417 2953" stroke="#A2142F" stroke-width="9"/>
<path d="M643 2354C645 2301 647 2242 649 2195C651 2148 653 2110 655 2071C657 2031 659 1995 661 1958C663 1921 665 1881 667 1849C669 1817 671 1790 673 1765C675 1740 677 1721 679 1700C685 1636 691 1573 697 1522C707 1437 717 1373 727 1323C729 1313 731 1303 733 1296C735 1289 737 1286 739 1280C743 1267 747 1251 751 1240C767 1194 783 1173 799 1163C815 1153 831 1153 847 1154C863 1155 879 1148 895 1142C901 1140 907 1141 913 1133C926 1117 938 1064 951 1064C960 1064 970 1085 979 1118C985 1138 991 1161 997 1171C998 1173 999 1162 1001 1154C1001 1151 1002 1146 1003 1142C1004 1134 1005 1135 1006 1132C1013 1114 1020 1067 1027 1029C1036 977 1045 944 1055 931C1064 918 1072 920 1081 919C1097 919 1113 925 1129 936C1145 948 1161 965 1177 987C1193 1009 1209 1033 1225 1036C1241 1039 1257 1025 1273 1007C1289 990 1305 966 1321 955C1337 944 1353 947 1369 958C1385 968 1401 983 1417 995C1430 1004 1442 1011 1454 1011C1464 1010 1474 1023 1484 1062C1490 1087 1497 1126 1503 1181C1507 1217 1511 1266 1516 1266C1516 1266 1516 1266 1516 1266C1519 1263 1522 1234 1525 1203C1531 1143 1537 1090 1543 1055C1553 997 1563 974 1573 971C1581 968 1589 974 1597 978C1613 986 1629 1001 1645 1022C1661 1042 1677 1072 1693 1086C1709 1099 1725 1085 1741 1062C1757 1040 1773 1015 1789 998C1805 980 1821 971 1837 974C1853 978 1869 992 1885 1009C1895 1020 1905 1031 1915 1063C1923 1089 1931 1128 1939 1168C1944 1193 1949 1216 1954 1217C1954 1217 1954 1217 1955 1217C1958 1215 1961 1206 1964 1191C1971 1154 1979 1102 1987 1068C1997 1023 2007 998 2017 992C2031 982 2045 981 2059 988C2075 996 2091 998 2107 1009C2123 1019 2139 1040 2155 1063C2169 1084 2183 1099 2197 1089C2213 1078 2229 1049 2245 1031C2261 1014 2277 1002 2293 999C2309 995 2325 1000 2341 1009C2357 1019 2373 1039 2389 1056C2405 1073 2421 1086 2437 1089C2453 1091 2469 1079 2485 1071C2501 1063 2517 1060 2533 1056C2549 1052 2565 1049 2581 1048C2597 1048 2613 1055 2629 1070C2645 1086 2661 1097 2677 1083C2693 1068 2709 1040 2725 1006C2736 983 2747 962 2758 983C2765 995 2772 1018 2779 1081C2783 1116 2787 1166 2791 1216C2794 1254 2797 1287 2800 1287C2803 1285 2806 1251 2809 1217C2817 1127 2825 1074 2833 1038C2843 993 2853 974 2863 978C2879 984 2895 1011 2911 1006C2923 1002 2935 981 2947 954C2963 918 2979 878 2995 847C3003 831 3011 818 3019 797C3027 775 3035 752 3043 728C3047 715 3051 703 3055 682C3065 629 3075 536 3085 541C3097 548 3109 665 3121 768C3125 803 3129 838 3133 879C3142 963 3150 1065 3158 1173C3162 1222 3166 1277 3169 1336C3171 1355 3172 1380 3173 1401C3176 1447 3178 1497 3181 1533C3181 1537 3182 1536 3182 1535C3183 1532 3184 1527 3186 1520C3186 1516 3187 1515 3187 1507C3189 1481 3191 1441 3193 1406C3196 1367 3198 1336 3200 1289C3202 1247 3204 1202 3206 1168C3208 1137 3210 1105 3211 1079C3221 932 3231 853 3241 791C3247 754 3253 719 3259 690C3267 652 3275 631 3283 645C3289 655 3295 683 3301 716C3309 760 3317 813 3325 830C3331 843 3337 839 3343 839C3359 839 3375 827 3391 832C3407 837 3423 840 3439 849C3455 859 3471 874 3487 895C3503 915 3519 944 3535 982C3543 1001 3551 1024 3559 1060C3573 1123 3587 1219 3601 1261C3613 1296 3625 1301 3637 1311C3645 1317 3653 1325 3661 1347C3668 1365 3675 1398 3682 1403C3683 1404 3684 1403 3685 1402C3688 1398 3691 1386 3694 1371C3699 1346 3704 1314 3709 1291C3719 1245 3729 1222 3739 1217C3745 1214 3751 1216 3757 1219C3773 1227 3789 1275 3805 1354C3815 1403 3825 1466 3835 1538C3839 1567 3843 1601 3847 1635C3851 1670 3855 1704 3859 1727C3863 1750 3867 1767 3871 1778C3881 1808 3891 1784 3901 1745C3911 1705 3921 1657 3931 1642C3941 1627 3951 1649 3961 1682C3968 1704 3975 1735 3981 1772C3987 1803 3992 1835 3997 1847C3998 1849 3999 1850 3999 1851C4003 1856 4006 1853 4009 1846C4017 1828 4025 1793 4033 1774C4043 1749 4053 1754 4063 1782C4077 1821 4091 1948 4105 2019C4111 2050 4117 2073 4123 2096C4129 2119 4135 2137 4141 2150C4155 2179 4169 2205 4183 2248C4195 2285 4207 2331 4219 2382C4231 2434 4243 2499 4255 2573C4267 2648 4279 2748 4291 2843C4303 2938 4315 3033 4327 3146C4335 3222 4343 3308 4351 3361C4365 3453 4379 3441 4393 3449C4401 3453 4409 3461 4417 3471" stroke="#A2142F" stroke-width="9"/>
<path d="M643 2398C645 2343 647 2282 649 2233C651 2184 653 2146 655 2105C657 2064 659 2027 661 1989C663 1951 665 1910 667 1877C669 1843 671 1815 673 1790C675 1764 677 1745 679 1723C685 1656 691 1590 697 1538C707 1451 717 1385 727 1334C729 1324 731 1314 733 1306C735 1299 737 1295 739 1288C743 1275 747 1259 751 1248C767 1201 783 1179 799 1170C815 1160 831 1159 847 1163C863 1166 879 1159 895 1151C901 1148 907 1148 913 1139C923 1123 933 1085 943 1068C953 1052 963 1049 973 1055C983 1061 993 1089 1003 1117C1011 1140 1019 1156 1027 1154C1029 1153 1031 1151 1033 1148C1036 1142 1039 1135 1042 1126C1049 1102 1057 1070 1065 1047C1075 1016 1085 999 1095 997C1110 994 1126 994 1141 985C1157 976 1173 958 1189 951C1205 944 1221 946 1237 954C1253 961 1269 971 1285 993C1295 1007 1305 1033 1315 1053C1323 1069 1331 1073 1339 1061C1349 1047 1359 1017 1369 997C1385 965 1401 949 1417 943C1433 937 1449 943 1465 950C1481 957 1497 966 1513 970C1525 973 1536 968 1548 1007C1554 1029 1561 1061 1567 1119C1571 1155 1575 1199 1579 1276C1581 1314 1583 1361 1585 1426C1587 1466 1588 1520 1589 1543C1589 1550 1590 1553 1590 1554C1590 1553 1591 1548 1591 1539C1592 1522 1593 1495 1594 1472C1595 1432 1596 1393 1597 1363C1601 1266 1605 1221 1609 1183C1615 1127 1621 1098 1627 1074C1637 1034 1647 1019 1657 1007C1673 987 1689 964 1705 952C1721 940 1737 932 1753 936C1769 939 1785 955 1801 983C1817 1009 1832 1047 1847 1055C1857 1060 1867 1063 1877 1098C1884 1123 1891 1165 1897 1214C1901 1242 1905 1270 1909 1268C1912 1265 1915 1245 1918 1221C1923 1179 1928 1133 1933 1101C1943 1037 1953 1007 1963 996C1971 987 1978 988 1986 987C1996 984 2006 997 2016 1046C2022 1078 2029 1121 2035 1217C2038 1250 2040 1292 2042 1345C2044 1392 2046 1455 2048 1461C2050 1458 2052 1397 2054 1352C2060 1217 2066 1162 2072 1121C2082 1054 2092 1035 2101 1035C2109 1035 2117 1053 2125 1062C2135 1074 2145 1076 2155 1066C2169 1051 2183 1027 2197 1013C2213 997 2229 990 2245 992C2261 994 2277 1003 2293 1018C2303 1028 2313 1048 2323 1095C2331 1133 2339 1190 2347 1260C2351 1294 2355 1328 2359 1331C2362 1332 2365 1313 2368 1291C2373 1254 2378 1212 2383 1183C2393 1126 2403 1103 2413 1097C2421 1092 2428 1095 2436 1109C2444 1124 2453 1150 2461 1206C2466 1237 2470 1273 2475 1344C2476 1367 2478 1392 2479 1426C2482 1479 2484 1543 2486 1700C2486 1724 2487 1753 2487 1775C2487 1788 2487 1803 2488 1810C2488 1815 2488 1816 2488 1818C2488 1815 2488 1815 2488 1810C2489 1802 2489 1787 2489 1774C2489 1752 2490 1721 2490 1698C2492 1524 2495 1457 2497 1400C2501 1307 2505 1261 2509 1222C2517 1143 2525 1108 2533 1085C2545 1049 2557 1056 2569 1054C2581 1053 2593 1050 2605 1060C2615 1069 2625 1102 2635 1166C2642 1211 2649 1271 2656 1372C2659 1416 2662 1476 2665 1477C2668 1473 2671 1407 2674 1358C2682 1235 2689 1168 2697 1120C2707 1057 2717 1024 2727 1008C2740 987 2754 975 2767 972C2771 971 2775 972 2779 981C2785 994 2791 1020 2797 1027C2801 1031 2805 1027 2809 1027C2819 1028 2829 1031 2839 1025C2855 1016 2871 1004 2887 1005C2901 1005 2915 1013 2929 1029C2941 1043 2953 1060 2965 1041C2977 1023 2989 965 3001 953C3010 945 3018 952 3027 978C3032 994 3038 1026 3043 1012C3044 1011 3044 1010 3045 1008C3047 1000 3049 986 3051 964C3058 882 3066 745 3073 665C3078 618 3082 584 3087 580C3088 579 3090 576 3091 578C3101 586 3111 685 3121 767C3127 816 3133 866 3139 922C3145 977 3151 1034 3157 1085C3161 1119 3165 1147 3169 1186C3171 1206 3173 1229 3175 1252C3177 1275 3179 1316 3181 1325C3183 1335 3185 1323 3187 1309C3189 1295 3191 1262 3193 1241C3195 1220 3197 1204 3199 1184C3203 1144 3207 1100 3211 1067C3219 1001 3227 960 3235 919C3241 889 3247 862 3253 832C3261 793 3269 751 3277 747C3287 741 3297 789 3307 830C3313 855 3319 877 3325 881C3331 884 3337 872 3343 861C3359 833 3375 785 3391 781C3407 778 3423 823 3439 882C3453 933 3467 1008 3481 1023C3491 1033 3501 1021 3511 1020C3527 1018 3543 1024 3559 1069C3569 1097 3579 1138 3589 1166C3599 1194 3609 1201 3619 1245C3628 1283 3637 1345 3646 1439C3650 1484 3654 1543 3658 1550C3658 1550 3659 1550 3659 1550C3662 1551 3665 1526 3668 1498C3674 1443 3679 1393 3685 1362C3694 1313 3703 1293 3712 1294C3721 1296 3730 1325 3739 1365C3747 1399 3755 1446 3763 1481C3767 1497 3771 1508 3774 1513C3777 1516 3780 1514 3783 1510C3791 1498 3799 1472 3806 1455C3814 1437 3822 1432 3829 1436C3833 1439 3837 1444 3841 1453C3845 1463 3849 1480 3853 1489C3859 1502 3865 1501 3871 1503C3883 1508 3895 1505 3907 1513C3917 1520 3927 1538 3937 1586C3945 1624 3953 1677 3961 1722C3973 1788 3985 1849 3997 1853C4009 1858 4021 1817 4033 1782C4040 1764 4046 1749 4053 1746C4058 1743 4064 1741 4069 1757C4077 1779 4085 1826 4093 1872C4097 1893 4101 1915 4105 1932C4108 1945 4111 1956 4114 1966C4121 1993 4129 2019 4137 2035C4147 2057 4157 2081 4167 2119C4182 2177 4198 2245 4213 2327C4221 2369 4229 2416 4237 2472C4247 2541 4257 2619 4267 2703C4275 2770 4283 2833 4291 2870C4305 2935 4319 2934 4333 2978C4349 3030 4365 3091 4381 3166C4393 3222 4405 3286 4417 3353" stroke="#7E2F8E" stroke-width="9"/>
<path d="M643 2301C645 2250 647 2194 649 2149C651 2104 653 2068 655 2030C657 1992 659 1957 661 1921C663 1885 665 1848 667 1817C669 1786 671 1759 673 1735C675 1711 677 1694 679 1673C685 1611 691 1550 697 1500C707 1418 717 1354 727 1305C729 1295 731 1284 733 1278C735 1271 737 1271 739 1265C741 1259 743 1250 745 1243C761 1192 777 1168 793 1156C809 1144 825 1142 841 1142C857 1142 873 1139 889 1131C895 1128 901 1125 907 1118C919 1103 931 1044 943 1011C959 967 975 955 991 945C993 944 995 962 997 941C999 921 1001 844 1003 824C1005 805 1007 825 1009 826C1021 827 1033 825 1045 841C1059 860 1073 899 1087 931C1094 945 1100 957 1106 957C1116 956 1126 954 1136 979C1143 995 1149 1024 1155 1058C1160 1081 1164 1105 1168 1103C1173 1100 1177 1072 1181 1045C1186 1015 1191 988 1195 975C1203 952 1211 962 1219 1007C1224 1035 1229 1080 1234 1135C1238 1183 1242 1247 1247 1257C1247 1258 1247 1258 1247 1258C1250 1262 1253 1238 1256 1212C1262 1163 1268 1121 1273 1095C1283 1050 1293 1038 1303 1031C1309 1026 1315 1023 1321 1016C1335 998 1349 978 1363 971C1374 965 1385 964 1396 967C1406 970 1416 991 1426 1050C1431 1081 1436 1119 1441 1185C1444 1219 1446 1257 1449 1318C1451 1361 1453 1415 1454 1495C1455 1516 1456 1542 1456 1564C1457 1588 1457 1614 1458 1623C1458 1625 1458 1625 1458 1626C1458 1624 1459 1619 1459 1609C1460 1582 1461 1535 1462 1500C1465 1364 1468 1303 1471 1255C1478 1163 1484 1124 1490 1092C1500 1039 1510 1018 1520 1010C1536 998 1552 986 1567 982C1583 977 1599 978 1615 984C1631 991 1647 1003 1663 1005C1679 1007 1695 995 1711 980C1727 966 1743 948 1759 941C1775 934 1791 936 1807 952C1819 964 1831 989 1843 1010C1853 1026 1863 1029 1873 1023C1889 1012 1905 985 1921 963C1935 943 1949 931 1963 936C1977 940 1992 955 2006 980C2016 997 2026 1034 2036 1080C2044 1116 2051 1158 2059 1177C2062 1184 2065 1185 2068 1183C2071 1180 2074 1172 2077 1160C2085 1131 2093 1085 2101 1053C2111 1012 2121 988 2131 980C2147 966 2163 967 2179 974C2195 981 2211 994 2227 1016C2243 1039 2259 1077 2275 1063C2287 1053 2299 1022 2311 1003C2327 977 2343 960 2359 964C2375 968 2391 986 2407 1001C2419 1012 2431 1019 2443 1034C2457 1050 2471 1067 2485 1055C2497 1044 2509 1024 2521 1011C2537 994 2553 987 2569 978C2585 970 2601 960 2617 971C2631 980 2645 1012 2659 1021C2675 1030 2691 1021 2707 995C2717 980 2727 957 2737 946C2749 933 2760 923 2772 952C2780 973 2789 1044 2797 1107C2802 1139 2806 1165 2810 1181C2812 1186 2813 1188 2814 1190C2817 1192 2820 1186 2823 1173C2828 1150 2834 1116 2839 1091C2849 1046 2859 1021 2869 1011C2877 1003 2885 1002 2893 994C2907 981 2921 962 2935 948C2951 933 2967 922 2983 914C2999 905 3015 898 3031 862C3035 853 3039 842 3043 830C3045 823 3047 818 3049 809C3055 781 3061 722 3067 671C3071 636 3075 602 3079 584C3087 550 3095 578 3103 620C3109 651 3115 695 3121 735C3127 775 3133 816 3139 867C3145 919 3151 983 3157 1054C3161 1102 3165 1151 3169 1215C3173 1277 3177 1361 3181 1457C3183 1498 3184 1497 3186 1521C3186 1527 3187 1535 3187 1541C3188 1553 3189 1556 3190 1567C3191 1581 3192 1597 3193 1619C3194 1634 3195 1654 3196 1672C3197 1698 3198 1735 3199 1735C3199 1735 3199 1734 3199 1733C3200 1719 3201 1654 3202 1601C3203 1558 3204 1515 3205 1478C3206 1443 3207 1415 3208 1388C3213 1230 3218 1154 3223 1085C3231 976 3239 911 3247 845C3259 745 3271 663 3283 660C3289 658 3295 674 3301 697C3309 727 3317 770 3325 777C3331 782 3337 768 3343 760C3359 738 3375 705 3391 714C3405 722 3419 773 3433 793C3449 815 3465 808 3481 815C3497 822 3513 848 3529 876C3545 903 3561 940 3577 1005C3585 1038 3593 1075 3601 1105C3607 1127 3613 1149 3619 1172C3627 1203 3635 1235 3643 1243C3655 1256 3667 1220 3679 1200C3688 1187 3696 1179 3705 1194C3714 1212 3724 1246 3733 1275C3737 1287 3742 1298 3746 1301C3746 1302 3746 1302 3747 1302C3750 1304 3754 1301 3757 1298C3765 1289 3773 1285 3781 1295C3789 1305 3797 1337 3805 1390C3813 1443 3821 1527 3829 1604C3834 1651 3839 1697 3844 1735C3848 1763 3851 1786 3855 1789C3856 1789 3856 1790 3857 1790C3860 1791 3863 1782 3866 1769C3874 1736 3882 1683 3889 1637C3897 1590 3905 1548 3913 1524C3923 1495 3933 1494 3943 1510C3949 1519 3955 1534 3961 1548C3973 1574 3985 1612 3997 1654C4007 1690 4017 1743 4027 1803C4032 1830 4036 1858 4041 1884C4046 1917 4052 1954 4057 1950C4058 1950 4058 1949 4059 1948C4062 1940 4066 1920 4069 1897C4075 1857 4081 1815 4087 1789C4095 1754 4103 1744 4111 1747C4117 1749 4123 1769 4129 1786C4143 1826 4157 1866 4171 1925C4183 1975 4195 2039 4207 2108C4215 2153 4223 2197 4231 2245C4239 2292 4247 2337 4255 2381C4267 2446 4279 2529 4291 2595C4305 2672 4319 2731 4333 2833C4349 2950 4365 3073 4381 3193C4393 3284 4405 3369 4417 3443" stroke="#D95319" stroke-width="9"/>
<path d="M649 2190C651.1 2059.8 657.4 1929.9 664.1 1800C665.1 1780.4 666.4 1760.8 667.9 1741.3C669.4 1723.2 671.5 1705.1 673.4 1687C675.1 1670.6 676.9 1654.3 678.8 1638C680.5 1623.5 682.2 1609 684.2 1594.6C686.6 1578.2 689.7 1562 692.4 1545.7C695.1 1529.3 697.8 1513 700.5 1496.7C703.3 1480.4 705.8 1464.1 708.7 1447.8C711.3 1433.3 714.3 1418.9 716.8 1404.3C719.7 1388.1 722.3 1371.7 725 1355.4C727.7 1339.1 730.4 1322.8 733.2 1306.5C735.9 1290.2 738.2 1273.8 741.3 1257.6C744.4 1241.2 748.3 1224.9 752.2 1208.7C755.6 1194.2 758.9 1179.5 763 1165.2C766.2 1154.2 769.9 1143.3 773.9 1132.6C778 1121.6 782.5 1110.6 787.5 1100C793.1 1088.1 799.4 1076.2 806.5 1065.2C814.5 1052.8 824.6 1041.7 833.7 1029.9C842.8 1018.1 852.2 1006.6 860.9 994.6C870.4 981.3 878.8 967.2 888 953.8C896.9 941 905.2 927.5 915.2 915.8C923.4 906.1 932.7 896.7 942.4 888.6C950.8 881.6 961.7 876.9 969.6 869.6C977.8 861.9 985.5 852.1 991.3 842.4C1000.2 827.4 1006.4 810 1013 793.5C1020.9 773.8 1027.4 753.6 1034.8 733.7C1040.1 719.2 1043.8 703.1 1051.1 690.2C1054.4 684.3 1059.1 676.9 1064.7 673.9C1066.9 672.7 1070.3 671.2 1072.8 671.2C1076.8 671.2 1081.5 676.1 1083.7 679.3C1089.2 687.5 1091.5 701 1094.6 712C1101 735.2 1104.7 759.3 1110.9 782.6C1115.7 800.9 1120.7 819.4 1127.2 837C1131.6 849 1138.1 872.3 1143.5 872.3C1147.2 872.3 1151.9 856.2 1154.3 847.8C1159.4 830.4 1161.2 811.5 1165.2 793.5C1168.5 778.9 1170.6 762.8 1176.1 750C1178.8 743.7 1184.7 732.6 1189.7 732.6C1193.8 732.6 1200.4 740 1203.3 744.6C1211.4 757.6 1214.6 777 1219.6 793.5C1225.5 813.2 1230.7 833.3 1235.9 853.3C1241.5 874.9 1246.5 896.8 1252.2 918.5C1257.4 938.5 1261.7 959 1268.5 978.3C1272.7 990.4 1277.8 1003.4 1284.8 1013.6C1288.9 1019.6 1295.9 1024.3 1301.1 1029.9C1306.8 1036 1313.3 1042 1317.4 1048.9C1323.2 1058.7 1326.7 1070.6 1331 1081.5C1334.8 1091.4 1337.4 1111.4 1341.8 1111.4C1344.1 1111.4 1348.4 1102.6 1350 1097.8C1355.7 1081.1 1356.9 1061.5 1360.9 1043.5C1365.7 1021.6 1370.7 999.6 1377.2 978.3C1381.7 963.5 1386.9 948.6 1393.5 934.8C1397.9 925.4 1402.7 913.6 1409.8 907.6C1413.9 904.1 1420.3 899.5 1426.1 899.5C1431.2 899.5 1437.6 899.5 1442.4 899.5C1448.6 899.5 1453 890.1 1458.7 885.9C1463.9 882 1471.4 879.4 1475 875C1482.7 865.7 1486.4 849.8 1491.3 837C1497.4 820.9 1502.2 804.3 1507.6 788C1513 771.7 1517.9 755.2 1523.9 739.1C1528.8 726.3 1534.2 713.4 1540.2 701.1C1544.3 692.7 1547.7 681.9 1553.8 676.6C1556.5 674.3 1561.6 671.2 1564.7 671.2C1570 671.2 1574.3 681.7 1578.3 687.5C1584.5 696.8 1588.3 708.2 1594.6 717.4C1599.2 724.2 1605.9 729.8 1610.9 736.4C1616.8 744.2 1622.7 752.3 1627.2 760.9C1632.6 771.2 1635 783.6 1640.8 793.5C1643.6 798.3 1648 807.1 1651.6 807.1C1655.3 807.1 1660.6 798.4 1662.5 793.5C1668.6 777.7 1669.9 757.3 1673.4 739.1C1678.2 713.8 1682.4 688.4 1687 663C1690.5 643.1 1693.2 622.9 1697.8 603.3C1701.3 588.6 1705 572.5 1711.4 559.8C1715 552.8 1721.3 545 1727.7 540.8C1733 537.2 1741.5 536.2 1746.7 532.6C1753.1 528.3 1757.1 519.3 1763 513.6C1767.2 509.6 1771.9 502.7 1776.6 502.7C1781 502.7 1787.7 507.5 1790.2 510.9C1797.5 520.6 1800.2 539.7 1803.8 554.3C1809.4 577.5 1813 601.4 1817.4 625C1822.1 650.3 1825.3 676.1 1831 701.1C1833.9 713.9 1836.3 728.6 1841.8 739.1C1844.5 744.3 1850.2 752.7 1855.4 752.7C1860.8 752.7 1869.6 747.3 1874.5 747.3C1880.1 747.3 1885 759.5 1888 766.3C1893.1 777.8 1894.9 791.8 1898.9 804.3C1900.9 810.6 1904.2 822.8 1905.4 822.8C1908.2 822.8 1908.7 794.5 1910.9 780.4C1913.7 762.2 1917.1 743.8 1921.7 726.1C1925.1 713.2 1928.8 698.3 1935.3 688C1938.3 683.5 1944.8 676.1 1948.9 676.1C1953.9 676.1 1959.4 687.2 1962.5 693.5C1968.9 706.4 1972.2 722.3 1976.1 737C1981.3 756.7 1985.8 776.7 1989.7 796.7C1993.8 818.4 1997.6 840.1 2000.5 862C2003.8 885.4 2006.4 909 2008.7 932.6C2010.8 954.3 2012 976.1 2014.1 997.8C2015.7 1014.2 2017.6 1046.7 2019.6 1046.7C2021.5 1046.7 2024.1 1014.2 2026.1 997.8C2028.7 976.1 2030.6 954.3 2033.2 932.6C2035.7 910.8 2038.1 889 2041.3 867.4C2044.3 847.4 2047.4 827.1 2052.2 807.6C2054.9 796.6 2057.7 784.1 2063 775C2065.2 771.3 2070 765.2 2072.8 765.2C2076.4 765.2 2080.2 775.1 2082.1 780.4C2086.2 792.2 2087.9 805.7 2090.2 818.5C2093.4 836.5 2095.7 854.7 2098.4 872.8C2100.6 888.2 2102.5 919 2104.9 919C2107 919 2110.1 891.9 2112 878.3C2115.4 853 2117.3 827.5 2120.1 802.2C2122.7 778.6 2124.6 754.9 2128.3 731.5C2130.8 715.1 2134.4 698.5 2139.1 682.6C2141.9 673.3 2144.9 662.1 2150 655.4C2153.4 651 2160.6 644.6 2166.3 644.6C2171.4 644.6 2177.8 648.3 2182.6 651.1C2188.7 654.6 2195.1 660.5 2198.9 666.3C2205 675.4 2209.4 687.7 2212.5 698.9C2217.4 716.4 2220.7 735 2223.4 753.3C2226.8 776.7 2229.1 800.3 2231.5 823.9C2234.6 854.7 2236.9 885.5 2239.7 916.3C2241.5 936.2 2243 956.2 2245.1 976.1C2246.2 986.1 2247.7 1006 2248.9 1006C2250.5 1006 2251.9 978.8 2253.3 965.2C2255.2 945.3 2256.5 925.3 2258.7 905.4C2260.9 885.5 2263.1 865.3 2266.8 845.7C2268.8 835.6 2270.9 824.4 2275 815.8C2277.2 811.1 2282.2 803.3 2285.9 803.3C2290.4 803.3 2295.6 813 2299.5 818.5C2304.7 826 2308.9 834.6 2313 842.9C2317.9 852.7 2321.1 863.7 2326.6 872.8C2329.6 877.7 2333 886.4 2337.5 886.4C2339.7 886.4 2343.8 884.9 2345.7 883.7C2350.9 880.2 2352.6 869 2356.5 862C2359.8 856 2362.7 848.6 2367.4 844.6C2369.5 842.8 2373.4 840.2 2375.5 840.2C2380.1 840.2 2384.1 850.7 2386.4 856.5C2391.7 869.8 2393.9 885.5 2397.3 900C2401.1 916.3 2403.2 933.2 2408.2 948.9C2409.9 954.5 2413.6 965.2 2415.2 965.2C2418.2 965.2 2419.9 943.5 2421.7 932.6C2425 912.8 2427.2 892.8 2429.9 872.8C2432.6 852.9 2435.2 833 2438 813C2440.6 794.9 2443 776.7 2446.2 758.7C2448.5 745.9 2450.7 732.9 2454.3 720.7C2456.9 712.2 2460.7 703.6 2465.2 696.2C2469.4 689.3 2475.6 683 2481.5 677.2C2486.5 672.3 2492 667.3 2497.8 663.6C2502.9 660.4 2508.5 657.5 2514.1 655.4C2520.2 653.2 2527.3 652.4 2533.2 650C2540 647.1 2545.6 640.6 2552.2 636.4C2557.4 633.1 2562.7 628.5 2568.5 627.2C2571.9 626.4 2576 625.5 2579.3 625.5C2584.2 625.5 2589.4 630.4 2592.9 633.7C2598.6 639.1 2602.4 648 2606.5 655.4C2611.4 664.2 2614.4 674.7 2620.1 682.6C2623 686.6 2626.7 693.5 2631 693.5C2635.5 693.5 2642.8 693.5 2647.3 693.5C2652.6 693.5 2657.1 702.1 2660.9 707.1C2665.1 712.7 2667.8 720 2671.7 726.1C2674.7 730.8 2678.3 739.7 2681.5 739.7C2684.7 739.7 2688.2 730.8 2690.8 726.1C2696.3 715.9 2699.5 704.2 2704.3 693.5C2709.4 682.4 2715.2 671.7 2720.7 660.9C2726.1 650 2731.1 638.9 2737 628.3C2742 619 2747.2 609.6 2753.3 601.1C2758.1 594.4 2763.1 586.1 2769.6 582.1C2773.4 579.7 2778.7 576.6 2783.2 576.6C2788.7 576.6 2793.9 582.5 2799.5 584.8C2804.7 586.9 2810.6 590.2 2815.8 590.2C2820.5 590.2 2825.6 585.3 2829.3 582.1C2834.8 577.2 2837.5 568.2 2842.9 563C2845.5 560.5 2849.5 556.5 2852.2 556.5C2855.9 556.5 2860.2 564.1 2862 568.5C2866.4 579.5 2867.7 593.8 2870.1 606.5C2873.2 622.8 2875.5 639.1 2878.3 655.4C2881 671.7 2883.5 688.1 2886.4 704.3C2889 718.9 2891.2 733.5 2894.6 747.8C2896.7 757 2899.4 766.2 2902.7 775C2903.8 777.8 2905.4 783.2 2906.5 783.2C2909.1 783.2 2911.8 770.6 2913.6 764.1C2917.1 751.7 2919.1 738.8 2921.7 726.1C2925.5 708 2928.6 689.8 2932.6 671.7C2935.9 657.2 2938.8 642.3 2943.5 628.3C2946.9 618 2951.3 607 2957.1 598.4C2961.1 592.3 2968.5 587.9 2973.4 582.1C2978.3 576.2 2983 569.7 2987 563C2993.2 552.7 2997.8 541.3 3003.3 530.4C3008.7 519.6 3013.4 508.1 3019.6 497.8C3023.5 491.2 3027.7 483.8 3033.2 478.8C3036.6 475.6 3041.7 470.7 3045.7 470.7C3049.9 470.7 3055.3 477.4 3057.6 481.5C3063.3 491.7 3066 506.7 3068.5 519.6C3072.2 539.2 3074.8 559.4 3076.6 579.3C3079.1 606.4 3080.4 633.7 3082.1 660.9C3084 691.7 3085.8 722.5 3087.5 753.3C3089.5 789.5 3091.1 825.7 3092.9 862C3094.7 896.4 3096.6 965.2 3098.4 965.2C3099.7 965.2 3101 914.5 3102.2 889.1C3103.8 852.9 3104.6 816.6 3106.5 780.4C3108.1 751.4 3110 722.3 3113 693.5C3114.6 678.9 3116 662.7 3120.1 650C3121.4 646.1 3125.9 639.1 3128.3 639.1C3132.5 639.1 3137 653.3 3139.1 660.9C3144.8 681.4 3147.1 704.3 3150 726.1C3154.4 758.6 3157.6 791.3 3160.9 823.9C3164.9 863.7 3168.5 903.6 3171.7 943.5C3174.7 979.7 3178.6 1015.9 3179.9 1052.2C3181.9 1106.4 3182.7 1160.9 3183.7 1215.2C3184.8 1275 3185.4 1394.6 3186.4 1394.6C3187.4 1394.6 3188 1275 3189.7 1215.2C3190.8 1176.8 3194.5 1138.4 3196.2 1100C3198.5 1047.9 3199.5 995.6 3201.6 943.5C3203.1 907.2 3204.2 870.8 3207.1 834.8C3208.5 816.6 3210.5 796.8 3215.2 780.4C3216.9 774.6 3222.5 769.6 3226.1 764.1C3229.7 758.7 3234.6 753.6 3237 747.8C3242.3 734.6 3244.7 718.9 3247.8 704.3C3252 684.6 3254.2 664.2 3258.7 644.6C3261.6 631.7 3264 617 3269.6 606.5C3271.7 602.4 3277.4 595.7 3280.4 595.7C3282.9 595.7 3285.5 602.7 3287 606.5C3290.9 616.6 3292.7 628.2 3295.1 639.1C3299.2 657.1 3301.9 675.5 3306 693.5C3308.4 704.4 3310.3 716 3314.1 726.1C3315.9 730.9 3319.3 739.7 3322.3 739.7C3325.6 739.7 3330.1 730.9 3333.2 726.1C3338.5 717.7 3342.8 708.2 3346.7 698.9C3351.9 686.6 3355.5 673.4 3360.3 660.9C3364.6 649.9 3368.4 638.4 3373.9 628.3C3377.6 621.5 3381.8 613.1 3387.5 609.2C3391 606.8 3396.6 603.8 3401.1 603.8C3406.6 603.8 3412.6 608.7 3417.4 612C3423.5 616.1 3428.9 622.4 3433.7 628.3C3439.8 635.7 3445.3 644.2 3450 652.7C3456.2 664 3461.3 676.1 3466.3 688C3472.2 702.3 3477.2 717 3482.6 731.5C3488 746 3493.8 760.4 3498.9 775C3504.6 791.2 3510 807.5 3515.2 823.9C3520.9 841.9 3526.8 860 3531.5 878.3C3536.6 898 3540.6 918.1 3545.1 938C3548.8 954.3 3551.4 971 3556 987C3558.1 994.3 3561.9 1008.7 3564.1 1008.7C3567.4 1008.7 3569.8 987 3572.3 976.1C3576.3 958.1 3578.8 939.6 3583.2 921.7C3586.8 907.1 3590.7 891.7 3596.7 878.3C3600.6 869.6 3606.2 859.4 3613 853.8C3617.3 850.4 3623.6 845.7 3629.3 845.7C3632.8 845.7 3636.9 845.7 3640.2 845.7C3646.2 845.7 3652.1 852.2 3656.5 856.5C3663.1 863 3667.4 872.8 3672.8 881C3678.3 889.1 3683.9 897.2 3689.1 905.4C3694.8 914.4 3700 923.6 3705.4 932.6C3710.9 941.7 3715.9 951 3721.7 959.8C3726.8 967.3 3732.2 974.7 3738 981.5C3743 987.3 3748.9 992.4 3754.3 997.8C3759.8 1003.3 3765.7 1008.4 3770.7 1014.1C3776.5 1020.9 3782.5 1028.2 3787 1035.9C3793.3 1047 3798.1 1059.6 3802.7 1071.7C3806.8 1082.4 3810 1093.5 3813.6 1104.3C3817.2 1115.2 3820.7 1126.1 3824.5 1137C3827.9 1147 3831.6 1156.9 3835.3 1166.8C3838.8 1176 3842.7 1184.9 3846.2 1194C3850 1203.9 3853.6 1213.9 3857.1 1223.9C3860.8 1234.7 3864.3 1245.7 3867.9 1256.5C3871.6 1267.4 3874.9 1278.4 3878.8 1289.1C3882.1 1298.3 3885.4 1307.7 3889.7 1316.3C3893.4 1323.9 3897.7 1332.4 3903.3 1338C3907.5 1342.4 3913.7 1347.3 3919.6 1348.9C3924.6 1350.3 3930.5 1351.6 3935.9 1351.6C3941.3 1351.6 3946.7 1347.8 3952.2 1347.8C3956.7 1347.8 3962 1348.3 3965.8 1348.9C3971.1 1349.8 3975.2 1357.7 3979.3 1362.5C3984.3 1368.4 3988.2 1375.4 3992.9 1381.5C3997.2 1387.1 4001.8 1392.6 4006.5 1397.8C4010.8 1402.5 4016 1406.6 4020.1 1411.4C4025.1 1417.3 4030.1 1423.7 4033.7 1430.4C4038.2 1438.9 4041.2 1448.5 4044.6 1457.6C4048.5 1468.4 4051.3 1479.6 4055.4 1490.2C4058.6 1498.5 4061.2 1508.9 4066.3 1514.7C4069.3 1518.1 4075 1522.8 4079.9 1522.8C4085.7 1522.8 4092.6 1522.8 4098.9 1522.8C4104.4 1522.8 4110.2 1521.5 4115.2 1520.1C4121.1 1518.5 4126.3 1513.1 4131.5 1509.2C4136.2 1505.8 4140.1 1500.5 4145.1 1498.4C4149.2 1496.6 4154.3 1494.6 4158.7 1494.6C4164.2 1494.6 4169.8 1499.5 4174.5 1502.8C4181.4 1507.6 4187.6 1514.4 4193 1521C4200.1 1529.5 4206.7 1539.2 4211.8 1549C4217.9 1560.8 4222.6 1573.9 4227 1586.6C4231.9 1600.8 4235.9 1615.4 4239.8 1630C4244.2 1646.5 4248.2 1663.1 4252 1679.8C4255.8 1696.3 4259.6 1712.9 4262.7 1729.5C4267 1752.2 4270.3 1775 4274 1797.8C4278 1822.5 4281.9 1847.3 4286 1872C4290.2 1897 4294.4 1922 4298.8 1947C4302.8 1969.7 4306.7 1992.4 4311 2015C4315 2035.7 4319.4 2056.3 4323.6 2077C4327.8 2097.7 4331.5 2118.4 4336 2139C4339.7 2155.7 4343.9 2172.4 4348 2189C4349.6 2195.7 4351.4 2202.3 4353 2209C4356.2 2222.6 4359.3 2236.3 4362 2250" stroke="#000" stroke-width="17.6"/>
</g>
<g fill="#262626">
<text transform="translate(593.9 225.9) scale(0.9770 1)" text-anchor="end">-20</text>
<text transform="translate(593.9 731.1) scale(0.9770 1)" text-anchor="end">-40</text>
<text transform="translate(593.9 1236.3) scale(0.9770 1)" text-anchor="end">-60</text>
<text transform="translate(593.9 1741.5) scale(0.9770 1)" text-anchor="end">-80</text>
<text transform="translate(593.9 2246.7) scale(0.9770 1)" text-anchor="end">-100</text>
<text transform="translate(649.3 2370.0) scale(0.9770 1)" text-anchor="middle">400</text>
<text transform="translate(1098.8 2370.0) scale(0.9770 1)" text-anchor="middle">5k</text>
<text transform="translate(1587.4 2370.0) scale(0.9770 1)" text-anchor="middle">10k</text>
<text transform="translate(2075.9 2370.0) scale(0.9770 1)" text-anchor="middle">15k</text>
<text transform="translate(2564.5 2370.0) scale(0.9770 1)" text-anchor="middle">20k</text>
<text transform="translate(3053.1 2370.0) scale(0.9770 1)" text-anchor="middle">25k</text>
<text transform="translate(3541.7 2370.0) scale(0.9770 1)" text-anchor="middle">30k</text>
<text transform="translate(4030.2 2370.0) scale(0.9770 1)" text-anchor="middle">35k</text>
<text transform="translate(4518.8 2370.0) scale(0.9770 1)" text-anchor="middle">40k</text>
<text transform="translate(2217.0 2472.2) scale(0.9515 1)" text-anchor="start">Frequency (Hz)</text>
<text transform="translate(336.5 1563.3) rotate(-90) scale(0.9573 1)" text-anchor="start">Magnitude (dB)</text>
</g>
<rect x="2307.1" y="1923" width="554" height="252" fill="#fff" stroke="#262626" stroke-width="4.2"/>
<path d="M2323.3 1989.9H2407.1" stroke="#0072BD" stroke-width="8.3"/>
<path d="M2323.3 2107.7H2407.1" stroke="#000" stroke-width="17"/>
<text transform="translate(2423.2 2030.0) scale(0.9660 1)" text-anchor="start" fill="#000">SIRs</text>
<text transform="translate(2423.6 2147.2) scale(0.9490 1)" text-anchor="start" fill="#000">In-Ear IR</text>
</svg></body></html>
